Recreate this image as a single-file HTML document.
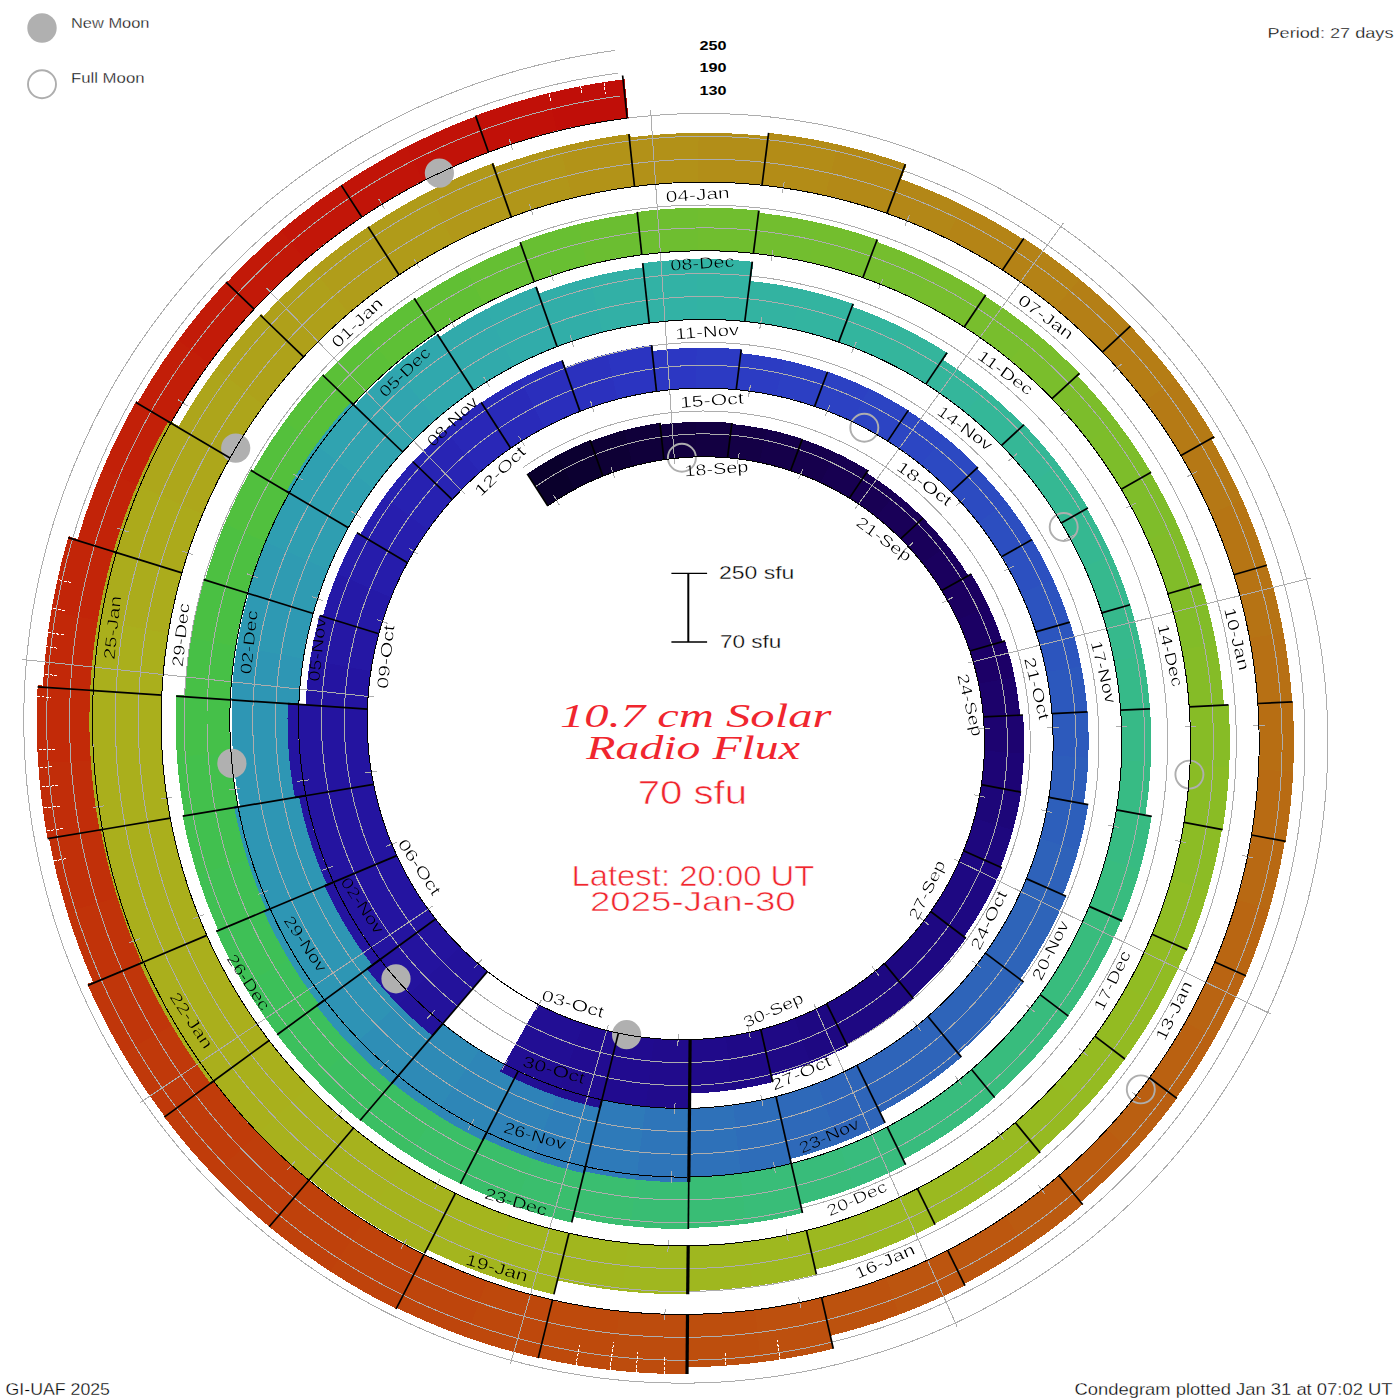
<!DOCTYPE html>
<html><head><meta charset="utf-8"><title>10.7 cm Solar Radio Flux condegram</title>
<style>
html,body{margin:0;padding:0;background:#fff;}
body{width:1400px;height:1400px;overflow:hidden;font-family:"Liberation Sans",sans-serif;}
svg{display:block;position:absolute;left:0;top:0;}
svg text{font-family:"Liberation Sans",sans-serif;}
svg text.ser{font-family:"Liberation Serif",serif;}
</style></head><body>
<svg width="1400" height="1400" viewBox="0 0 1400 1400">
<rect width="1400" height="1400" fill="#fff"/>
<g shape-rendering="crispEdges">
<path d="M488.5 152.3L499.9 148.2L511.4 144.2L523 140.6L534.6 137.1L546.3 133.9L558.1 130.9L549.6 92.9L537.1 96.1L524.6 99.5L512.2 103.1L499.9 107.1L487.6 111.2L475.5 115.6Z" fill="rgb(193,16,8)"/>
<path d="M556.8 131.2L568.6 128.4L580.5 125.9L592.5 123.6L604.5 121.5L616.5 119.6L628.6 118L624.5 79.3L611.7 81L598.9 82.9L586.1 85.1L573.4 87.6L560.7 90.3L548.1 93.3Z" fill="rgb(192,14,8)"/>
<path d="M361.9 217.2L372 210.6L382.2 204.1L392.6 197.9L403.1 191.9L413.7 186.1L424.5 180.4L407.7 146.1L396.3 152.1L385 158.3L373.9 164.7L362.8 171.3L351.9 178.1L341.2 185.1Z" fill="rgb(193,20,8)"/>
<path d="M423.2 181.1L434 175.7L445 170.5L456 165.5L467.2 160.7L478.5 156.1L489.8 151.8L477.2 115.8L465.1 120.4L453.2 125.2L441.3 130.3L429.6 135.6L417.9 141.1L406.4 146.8Z" fill="rgb(193,18,8)"/>
<path d="M254.1 309.2L262.4 300.4L270.8 291.8L279.5 283.4L288.3 275.2L297.2 267.1L306.3 259.2L282.1 229.7L272.4 238.1L262.9 246.6L253.6 255.4L244.4 264.3L235.4 273.4L226.6 282.7Z" fill="rgb(194,25,8)"/>
<path d="M305.3 260.1L314.5 252.4L323.9 244.8L333.5 237.4L343.2 230.2L353.1 223.2L363 216.4L342.4 184.3L331.8 191.5L321.3 198.9L311 206.6L300.8 214.4L290.8 222.4L281 230.6Z" fill="rgb(194,22,8)"/>
<path d="M170.8 423.1L176.8 412.7L183.1 402.4L189.5 392.3L196.1 382.3L202.9 372.4L209.9 362.6L179 339L171.5 349.4L164.2 359.9L157.2 370.5L150.3 381.3L143.7 392.2L137.3 403.3Z" fill="rgb(194,30,8)"/>
<path d="M209.1 363.8L216.3 354.1L223.7 344.6L231.3 335.3L239 326.1L247 317L255.1 308.1L227.1 281.1L218.4 290.6L210 300.2L201.7 309.9L193.6 319.9L185.8 330L178.1 340.2Z" fill="rgb(194,27,8)"/>
<path d="M116.3 552.5L119.7 541.1L123.4 529.7L127.3 518.4L131.4 507.2L135.8 496.1L140.3 485L103 468.4L98.1 480.2L93.5 492.1L89.1 504.1L84.9 516.1L81 528.3L77.3 540.5Z" fill="rgb(194,35,8)"/>
<path d="M139.8 486.3L144.5 475.3L149.5 464.4L154.7 453.6L160.1 442.9L165.7 432.3L171.5 421.8L136.4 401L130.2 412.2L124.2 423.5L118.4 434.9L112.8 446.4L107.5 458L102.4 469.8Z" fill="rgb(194,32,8)"/>
<path d="M93.2 690.5L93.9 678.6L94.9 666.8L96 654.9L97.4 643.1L99.1 631.3L101 619.5L51.4 610.2L49.4 623L47.6 635.8L46.1 648.6L44.8 661.4L43.7 674.3L42.9 687.1Z" fill="rgb(194,40,8)"/>
<path d="M100.7 620.9L102.8 609.2L105.1 597.5L107.7 585.8L110.4 574.2L113.5 562.7L116.7 551.2L68.6 536.2L65.1 548.6L61.8 561.1L58.8 573.7L56 586.3L53.5 599L51.2 611.7Z" fill="rgb(194,37,8)"/>
<path d="M102.5 829.5L100.5 817.9L98.7 806.1L97.1 794.4L95.7 782.6L94.6 770.8L93.7 759L38.1 761.6L39 774.5L40.2 787.4L41.7 800.3L43.4 813.1L45.3 825.9L47.6 838.7Z" fill="rgb(193,45,9)"/>
<path d="M93.8 760.4L93.1 748.5L92.7 736.6L92.5 724.8L92.5 712.9L92.8 701L93.3 689.1L37.7 685.2L37.1 698.2L36.8 711.2L36.8 724.2L37 737.2L37.4 750.1L38.2 763.1Z" fill="rgb(194,42,8)"/>
<path d="M143.5 962.1L138.8 951.2L134.4 940.3L130.1 929.3L126.1 918.2L122.3 907L118.8 895.7L66.7 910.7L70.5 922.9L74.7 935.2L79 947.3L83.6 959.3L88.5 971.2L93.5 983.1Z" fill="rgb(193,51,9)"/>
<path d="M119.2 897L115.8 885.7L112.6 874.3L109.7 862.9L107 851.3L104.5 839.8L102.3 828.1L48.8 836.9L51.2 849.6L53.9 862.2L56.8 874.8L60 887.3L63.4 899.7L67.1 912.1Z" fill="rgb(193,48,9)"/>
<path d="M213.6 1081.1L206.6 1071.6L199.8 1062.1L193.2 1052.4L186.7 1042.5L180.5 1032.6L174.4 1022.5L121.8 1052L128.5 1063.1L135.4 1074.1L142.4 1085L149.7 1095.7L157.2 1106.2L164.9 1116.6Z" fill="rgb(192,57,10)"/>
<path d="M175.1 1023.7L169.2 1013.5L163.6 1003.1L158.1 992.7L152.8 982.2L147.8 971.5L142.9 960.8L87.3 984L92.6 995.9L98.1 1007.6L103.9 1019.2L109.9 1030.7L116.2 1042.1L122.6 1053.3Z" fill="rgb(192,54,10)"/>
<path d="M308.9 1180.2L299.9 1172.7L291.1 1165L282.5 1157.1L274 1149.1L265.6 1140.9L257.5 1132.5L212.6 1173.9L221.6 1183.1L230.8 1192.2L240.1 1201.1L249.6 1209.8L259.3 1218.3L269.2 1226.7Z" fill="rgb(191,62,11)"/>
<path d="M258.4 1133.5L250.4 1124.9L242.5 1116.3L234.8 1107.4L227.3 1098.4L219.9 1089.3L212.8 1080L163.4 1115.8L171.3 1126.1L179.3 1136.2L187.6 1146.2L196.1 1155.9L204.8 1165.5L213.6 1175Z" fill="rgb(192,60,10)"/>
<path d="M424 1254.5L413.6 1249.2L403.3 1243.8L393.1 1238.1L383 1232.3L373 1226.2L363.2 1220L329 1270.6L339.9 1277.5L350.9 1284.2L362 1290.7L373.2 1296.9L384.6 1303L396.1 1308.8Z" fill="rgb(191,67,11)"/>
<path d="M364.3 1220.7L354.6 1214.3L345 1207.7L335.5 1200.9L326.1 1193.9L316.9 1186.7L307.8 1179.4L268 1225.7L278 1233.8L288.2 1241.8L298.5 1249.5L309 1257L319.6 1264.3L330.3 1271.4Z" fill="rgb(191,65,11)"/>
<path d="M552.5 1299.9L541.3 1297.2L530 1294.3L518.9 1291.2L507.8 1287.9L496.7 1284.3L485.7 1280.5L464.6 1336.6L476.7 1340.8L488.8 1344.7L501.1 1348.4L513.4 1351.9L525.8 1355.1L538.2 1358.1Z" fill="rgb(190,72,12)"/>
<path d="M487 1281L476.1 1277L465.3 1272.8L454.5 1268.4L443.8 1263.7L433.2 1258.9L422.8 1253.8L395.2 1307.1L406.8 1312.7L418.4 1318L430.2 1323.1L442 1328L454 1332.7L466 1337.1Z" fill="rgb(190,69,12)"/>
<path d="M687.5 1314.4L676 1314.4L664.4 1314.2L652.9 1313.7L641.4 1313L629.8 1312.1L618.3 1311L610.7 1370L623.4 1371.3L636.1 1372.3L648.8 1373.1L661.5 1373.7L674.3 1373.9L687 1374Z" fill="rgb(189,76,13)"/>
<path d="M619.7 1311.1L608.2 1309.8L596.7 1308.2L585.3 1306.4L573.9 1304.3L562.5 1302.1L551.2 1299.6L536.8 1357.4L549.3 1360.1L561.8 1362.6L574.3 1364.9L586.9 1366.9L599.6 1368.7L612.2 1370.2Z" fill="rgb(190,74,12)"/>
<path d="M821.6 1297.5L810.5 1300.1L799.2 1302.6L787.9 1304.8L776.6 1306.7L765.2 1308.5L753.8 1310L759.3 1362.4L771.8 1360.8L784.2 1358.9L796.5 1356.7L808.8 1354.3L821.1 1351.7L833.3 1348.8Z" fill="rgb(189,80,14)"/>
<path d="M755.2 1309.9L743.7 1311.2L732.2 1312.3L720.8 1313.2L709.2 1313.8L697.7 1314.2L686.2 1314.4L685.6 1367.1L698.1 1366.9L710.7 1366.5L723.3 1365.8L735.8 1364.8L748.3 1363.7L760.8 1362.2Z" fill="rgb(189,78,13)"/>
<path d="M947.7 1250.3L937.4 1255.4L927.1 1260.3L916.7 1265.1L906.2 1269.6L895.5 1273.9L884.8 1278L897.8 1315.1L909.3 1310.7L920.6 1306.1L931.9 1301.3L943 1296.3L954.1 1291L965 1285.6Z" fill="rgb(188,85,15)"/>
<path d="M886.1 1277.5L875.3 1281.4L864.5 1285.1L853.5 1288.6L842.5 1291.9L831.5 1295L820.3 1297.8L828.9 1336.2L840.8 1333.1L852.7 1329.9L864.4 1326.4L876.1 1322.7L887.7 1318.8L899.2 1314.6Z" fill="rgb(188,82,14)"/>
<path d="M1058.9 1175.6L1050.2 1182.9L1041.3 1190L1032.3 1197L1023.1 1203.8L1013.8 1210.4L1004.4 1216.9L1024.6 1248.4L1034.6 1241.5L1044.6 1234.5L1054.3 1227.3L1063.9 1219.8L1073.4 1212.2L1082.7 1204.5Z" fill="rgb(187,90,16)"/>
<path d="M1005.5 1216.1L996 1222.4L986.3 1228.5L976.5 1234.4L966.6 1240.1L956.6 1245.6L946.5 1250.9L962.9 1284.5L973.7 1278.9L984.3 1273L994.9 1267L1005.3 1260.7L1015.6 1254.2L1025.8 1247.6Z" fill="rgb(188,87,15)"/>
<path d="M1149.5 1077.7L1142.8 1086.8L1135.8 1095.7L1128.7 1104.6L1121.4 1113.2L1113.9 1121.8L1106.2 1130.2L1130.9 1154.1L1139 1145.2L1147 1136.1L1154.7 1126.9L1162.3 1117.6L1169.7 1108.1L1176.9 1098.4Z" fill="rgb(186,95,17)"/>
<path d="M1107.1 1129.2L1099.3 1137.5L1091.4 1145.6L1083.2 1153.5L1074.9 1161.3L1066.5 1169L1057.9 1176.4L1079.7 1203L1088.8 1195.1L1097.7 1187L1106.5 1178.8L1115.2 1170.4L1123.6 1161.8L1131.9 1153Z" fill="rgb(187,92,16)"/>
<path d="M1214.8 962L1210.3 972.4L1205.7 982.7L1200.8 992.9L1195.7 1002.9L1190.4 1012.9L1184.9 1022.8L1213.8 1040L1219.6 1029.5L1225.2 1018.9L1230.6 1008.2L1235.8 997.5L1240.8 986.6L1245.5 975.6Z" fill="rgb(185,100,18)"/>
<path d="M1185.6 1021.7L1179.9 1031.5L1174.1 1041.2L1168 1050.7L1161.8 1060.2L1155.4 1069.5L1148.7 1078.7L1175.4 1099.1L1182.5 1089.4L1189.3 1079.5L1195.9 1069.5L1202.3 1059.4L1208.5 1049.1L1214.5 1038.7Z" fill="rgb(186,97,17)"/>
<path d="M1251.5 835L1249.6 846.1L1247.4 857.1L1245 868.1L1242.4 879L1239.6 889.9L1236.5 900.8L1268.9 910.9L1272.2 899.4L1275.2 887.9L1278 876.3L1280.5 864.6L1282.8 852.9L1284.9 841.2Z" fill="rgb(184,105,19)"/>
<path d="M1236.9 899.5L1233.7 910.3L1230.2 921L1226.5 931.7L1222.7 942.3L1218.6 952.8L1214.3 963.2L1245.3 977.1L1249.9 966L1254.2 954.9L1258.3 943.6L1262.2 932.3L1265.9 921L1269.3 909.5Z" fill="rgb(185,102,18)"/>
<path d="M1257.9 703.5L1258.5 714.7L1258.9 725.9L1259.2 737.1L1259.1 748.3L1258.9 759.5L1258.5 770.7L1293.1 773.1L1293.6 761.2L1293.9 749.3L1293.9 737.4L1293.7 725.5L1293.2 713.7L1292.6 701.8Z" fill="rgb(183,110,19)"/>
<path d="M1258.5 769.4L1257.9 780.6L1257 791.7L1255.9 802.9L1254.6 814.1L1253 825.2L1251.3 836.3L1285.4 842.7L1287.3 830.9L1288.9 819.1L1290.4 807.3L1291.5 795.5L1292.5 783.6L1293.2 771.7Z" fill="rgb(184,107,19)"/>
<path d="M1233.8 574.7L1237 585.4L1240 596.1L1242.8 606.9L1245.4 617.8L1247.7 628.7L1249.8 639.6L1283.7 634.1L1281.5 622.4L1279 610.9L1276.3 599.3L1273.4 587.9L1270.2 576.5L1266.8 565.2Z" fill="rgb(182,115,20)"/>
<path d="M1249.6 638.3L1251.5 649.3L1253.3 660.4L1254.8 671.4L1256 682.5L1257.1 693.7L1258 704.8L1292.3 703.2L1291.4 691.4L1290.3 679.6L1288.9 667.8L1287.3 656.1L1285.5 644.3L1283.5 632.7Z" fill="rgb(183,112,20)"/>
<path d="M1181 455.4L1186.5 465L1191.9 474.8L1197 484.6L1202 494.5L1206.8 504.5L1211.4 514.7L1243.1 501.4L1238.2 490.7L1233.2 480L1227.9 469.5L1222.4 459.1L1216.8 448.7L1210.9 438.5Z" fill="rgb(181,120,21)"/>
<path d="M1210.8 513.5L1215.3 523.7L1219.5 534L1223.5 544.3L1227.3 554.8L1230.8 565.3L1234.2 575.9L1267.2 566.5L1263.7 555.2L1259.9 544L1255.9 532.9L1251.6 521.9L1247.2 511L1242.5 500.1Z" fill="rgb(182,117,20)"/>
<path d="M1102.4 352.1L1110 360.1L1117.4 368.3L1124.6 376.6L1131.7 385.1L1138.7 393.7L1145.4 402.4L1176.3 380L1169.1 370.6L1161.7 361.4L1154.1 352.4L1146.4 343.5L1138.5 334.7L1130.4 326.1Z" fill="rgb(181,125,21)"/>
<path d="M1144.6 401.4L1151.3 410.3L1157.7 419.3L1163.9 428.4L1170 437.7L1175.9 447.1L1181.6 456.6L1214.9 437.9L1208.8 427.7L1202.5 417.7L1196.1 407.8L1189.4 398L1182.5 388.4L1175.5 378.9Z" fill="rgb(181,122,21)"/>
<path d="M1002.5 270L1011.7 276L1020.8 282.2L1029.7 288.6L1038.5 295.2L1047.2 302L1055.8 308.9L1080.7 279.9L1071.5 272.5L1062.2 265.3L1052.8 258.3L1043.3 251.4L1033.6 244.8L1023.8 238.3Z" fill="rgb(180,130,22)"/>
<path d="M1054.8 308.1L1063.2 315.1L1071.5 322.4L1079.7 329.8L1087.7 337.4L1095.6 345.1L1103.3 353L1131.3 327.1L1123.1 318.7L1114.7 310.4L1106.2 302.3L1097.5 294.4L1088.6 286.6L1079.6 279.1Z" fill="rgb(180,127,22)"/>
<path d="M886.9 213.4L897.2 217.2L907.4 221.1L917.6 225.2L927.6 229.6L937.6 234.1L947.5 238.9L964.5 206L953.9 200.9L943.3 196L932.6 191.4L921.8 187L910.9 182.7L899.9 178.7Z" fill="rgb(179,135,23)"/>
<path d="M946.3 238.3L956.1 243.2L965.8 248.3L975.4 253.6L984.9 259.1L994.3 264.8L1003.6 270.7L1024.3 240L1014.4 233.7L1004.4 227.6L994.3 221.8L984 216.1L973.7 210.6L963.2 205.4Z" fill="rgb(180,132,22)"/>
<path d="M762 185.2L772.8 186.4L783.6 187.9L794.4 189.6L805.1 191.5L815.8 193.6L826.5 195.9L839.2 144.8L827.5 142.2L815.8 139.9L804.1 137.8L792.3 135.9L780.5 134.3L768.6 132.9Z" fill="rgb(179,140,23)"/>
<path d="M825.2 195.6L835.8 198.1L846.4 200.9L856.9 203.8L867.4 206.9L877.8 210.3L888.1 213.8L906.7 164.6L895.4 160.7L884 157L872.6 153.5L861.1 150.3L849.5 147.3L837.8 144.5Z" fill="rgb(179,137,23)"/>
<path d="M634.5 186.5L645.3 185.2L656.1 184.2L666.9 183.3L677.7 182.7L688.6 182.3L699.4 182.1L700 132.9L688.2 133.1L676.3 133.5L664.5 134.2L652.8 135.1L641 136.2L629.3 137.5Z" fill="rgb(178,145,24)"/>
<path d="M698.1 182.1L709 182.1L719.9 182.3L730.7 182.7L741.6 183.4L752.4 184.2L763.3 185.3L769.6 136.5L757.8 135.3L745.9 134.3L734.1 133.6L722.3 133.1L710.4 132.9L698.6 132.9Z" fill="rgb(178,142,24)"/>
<path d="M511.3 217.1L521.5 213.4L531.7 209.9L542 206.6L552.3 203.5L562.7 200.6L573.2 197.9L561.7 146.5L550.2 149.4L538.8 152.6L527.4 156L516.1 159.6L504.9 163.4L493.8 167.4Z" fill="rgb(177,150,25)"/>
<path d="M572 198.2L582.5 195.7L593.1 193.4L603.7 191.3L614.3 189.5L625 187.8L635.8 186.3L630.3 134L618.5 135.5L606.8 137.3L595.1 139.4L583.4 141.6L571.8 144.1L560.3 146.9Z" fill="rgb(178,147,24)"/>
<path d="M399.1 275L408 269L417.1 263.3L426.3 257.8L435.6 252.4L445.1 247.2L454.6 242.2L429.7 191.1L419.1 196.6L408.7 202.3L398.4 208.2L388.2 214.3L378.2 220.6L368.3 227.2Z" fill="rgb(176,155,25)"/>
<path d="M453.5 242.8L463.1 237.9L472.8 233.3L482.6 228.8L492.5 224.6L502.5 220.5L512.5 216.6L493.7 163L482.6 167.2L471.6 171.7L460.6 176.4L449.8 181.3L439 186.4L428.4 191.7Z" fill="rgb(177,152,25)"/>
<path d="M303.6 356.8L311 349L318.4 341.4L326.1 333.9L333.9 326.5L341.8 319.4L349.9 312.3L313.6 268L304.6 275.8L295.9 283.7L287.2 291.8L278.8 300.1L270.5 308.5L262.4 317.1Z" fill="rgb(175,160,26)"/>
<path d="M348.9 313.1L357.1 306.3L365.5 299.5L373.9 292.9L382.5 286.5L391.3 280.3L400.1 274.3L369.2 226.1L359.4 232.7L349.8 239.6L340.2 246.7L330.8 253.9L321.6 261.3L312.5 268.9Z" fill="rgb(176,157,26)"/>
<path d="M230 458L235.3 448.8L240.8 439.6L246.5 430.6L252.3 421.7L258.4 413L264.6 404.3L216.6 367.7L209.7 377.3L203 387.1L196.4 397L190.1 407L184 417.1L178.1 427.3Z" fill="rgb(173,165,27)"/>
<path d="M263.8 405.3L270.2 396.7L276.7 388.3L283.4 380L290.3 371.8L297.3 363.8L304.5 355.9L261.1 314L253.1 322.8L245.3 331.7L237.6 340.8L230.2 350L222.9 359.3L215.8 368.8Z" fill="rgb(174,162,26)"/>
<path d="M181.9 572.9L185 562.7L188.2 552.6L191.6 542.6L195.2 532.6L199.1 522.8L203.1 512.9L137.5 483.7L132.9 494.9L128.6 506.1L124.4 517.4L120.5 528.7L116.8 540.1L113.4 551.6Z" fill="rgb(172,170,27)"/>
<path d="M202.6 514.1L206.8 504.3L211.2 494.7L215.7 485.1L220.5 475.6L225.5 466.2L230.6 456.9L168.9 420.3L163 430.8L157.4 441.5L152 452.2L146.8 463.1L141.8 474L137 485Z" fill="rgb(173,167,27)"/>
<path d="M161.8 695.2L162.4 684.6L163.2 674.1L164.2 663.6L165.4 653.2L166.8 642.7L168.5 632.3L98 619L96.1 630.8L94.4 642.7L93 654.6L91.8 666.5L90.9 678.4L90.2 690.3Z" fill="rgb(170,175,28)"/>
<path d="M168.3 633.5L170.1 623.1L172.1 612.7L174.3 602.4L176.8 592.1L179.4 581.9L182.3 571.7L113.8 550.3L110.5 561.8L107.5 573.4L104.7 585.1L102.1 596.8L99.8 608.6L97.7 620.4Z" fill="rgb(171,172,28)"/>
<path d="M170.3 818.2L168.5 807.9L166.8 797.5L165.4 787.1L164.2 776.7L163.2 766.3L162.4 755.8L90.7 759.1L91.6 771L92.7 782.9L94 794.7L95.6 806.5L97.5 818.3L99.5 830Z" fill="rgb(170,175,28)"/>
<path d="M162.4 757L161.8 746.5L161.4 736L161.2 725.5L161.2 715L161.4 704.4L161.8 693.9L90.2 688.9L89.7 700.9L89.5 712.8L89.4 724.7L89.6 736.7L90.1 748.6L90.8 760.5Z" fill="rgb(170,175,28)"/>
<path d="M206.8 935.4L202.7 925.9L198.7 916.2L194.9 906.5L191.4 896.6L188 886.7L184.8 876.8L116.9 896.2L120.5 907.5L124.3 918.8L128.3 929.9L132.6 941L137.1 951.9L141.7 962.8Z" fill="rgb(170,175,28)"/>
<path d="M185.2 878L182.1 867.9L179.3 857.9L176.7 847.7L174.3 837.5L172.1 827.3L170.1 817L100.4 828.5L102.6 840.1L105.1 851.7L107.8 863.3L110.8 874.8L113.9 886.2L117.3 897.6Z" fill="rgb(170,175,28)"/>
<path d="M269.1 1040.5L262.9 1032.2L256.8 1023.8L251 1015.2L245.2 1006.5L239.7 997.7L234.3 988.8L171.1 1024.3L177.2 1034.5L183.5 1044.5L189.9 1054.4L196.6 1064.2L203.5 1073.8L210.5 1083.3Z" fill="rgb(170,175,28)"/>
<path d="M234.9 989.9L229.7 980.9L224.7 971.7L219.8 962.5L215.1 953.2L210.6 943.8L206.3 934.3L139.4 962.3L144.3 973.1L149.4 983.8L154.7 994.4L160.2 1004.9L165.9 1015.3L171.8 1025.5Z" fill="rgb(170,175,28)"/>
<path d="M353.5 1128L345.6 1121.4L337.8 1114.6L330.2 1107.7L322.6 1100.6L315.2 1093.3L308 1085.9L257.2 1132.7L265.4 1141.1L273.7 1149.4L282.2 1157.4L290.9 1165.3L299.7 1173L308.6 1180.5Z" fill="rgb(168,177,29)"/>
<path d="M308.8 1086.8L301.7 1079.3L294.7 1071.6L287.9 1063.8L281.2 1055.9L274.7 1047.8L268.4 1039.6L212.5 1080.2L219.6 1089.5L227 1098.6L234.5 1107.6L242.2 1116.5L250.1 1125.2L258.1 1133.7Z" fill="rgb(169,176,28)"/>
<path d="M455.4 1193.4L446.2 1188.8L437.1 1184L428.1 1179L419.1 1173.9L410.3 1168.5L401.6 1163L363.8 1219L373.7 1225.3L383.6 1231.3L393.7 1237.1L403.9 1242.8L414.1 1248.2L424.5 1253.4Z" fill="rgb(165,179,29)"/>
<path d="M402.6 1163.7L394 1158L385.5 1152.2L377.1 1146.2L368.8 1140.1L360.6 1133.7L352.6 1127.3L308.6 1178.5L317.6 1185.8L326.8 1193L336.2 1200L345.7 1206.8L355.3 1213.4L365 1219.8Z" fill="rgb(166,178,29)"/>
<path d="M569 1233.2L559.1 1230.9L549.1 1228.3L539.3 1225.6L529.4 1222.7L519.7 1219.5L510 1216.2L487.7 1275.1L498.6 1278.9L509.6 1282.4L520.6 1285.7L531.6 1288.8L542.7 1291.7L553.9 1294.4Z" fill="rgb(162,182,30)"/>
<path d="M511.1 1216.6L501.5 1213.1L491.9 1209.4L482.4 1205.6L472.9 1201.5L463.6 1197.3L454.3 1192.8L425.4 1248.8L435.8 1253.8L446.3 1258.5L456.8 1263.1L467.5 1267.5L478.2 1271.7L489 1275.6Z" fill="rgb(164,181,30)"/>
<path d="M688.2 1245.7L678 1245.7L667.8 1245.6L657.6 1245.2L647.4 1244.6L637.3 1243.8L627.1 1242.8L620.9 1290.9L632 1292L643.2 1292.9L654.3 1293.5L665.4 1294L676.6 1294.2L687.7 1294.2Z" fill="rgb(160,183,31)"/>
<path d="M628.3 1243L618.2 1241.8L608 1240.4L597.9 1238.9L587.9 1237.1L577.8 1235.1L567.8 1233L556.1 1280L567 1282.4L578 1284.5L589 1286.5L600.1 1288.2L611.1 1289.7L622.2 1291Z" fill="rgb(161,182,30)"/>
<path d="M806.4 1230.5L796.6 1232.8L786.7 1235L776.7 1237L766.7 1238.7L756.7 1240.3L746.6 1241.7L751.3 1286.5L762.3 1285L773.2 1283.3L784.1 1281.4L794.9 1279.3L805.7 1277L816.4 1274.4Z" fill="rgb(158,184,31)"/>
<path d="M747.8 1241.5L737.7 1242.7L727.6 1243.7L717.5 1244.5L707.3 1245.1L697.2 1245.5L687 1245.7L686.5 1290.8L697.5 1290.6L708.6 1290.2L719.6 1289.5L730.6 1288.7L741.7 1287.6L752.6 1286.3Z" fill="rgb(159,183,31)"/>
<path d="M917.4 1188.6L908.4 1193.1L899.3 1197.5L890.1 1201.7L880.9 1205.7L871.5 1209.5L862.1 1213.2L875.4 1251L885.5 1247.1L895.6 1243L905.6 1238.7L915.5 1234.1L925.3 1229.5L935.1 1224.6Z" fill="rgb(155,185,32)"/>
<path d="M863.2 1212.7L853.7 1216.2L844.2 1219.5L834.5 1222.6L824.8 1225.5L815.1 1228.2L805.3 1230.8L814.1 1269.9L824.6 1267.2L835.2 1264.2L845.6 1261.1L856 1257.8L866.3 1254.3L876.6 1250.5Z" fill="rgb(156,184,32)"/>
<path d="M1015.3 1122.5L1007.6 1129L999.8 1135.3L991.9 1141.5L983.8 1147.5L975.6 1153.3L967.3 1159L988.6 1192.1L997.5 1186L1006.3 1179.7L1015 1173.3L1023.5 1166.6L1032 1159.8L1040.2 1152.9Z" fill="rgb(152,186,33)"/>
<path d="M968.3 1158.4L959.9 1163.9L951.4 1169.3L942.8 1174.5L934.1 1179.6L925.3 1184.4L916.4 1189.1L933.6 1224.5L943.2 1219.4L952.7 1214.2L962.1 1208.8L971.4 1203.2L980.6 1197.4L989.6 1191.4Z" fill="rgb(154,185,32)"/>
<path d="M1094.8 1036.1L1088.9 1044.2L1082.8 1052.1L1076.5 1059.8L1070.1 1067.5L1063.5 1075.1L1056.8 1082.5L1084 1108.7L1091.2 1100.8L1098.3 1092.7L1105.2 1084.4L1111.9 1076.1L1118.5 1067.6L1124.9 1059Z" fill="rgb(149,187,34)"/>
<path d="M1057.6 1081.6L1050.7 1088.9L1043.7 1096.1L1036.6 1103.1L1029.3 1110L1021.9 1116.7L1014.4 1123.3L1038.3 1152.5L1046.4 1145.5L1054.4 1138.2L1062.2 1130.8L1069.9 1123.3L1077.5 1115.6L1084.8 1107.8Z" fill="rgb(150,186,33)"/>
<path d="M1152 934.2L1148.1 943.3L1144 952.4L1139.7 961.4L1135.3 970.3L1130.6 979.1L1125.8 987.8L1158.3 1007.1L1163.5 997.7L1168.5 988.2L1173.3 978.7L1177.9 969L1182.3 959.3L1186.5 949.5Z" fill="rgb(145,188,35)"/>
<path d="M1126.4 986.8L1121.5 995.4L1116.3 1004L1111 1012.4L1105.6 1020.7L1099.9 1029L1094.1 1037.1L1124.2 1060L1130.4 1051.3L1136.5 1042.4L1142.4 1033.5L1148.1 1024.4L1153.6 1015.2L1159 1006Z" fill="rgb(147,187,34)"/>
<path d="M1184 822.4L1182.3 832.2L1180.4 841.9L1178.3 851.5L1176 861.2L1173.6 870.8L1170.9 880.3L1207.7 891.8L1210.6 881.5L1213.3 871.2L1215.7 860.8L1218 850.4L1220 840L1221.9 829.5Z" fill="rgb(140,188,37)"/>
<path d="M1171.3 879.2L1168.4 888.7L1165.4 898.1L1162.2 907.5L1158.9 916.8L1155.3 926.1L1151.5 935.3L1186.8 951L1190.8 941.1L1194.7 931.1L1198.3 921.1L1201.8 911L1205 900.8L1208.1 890.6Z" fill="rgb(143,188,36)"/>
<path d="M1189.2 706.9L1189.8 716.7L1190.3 726.5L1190.5 736.3L1190.5 746.2L1190.3 756L1189.9 765.9L1229.1 768.6L1229.6 758L1229.8 747.4L1229.8 736.8L1229.6 726.1L1229.1 715.5L1228.5 704.9Z" fill="rgb(135,188,38)"/>
<path d="M1190 764.7L1189.4 774.6L1188.7 784.4L1187.8 794.2L1186.6 804L1185.3 813.8L1183.8 823.6L1222.4 830.8L1224.1 820.3L1225.5 809.8L1226.7 799.2L1227.8 788.6L1228.6 778L1229.2 767.4Z" fill="rgb(138,188,37)"/>
<path d="M1167.8 593.8L1170.7 603.1L1173.3 612.6L1175.8 622L1178.1 631.6L1180.1 641.1L1182 650.8L1216.3 645.1L1214.3 634.8L1212.1 624.6L1209.7 614.4L1207 604.2L1204.2 594.2L1201.2 584.1Z" fill="rgb(130,188,40)"/>
<path d="M1181.8 649.6L1183.6 659.3L1185.1 669L1186.4 678.7L1187.6 688.4L1188.6 698.2L1189.3 708L1224 706.4L1223.2 695.9L1222.2 685.5L1221 675L1219.6 664.6L1217.9 654.2L1216.1 643.9Z" fill="rgb(133,188,39)"/>
<path d="M1121.2 489.2L1126 497.6L1130.8 506.2L1135.3 514.8L1139.7 523.5L1143.9 532.2L1148 541.1L1179 528.2L1174.7 518.7L1170.2 509.3L1165.5 500L1160.6 490.8L1155.6 481.7L1150.4 472.7Z" fill="rgb(127,189,42)"/>
<path d="M1147.5 540.1L1151.4 549L1155.1 558L1158.7 567.2L1162 576.3L1165.2 585.6L1168.2 594.9L1200.5 585.6L1197.3 575.7L1193.9 565.8L1190.3 556L1186.6 546.3L1182.6 536.6L1178.5 527.1Z" fill="rgb(129,188,41)"/>
<path d="M1052 398.7L1058.6 405.8L1065.2 412.9L1071.5 420.2L1077.8 427.6L1083.9 435.2L1089.8 442.8L1117.6 422.6L1111.3 414.4L1104.8 406.3L1098.1 398.4L1091.3 390.6L1084.3 382.9L1077.2 375.4Z" fill="rgb(124,189,43)"/>
<path d="M1089.2 441.9L1095 449.7L1100.6 457.6L1106.2 465.6L1111.5 473.7L1116.7 481.9L1121.7 490.2L1151.7 473.4L1146.3 464.5L1140.8 455.7L1135 447L1129.2 438.4L1123.1 430L1116.9 421.7Z" fill="rgb(125,189,42)"/>
<path d="M964.2 327L972.3 332.3L980.2 337.7L988.1 343.3L995.9 349L1003.5 354.9L1011 361L1035.4 332.6L1027.3 326.1L1019.1 319.7L1010.8 313.5L1002.3 307.5L993.7 301.7L985.1 296Z" fill="rgb(120,190,45)"/>
<path d="M1010.1 360.3L1017.5 366.5L1024.8 372.8L1032 379.3L1039.1 385.9L1046 392.7L1052.8 399.6L1080.3 374.2L1073 366.8L1065.5 359.5L1058 352.3L1050.3 345.3L1042.4 338.5L1034.4 331.8Z" fill="rgb(122,190,44)"/>
<path d="M862.8 277.7L871.8 281L880.8 284.4L889.7 288L898.5 291.8L907.2 295.8L915.9 299.9L933.6 265.7L924.3 261.2L914.8 256.9L905.3 252.8L895.7 248.9L886.1 245.2L876.4 241.7Z" fill="rgb(117,190,46)"/>
<path d="M914.9 299.4L923.5 303.7L932 308.1L940.4 312.8L948.8 317.6L957 322.5L965.2 327.6L986.7 295.7L978 290.1L969.1 284.8L960.1 279.6L951 274.6L941.8 269.8L932.5 265.1Z" fill="rgb(119,190,45)"/>
<path d="M753.4 253.3L762.9 254.4L772.3 255.7L781.7 257.1L791.1 258.7L800.5 260.6L809.8 262.6L819.7 223L809.6 220.8L799.4 218.8L789.3 217L779 215.4L768.8 214L758.5 212.8Z" fill="rgb(114,190,47)"/>
<path d="M808.8 262.3L818.1 264.5L827.3 266.9L836.5 269.4L845.7 272.1L854.8 275L863.9 278.1L878.3 239.9L868.5 236.5L858.6 233.4L848.7 230.4L838.7 227.6L828.6 225.1L818.5 222.7Z" fill="rgb(115,190,46)"/>
<path d="M641.8 254.8L651.3 253.7L660.7 252.7L670.2 252L679.6 251.4L689.1 251L698.6 250.8L699.1 207.7L688.8 207.9L678.4 208.3L668.1 208.9L657.8 209.7L647.5 210.7L637.2 211.9Z" fill="rgb(110,190,48)"/>
<path d="M697.5 250.8L707 250.8L716.5 250.9L726 251.3L735.5 251.8L745 252.5L754.5 253.4L760 210.7L749.7 209.7L739.3 208.9L729 208.3L718.6 207.9L708.3 207.7L697.9 207.7Z" fill="rgb(112,190,47)"/>
<path d="M534.2 281.8L543.1 278.6L552 275.5L561 272.6L570 269.9L579.1 267.3L588.3 264.9L579.1 224L569.1 226.5L559.2 229.3L549.4 232.2L539.6 235.4L529.9 238.7L520.2 242.3Z" fill="rgb(104,191,50)"/>
<path d="M587.2 265.2L596.4 263L605.6 261L614.9 259.1L624.2 257.4L633.6 256L643 254.7L638.6 212.9L628.4 214.3L618.2 215.9L608 217.7L597.9 219.7L587.9 221.9L577.9 224.3Z" fill="rgb(107,190,49)"/>
<path d="M436.3 332.7L444.1 327.5L452 322.5L460 317.6L468.2 312.9L476.4 308.3L484.7 303.9L467.5 268.6L458.5 273.4L449.6 278.3L440.8 283.4L432.1 288.6L423.5 294.1L415 299.7Z" fill="rgb(97,191,52)"/>
<path d="M483.7 304.5L492.1 300.2L500.6 296.1L509.1 292.2L517.8 288.4L526.5 284.9L535.3 281.4L522.3 244.4L512.7 248L503.3 251.9L493.9 255.9L484.7 260.2L475.5 264.6L466.4 269.2Z" fill="rgb(101,191,51)"/>
<path d="M353.2 404.4L359.5 397.6L366.1 390.9L372.7 384.4L379.5 377.9L386.4 371.6L393.4 365.5L367.5 333.9L359.9 340.6L352.4 347.4L345 354.4L337.8 361.5L330.7 368.7L323.7 376.1Z" fill="rgb(91,192,55)"/>
<path d="M392.6 366.2L399.7 360.1L407 354.2L414.4 348.5L421.9 342.9L429.5 337.4L437.2 332.1L415.2 297.7L406.8 303.5L398.5 309.4L390.3 315.5L382.3 321.7L374.4 328.1L366.6 334.7Z" fill="rgb(94,192,54)"/>
<path d="M289.2 492.9L293.8 484.8L298.6 476.9L303.5 469L308.6 461.2L313.8 453.5L319.2 446L285.5 420.3L279.6 428.5L273.9 436.9L268.3 445.3L262.9 453.9L257.7 462.6L252.7 471.4Z" fill="rgb(84,192,60)"/>
<path d="M318.5 446.8L324.1 439.4L329.8 432L335.6 424.7L341.5 417.6L347.7 410.5L353.9 403.6L323.4 374.2L316.6 381.7L309.9 389.4L303.4 397.1L297 405L290.8 413.1L284.8 421.2Z" fill="rgb(87,192,57)"/>
<path d="M247.6 593.2L250.2 584.3L253 575.5L255.9 566.8L259 558.1L262.4 549.5L265.8 540.9L225 522.7L221.2 532.1L217.6 541.5L214.1 551.1L210.8 560.6L207.8 570.3L204.9 580Z" fill="rgb(77,192,65)"/>
<path d="M265.4 541.9L269 533.4L272.8 524.9L276.8 516.6L280.9 508.3L285.2 500.1L289.7 491.9L251.3 469.1L246.4 478L241.7 487L237.1 496.1L232.8 505.3L228.6 514.5L224.6 523.8Z" fill="rgb(81,192,62)"/>
<path d="M230.3 699.8L230.8 690.6L231.5 681.5L232.3 672.3L233.4 663.2L234.6 654.1L236 645L191 636.5L189.4 646.5L188.1 656.5L186.9 666.5L185.9 676.6L185.2 686.6L184.6 696.7Z" fill="rgb(71,192,70)"/>
<path d="M235.8 646.1L237.4 637L239.1 627.9L241 618.9L243.1 610L245.4 601L247.9 592.1L204.1 578.5L201.4 588.2L198.9 598.1L196.6 607.9L194.4 617.8L192.5 627.7L190.8 637.7Z" fill="rgb(74,192,67)"/>
<path d="M238.1 806.9L236.4 797.9L235 788.9L233.7 779.9L232.6 770.8L231.7 761.7L231 752.6L176.8 755.1L177.6 765.3L178.6 775.5L179.8 785.6L181.2 795.7L182.8 805.8L184.6 815.8Z" fill="rgb(67,192,76)"/>
<path d="M231.1 753.7L230.5 744.5L230.1 735.4L229.9 726.2L229.9 717.1L230 707.9L230.3 698.7L176.3 694.9L175.9 705.2L175.7 715.4L175.7 725.6L175.9 735.9L176.3 746.1L176.9 756.3Z" fill="rgb(69,192,73)"/>
<path d="M270.2 908.8L266.5 900.5L263.1 892.1L259.7 883.6L256.6 875.1L253.6 866.5L250.8 857.9L196.9 873.3L200 883L203.3 892.7L206.8 902.3L210.5 911.8L214.4 921.2L218.4 930.6Z" fill="rgb(64,192,83)"/>
<path d="M251.2 858.9L248.5 850.2L246 841.4L243.7 832.6L241.6 823.7L239.6 814.8L237.9 805.9L182.5 815L184.5 825L186.6 835L189 845L191.6 854.8L194.3 864.7L197.3 874.5Z" fill="rgb(65,192,79)"/>
<path d="M324.6 1000L319.2 992.8L313.9 985.5L308.7 978.1L303.7 970.5L298.9 962.9L294.2 955.2L243.3 983.8L248.6 992.5L254 1001.1L259.6 1009.6L265.4 1018L271.3 1026.3L277.4 1034.5Z" fill="rgb(60,192,89)"/>
<path d="M294.8 956.1L290.2 948.3L285.8 940.3L281.5 932.3L277.4 924.3L273.5 916.1L269.7 907.8L215.8 930.3L220.1 939.7L224.5 948.9L229.1 958L233.8 967L238.8 976L243.9 984.8Z" fill="rgb(62,192,86)"/>
<path d="M398.2 1075.8L391.3 1070.1L384.5 1064.2L377.8 1058.2L371.3 1052.1L364.8 1045.8L358.5 1039.4L315.3 1079.2L322.4 1086.5L329.6 1093.6L337 1100.5L344.6 1107.3L352.2 1114L360 1120.5Z" fill="rgb(59,191,96)"/>
<path d="M359.2 1040.1L353 1033.6L346.9 1027L341 1020.2L335.2 1013.3L329.5 1006.3L323.9 999.2L276.4 1033.7L282.6 1041.8L289 1049.7L295.6 1057.5L302.3 1065.2L309.1 1072.7L316.1 1080.1Z" fill="rgb(60,192,93)"/>
<path d="M486.8 1132.3L478.8 1128.3L470.9 1124.2L463 1119.9L455.3 1115.4L447.6 1110.8L440 1106.1L407.6 1154.2L416.1 1159.6L424.8 1164.8L433.5 1169.8L442.3 1174.7L451.3 1179.3L460.3 1183.8Z" fill="rgb(59,191,103)"/>
<path d="M440.9 1106.7L433.4 1101.8L426 1096.7L418.7 1091.6L411.5 1086.2L404.4 1080.8L397.4 1075.2L359.6 1119.2L367.4 1125.5L375.4 1131.7L383.6 1137.7L391.8 1143.6L400.1 1149.3L408.6 1154.8Z" fill="rgb(59,191,99)"/>
<path d="M585.5 1166.5L576.8 1164.5L568.2 1162.3L559.7 1160L551.1 1157.5L542.7 1154.8L534.2 1151.9L513.9 1205.9L523.4 1209.1L532.9 1212.2L542.5 1215L552.2 1217.7L561.9 1220.2L571.7 1222.5Z" fill="rgb(58,190,109)"/>
<path d="M535.2 1152.3L526.8 1149.3L518.5 1146.1L510.3 1142.8L502.1 1139.3L493.9 1135.6L485.9 1131.8L459.4 1183L468.5 1187.3L477.6 1191.5L486.9 1195.5L496.2 1199.2L505.6 1202.8L515 1206.3Z" fill="rgb(58,190,106)"/>
<path d="M688.8 1177L680 1177.1L671.2 1177L662.3 1176.6L653.5 1176.2L644.7 1175.5L635.9 1174.7L629.3 1226.2L639.1 1227.1L648.9 1227.9L658.8 1228.4L668.6 1228.8L678.5 1229L688.3 1228.9Z" fill="rgb(57,189,115)"/>
<path d="M636.9 1174.8L628.1 1173.8L619.3 1172.7L610.6 1171.3L601.8 1169.8L593.1 1168.1L584.5 1166.3L571.9 1216.7L581.6 1218.7L591.3 1220.6L601 1222.3L610.8 1223.9L620.6 1225.2L630.4 1226.3Z" fill="rgb(58,190,112)"/>
<path d="M791.2 1163.5L782.7 1165.6L774.1 1167.5L765.5 1169.2L756.8 1170.8L748.2 1172.2L739.5 1173.4L744.8 1223.9L754.5 1222.5L764.1 1221L773.8 1219.3L783.4 1217.4L792.9 1215.3L802.5 1213Z" fill="rgb(57,189,120)"/>
<path d="M740.5 1173.2L731.7 1174.3L723 1175.2L714.2 1175.9L705.4 1176.5L696.6 1176.8L687.8 1177L687.2 1227.8L697 1227.6L706.8 1227.2L716.6 1226.6L726.4 1225.8L736.2 1224.9L745.9 1223.7Z" fill="rgb(57,189,117)"/>
<path d="M887.2 1126.9L879.4 1130.9L871.5 1134.7L863.6 1138.3L855.6 1141.8L847.5 1145.2L839.4 1148.3L853.3 1188L862.2 1184.5L871 1180.9L879.8 1177L888.5 1173.1L897.1 1168.9L905.6 1164.6Z" fill="rgb(56,188,125)"/>
<path d="M840.3 1148L832.1 1151L823.8 1153.9L815.5 1156.6L807.1 1159.1L798.7 1161.5L790.2 1163.7L799.4 1204.7L808.7 1202.3L817.9 1199.7L827.1 1196.9L836.3 1194L845.3 1190.9L854.3 1187.6Z" fill="rgb(56,188,122)"/>
<path d="M971.6 1069.5L965 1075.1L958.2 1080.6L951.4 1085.9L944.5 1091.2L937.4 1096.3L930.3 1101.2L949.8 1131.7L957.6 1126.4L965.2 1120.9L972.8 1115.3L980.2 1109.5L987.5 1103.6L994.6 1097.5Z" fill="rgb(56,188,125)"/>
<path d="M931.1 1100.6L923.9 1105.4L916.5 1110.1L909.1 1114.7L901.6 1119L893.9 1123.3L886.2 1127.4L902.1 1160L910.5 1155.6L918.7 1151L926.9 1146.2L934.9 1141.4L942.9 1136.3L950.7 1131.1Z" fill="rgb(56,188,125)"/>
<path d="M1040.1 994.6L1035 1001.5L1029.7 1008.4L1024.3 1015.1L1018.8 1021.8L1013.2 1028.3L1007.4 1034.7L1032.9 1059.4L1039.2 1052.5L1045.3 1045.4L1051.3 1038.2L1057.1 1031L1062.8 1023.6L1068.4 1016.1Z" fill="rgb(56,188,125)"/>
<path d="M1008.1 1034L1002.2 1040.3L996.1 1046.5L990 1052.6L983.7 1058.6L977.3 1064.4L970.8 1070.2L993.3 1097.6L1000.4 1091.4L1007.3 1085.1L1014.1 1078.7L1020.7 1072.1L1027.3 1065.4L1033.7 1058.6Z" fill="rgb(56,188,125)"/>
<path d="M1089.2 906.4L1085.8 914.3L1082.3 922.1L1078.7 929.9L1074.8 937.6L1070.9 945.2L1066.7 952.8L1096.9 970.7L1101.4 962.5L1105.7 954.3L1109.9 946L1113.8 937.6L1117.6 929.1L1121.3 920.6Z" fill="rgb(56,188,125)"/>
<path d="M1067.2 951.9L1063 959.3L1058.6 966.7L1054 974L1049.3 981.3L1044.5 988.4L1039.5 995.4L1067.4 1016.7L1072.8 1009.1L1078.1 1001.4L1083.2 993.6L1088.1 985.8L1092.9 977.8L1097.5 969.7Z" fill="rgb(56,188,125)"/>
<path d="M1116.4 809.9L1115 818.3L1113.4 826.6L1111.6 835L1109.7 843.3L1107.6 851.6L1105.4 859.8L1139.6 870.5L1142.1 861.6L1144.4 852.6L1146.5 843.6L1148.4 834.6L1150.1 825.5L1151.7 816.4Z" fill="rgb(55,187,130)"/>
<path d="M1105.6 858.9L1103.2 867.1L1100.7 875.2L1097.9 883.3L1095 891.4L1092 899.4L1088.8 907.3L1121.6 921.9L1125.1 913.3L1128.4 904.7L1131.5 896L1134.5 887.2L1137.3 878.4L1139.9 869.5Z" fill="rgb(56,188,127)"/>
<path d="M1120.6 710.2L1121.2 718.7L1121.6 727.1L1121.8 735.6L1121.8 744.1L1121.7 752.6L1121.4 761.1L1150.7 763.1L1151 754.1L1151.2 745L1151.2 735.9L1150.9 726.9L1150.6 717.8L1150 708.8Z" fill="rgb(55,186,135)"/>
<path d="M1121.4 760.1L1121 768.6L1120.4 777.1L1119.6 785.5L1118.7 794L1117.5 802.4L1116.3 810.8L1145.1 816.3L1146.5 807.3L1147.7 798.3L1148.8 789.2L1149.6 780.2L1150.3 771.1L1150.8 762.1Z" fill="rgb(55,187,132)"/>
<path d="M1101.8 612.9L1104.3 620.9L1106.6 629L1108.8 637.2L1110.8 645.4L1112.6 653.6L1114.2 661.9L1143.2 657.1L1141.5 648.3L1139.5 639.5L1137.4 630.7L1135.2 622L1132.7 613.3L1130.1 604.7Z" fill="rgb(54,185,140)"/>
<path d="M1114.1 660.9L1115.6 669.2L1116.9 677.6L1118.1 685.9L1119.2 694.3L1120 702.8L1120.7 711.2L1150.1 709.8L1149.3 700.8L1148.4 691.8L1147.4 682.8L1146.1 673.9L1144.7 665L1143 656.1Z" fill="rgb(54,186,137)"/>
<path d="M1061.3 523L1065.6 530.2L1069.7 537.6L1073.6 544.9L1077.4 552.4L1081.1 560L1084.6 567.6L1111.7 556.3L1108 548.1L1104.1 540L1100 532L1095.8 524.1L1091.4 516.3L1086.9 508.6Z" fill="rgb(53,184,145)"/>
<path d="M1084.2 566.7L1087.6 574.4L1090.8 582.1L1093.9 590L1096.8 597.9L1099.5 605.8L1102.1 613.8L1130.4 605.7L1127.6 597.1L1124.7 588.6L1121.6 580.2L1118.3 571.8L1114.9 563.5L1111.3 555.3Z" fill="rgb(54,185,142)"/>
<path d="M1001.6 445.4L1007.3 451.4L1012.9 457.6L1018.5 463.8L1023.9 470.2L1029.1 476.6L1034.3 483.2L1059 465.2L1053.5 458.2L1047.8 451.2L1042.1 444.4L1036.2 437.7L1030.1 431.1L1024 424.7Z" fill="rgb(53,183,150)"/>
<path d="M1033.7 482.4L1038.7 489.1L1043.6 495.8L1048.4 502.7L1053 509.7L1057.5 516.7L1061.8 523.9L1088.5 508.9L1083.8 501.2L1079 493.7L1074 486.2L1068.9 478.8L1063.7 471.6L1058.3 464.4Z" fill="rgb(53,184,147)"/>
<path d="M925.9 384.1L932.9 388.6L939.7 393.2L946.5 398L953.2 402.9L959.8 407.9L966.2 413.1L985.6 390.5L978.7 385L971.7 379.6L964.5 374.3L957.3 369.2L950 364.2L942.5 359.3Z" fill="rgb(52,182,155)"/>
<path d="M965.5 412.5L971.9 417.8L978.2 423.2L984.3 428.7L990.4 434.4L996.4 440.2L1002.2 446.1L1024.1 425.9L1017.9 419.6L1011.5 413.4L1005 407.3L998.4 401.4L991.7 395.5L984.8 389.9Z" fill="rgb(52,183,152)"/>
<path d="M838.7 342.1L846.5 344.8L854.2 347.8L861.8 350.8L869.4 354L876.9 357.4L884.4 360.9L901.7 327.4L893.6 323.5L885.4 319.8L877.1 316.3L868.8 312.9L860.4 309.7L852 306.7Z" fill="rgb(51,181,158)"/>
<path d="M883.5 360.5L890.9 364.2L898.2 367.9L905.5 371.9L912.6 376L919.7 380.2L926.8 384.6L947.9 353.3L940.2 348.5L932.5 343.8L924.7 339.4L916.8 335.1L908.8 330.9L900.8 326.9Z" fill="rgb(52,181,156)"/>
<path d="M744.8 321.5L752.9 322.4L761 323.4L769.1 324.6L777.2 326L785.2 327.5L793.2 329.2L803.1 289.6L794.3 287.7L785.5 286L776.6 284.5L767.7 283.1L758.8 282L749.9 281Z" fill="rgb(51,179,161)"/>
<path d="M792.3 329L800.3 330.9L808.2 332.9L816.1 335L824 337.3L831.9 339.8L839.6 342.4L854.1 304.2L845.5 301.3L836.9 298.6L828.3 296L819.6 293.6L810.8 291.4L802.1 289.4Z" fill="rgb(51,180,160)"/>
<path d="M649.2 323.1L657.2 322.1L665.3 321.3L673.4 320.6L681.5 320.1L689.7 319.7L697.8 319.5L698.5 259.2L689.2 259.4L679.9 259.8L670.6 260.4L661.3 261.1L652 262L642.7 263.2Z" fill="rgb(50,178,165)"/>
<path d="M696.9 319.5L705 319.5L713.2 319.6L721.3 319.8L729.5 320.2L737.6 320.8L745.7 321.6L753.4 261.8L744.1 260.9L734.8 260.2L725.4 259.7L716.1 259.3L706.8 259.2L697.4 259.2Z" fill="rgb(50,179,163)"/>
<path d="M557.1 346.6L564.7 343.8L572.3 341.1L580 338.6L587.7 336.2L595.5 334L603.3 332L591 277.2L582.1 279.5L573.3 282L564.5 284.7L555.7 287.5L547 290.5L538.4 293.7Z" fill="rgb(49,174,168)"/>
<path d="M602.4 332.2L610.3 330.3L618.2 328.5L626.1 326.9L634.1 325.4L642.1 324.1L650.1 323L644.3 267.2L635.1 268.5L626 269.9L617 271.5L607.9 273.3L598.9 275.3L590 277.5Z" fill="rgb(50,176,166)"/>
<path d="M473.5 390.5L480.2 386L486.9 381.7L493.8 377.5L500.7 373.4L507.7 369.5L514.8 365.7L487 308.7L478.8 313.1L470.7 317.6L462.7 322.3L454.7 327.1L446.9 332.1L439.2 337.2Z" fill="rgb(49,170,171)"/>
<path d="M514 366.1L521.1 362.5L528.4 358.9L535.7 355.6L543.1 352.3L550.5 349.2L558 346.3L537 286.5L528.4 289.9L519.7 293.4L511.2 297.1L502.7 301L494.4 305L486.1 309.3Z" fill="rgb(49,172,170)"/>
<path d="M402.7 452L408.1 446.2L413.7 440.4L419.3 434.8L425.1 429.3L431 423.9L437 418.6L394.6 366.9L387.6 373.1L380.7 379.4L374 385.8L367.4 392.3L360.9 398.9L354.5 405.7Z" fill="rgb(48,165,175)"/>
<path d="M436.2 419.2L442.3 414L448.5 409L454.8 404L461.2 399.2L467.7 394.5L474.3 389.9L438.2 333.7L430.5 339L423 344.4L415.5 350L408.1 355.8L400.9 361.6L393.8 367.7Z" fill="rgb(48,168,173)"/>
<path d="M348.3 527.8L352.3 520.9L356.3 514.1L360.5 507.3L364.8 500.7L369.2 494.1L373.8 487.6L316.8 444.1L311.3 451.7L306.1 459.5L300.9 467.3L296 475.2L291.2 483.2L286.5 491.3Z" fill="rgb(47,160,177)"/>
<path d="M373.3 488.4L378 482L382.8 475.6L387.7 469.4L392.8 463.3L398 457.3L403.3 451.3L351.7 401.5L345.4 408.4L339.3 415.5L333.3 422.7L327.4 430L321.7 437.5L316.1 445Z" fill="rgb(48,163,176)"/>
<path d="M313.2 613.5L315.4 605.9L317.7 598.4L320.2 591L322.9 583.5L325.7 576.2L328.6 568.8L265.8 540.9L262.4 549.5L259 558.1L255.9 566.8L253 575.5L250.2 584.3L247.6 593.2Z" fill="rgb(47,155,178)"/>
<path d="M328.2 569.7L331.3 562.4L334.5 555.2L337.9 548L341.4 540.9L345 533.9L348.8 527L289.7 491.9L285.2 500.1L280.9 508.3L276.8 516.6L272.8 524.9L269 533.4L265.4 541.9Z" fill="rgb(47,158,177)"/>
<path d="M298.8 704.4L299.2 696.6L299.8 688.8L300.5 681L301.3 673.2L302.3 665.5L303.5 657.7L237.1 645.2L235.7 654.3L234.5 663.4L233.5 672.5L232.6 681.6L231.9 690.7L231.4 699.9Z" fill="rgb(46,150,180)"/>
<path d="M303.3 658.6L304.6 650.9L306.1 643.2L307.7 635.5L309.5 627.8L311.4 620.2L313.4 612.6L248.9 592.5L246.5 601.3L244.2 610.3L242.1 619.2L240.2 628.2L238.5 637.2L236.9 646.3Z" fill="rgb(46,153,179)"/>
<path d="M305.8 795.6L304.4 788L303.1 780.3L302 772.6L301.1 764.9L300.3 757.2L299.6 749.4L232.9 752.5L233.6 761.6L234.5 770.6L235.6 779.7L236.9 788.7L238.3 797.7L239.9 806.6Z" fill="rgb(46,150,180)"/>
<path d="M299.7 750.3L299.2 742.5L298.8 734.7L298.6 726.9L298.5 719.1L298.6 711.3L298.9 703.5L232.2 698.9L231.9 708L231.8 717.1L231.8 726.2L232 735.4L232.4 744.5L233 753.6Z" fill="rgb(46,150,180)"/>
<path d="M333.5 882.2L330.4 875.1L327.4 868L324.5 860.8L321.8 853.6L319.3 846.3L316.9 838.9L247.2 858.9L250 867.6L253 876.3L256.1 884.9L259.5 893.4L263 901.9L266.6 910.3Z" fill="rgb(46,150,180)"/>
<path d="M317.2 839.8L314.9 832.4L312.7 824.9L310.7 817.5L308.9 809.9L307.2 802.3L305.6 794.7L234.1 806.5L235.9 815.5L237.9 824.5L240 833.4L242.3 842.3L244.8 851.2L247.5 859.9Z" fill="rgb(46,150,180)"/>
<path d="M380.1 959.5L375.4 953.4L370.9 947.2L366.5 940.9L362.3 934.5L358.1 928.1L354.1 921.5L288.2 958.5L293 966.4L297.9 974.1L303 981.8L308.2 989.3L313.5 996.8L319 1004.1Z" fill="rgb(46,150,180)"/>
<path d="M354.6 922.3L350.7 915.7L346.9 909L343.2 902.2L339.7 895.3L336.4 888.4L333.1 881.4L263.4 910.5L267.2 918.9L271.2 927.2L275.4 935.4L279.7 943.5L284.1 951.5L288.8 959.5Z" fill="rgb(46,150,180)"/>
<path d="M442.8 1023.6L437 1018.8L431.2 1013.8L425.5 1008.7L419.9 1003.5L414.4 998.2L409 992.8L351.2 1046.1L357.7 1052.6L364.2 1059.1L370.9 1065.3L377.8 1071.5L384.7 1077.5L391.7 1083.4Z" fill="rgb(46,142,182)"/>
<path d="M409.6 993.5L404.4 987.9L399.2 982.3L394.1 976.6L389.1 970.8L384.3 964.8L379.5 958.8L315.9 1005L321.6 1012.3L327.4 1019.5L333.3 1026.5L339.4 1033.4L345.6 1040.2L352 1046.9Z" fill="rgb(46,147,181)"/>
<path d="M518.2 1071.1L511.4 1067.8L504.7 1064.3L498 1060.7L491.4 1057L484.9 1053.1L478.5 1049.1L434.9 1113.7L442.6 1118.5L450.5 1123.2L458.4 1127.8L466.4 1132.1L474.5 1136.3L482.6 1140.4Z" fill="rgb(46,134,183)"/>
<path d="M479.2 1049.6L472.8 1045.5L466.5 1041.3L460.3 1036.9L454.2 1032.4L448.1 1027.8L442.2 1023L391.4 1082.1L398.5 1087.8L405.8 1093.4L413.1 1098.9L420.6 1104.1L428.2 1109.3L435.8 1114.3Z" fill="rgb(46,138,182)"/>
<path d="M602 1099.8L594.6 1098.2L587.3 1096.3L580.1 1094.4L572.8 1092.3L565.6 1090L558.5 1087.7L531.8 1158.4L540.4 1161.3L549 1164L557.6 1166.6L566.3 1168.9L575.1 1171.2L583.8 1173.2Z" fill="rgb(46,126,185)"/>
<path d="M559.3 1088L552.2 1085.4L545.1 1082.8L538.1 1080L531.2 1077.1L524.3 1074L517.4 1070.8L482.7 1137.9L490.9 1141.8L499.1 1145.5L507.5 1149.1L515.9 1152.4L524.3 1155.7L532.8 1158.7Z" fill="rgb(46,130,184)"/>
<path d="M689.5 1108.3L682 1108.4L674.5 1108.3L667.1 1108.1L659.6 1107.7L652.1 1107.2L644.7 1106.6L635.2 1179.6L644.2 1180.4L653.1 1181.1L662 1181.6L670.9 1181.9L679.8 1182L688.8 1182Z" fill="rgb(46,117,185)"/>
<path d="M645.5 1106.6L638.1 1105.8L630.6 1104.9L623.2 1103.8L615.8 1102.6L608.4 1101.2L601.1 1099.6L583.3 1171.1L592 1173L600.8 1174.7L609.7 1176.2L618.5 1177.6L627.4 1178.7L636.3 1179.7Z" fill="rgb(46,122,185)"/>
<path d="M776 1096.5L768.8 1098.3L761.6 1099.9L754.3 1101.4L747 1102.8L739.6 1104L732.3 1105L739.5 1173.4L748.2 1172.2L756.8 1170.8L765.5 1169.2L774.1 1167.5L782.7 1165.6L791.2 1163.5Z" fill="rgb(46,109,185)"/>
<path d="M733.1 1104.9L725.8 1105.9L718.4 1106.7L710.9 1107.3L703.5 1107.8L696 1108.1L688.6 1108.4L687.8 1177L696.6 1176.8L705.4 1176.5L714.2 1175.9L723 1175.2L731.7 1174.3L740.5 1173.2Z" fill="rgb(46,113,185)"/>
<path d="M856.9 1065.2L850.4 1068.6L843.7 1071.8L837 1075L830.3 1077.9L823.5 1080.8L816.6 1083.5L837.8 1144L845.9 1140.9L853.9 1137.6L861.8 1134.1L869.7 1130.5L877.4 1126.7L885.1 1122.8Z" fill="rgb(46,101,185)"/>
<path d="M817.4 1083.2L810.5 1085.8L803.5 1088.3L796.5 1090.6L789.4 1092.8L782.3 1094.8L775.1 1096.7L789.2 1159.3L797.6 1157.1L806 1154.7L814.2 1152.2L822.5 1149.5L830.7 1146.7L838.8 1143.7Z" fill="rgb(46,105,185)"/>
<path d="M927.9 1016.5L922.4 1021.2L916.7 1025.9L911 1030.4L905.1 1034.8L899.2 1039.2L893.2 1043.4L921.6 1087.7L928.5 1082.9L935.3 1078L942 1073L948.6 1067.8L955 1062.5L961.4 1057.1Z" fill="rgb(46,100,185)"/>
<path d="M893.9 1042.9L887.8 1047L881.6 1050.9L875.4 1054.8L869 1058.5L862.6 1062.1L856.1 1065.6L879.2 1113L886.6 1109L894 1104.9L901.2 1100.7L908.4 1096.3L915.5 1091.8L922.4 1087.1Z" fill="rgb(46,100,185)"/>
<path d="M985.4 953.1L981.1 958.9L976.7 964.7L972.2 970.4L967.6 976L962.8 981.6L958 987L992.6 1020.4L998.1 1014.3L1003.4 1008.1L1008.7 1001.7L1013.8 995.3L1018.8 988.8L1023.7 982.1Z" fill="rgb(46,100,185)"/>
<path d="M958.5 986.4L953.6 991.7L948.5 997L943.4 1002.2L938.1 1007.2L932.7 1012.2L927.3 1017L957.8 1054.2L964 1048.8L970 1043.2L976 1037.5L981.9 1031.7L987.6 1025.7L993.2 1019.7Z" fill="rgb(46,100,185)"/>
<path d="M1026.3 878.6L1023.6 885.3L1020.6 891.9L1017.6 898.4L1014.4 904.9L1011.1 911.3L1007.7 917.7L1045.1 939.9L1049 932.8L1052.7 925.6L1056.3 918.4L1059.7 911L1063 903.7L1066.1 896.2Z" fill="rgb(46,100,185)"/>
<path d="M1008.1 917L1004.5 923.3L1000.8 929.5L997 935.7L993.1 941.8L989 947.8L984.9 953.7L1019.5 980.1L1024.2 973.5L1028.7 966.8L1033.1 960L1037.4 953.1L1041.5 946.1L1045.5 939.1Z" fill="rgb(46,100,185)"/>
<path d="M1048.9 797.3L1047.7 804.4L1046.4 811.4L1045 818.4L1043.4 825.4L1041.6 832.4L1039.8 839.4L1078 851.3L1080.1 843.6L1082.1 835.9L1083.9 828.1L1085.5 820.3L1087 812.5L1088.3 804.6Z" fill="rgb(45,95,187)"/>
<path d="M1040 838.5L1038 845.5L1035.9 852.3L1033.6 859.2L1031.2 866L1028.7 872.7L1026 879.4L1062.6 895.7L1065.6 888.3L1068.5 880.8L1071.1 873.3L1073.7 865.7L1076.1 858.1L1078.3 850.4Z" fill="rgb(46,98,186)"/>
<path d="M1052 713.6L1052.5 720.7L1052.9 727.8L1053.1 734.9L1053.1 742L1053.1 749.2L1052.9 756.3L1088.3 758.8L1088.5 750.9L1088.6 743.1L1088.6 735.3L1088.4 727.4L1088 719.6L1087.5 711.8Z" fill="rgb(45,90,188)"/>
<path d="M1052.9 755.4L1052.6 762.6L1052.1 769.7L1051.5 776.8L1050.7 783.9L1049.8 791L1048.8 798.1L1083.6 804.7L1084.8 796.9L1085.8 789.1L1086.7 781.3L1087.4 773.5L1087.9 765.7L1088.3 757.8Z" fill="rgb(45,93,187)"/>
<path d="M1035.8 631.9L1038 638.7L1039.9 645.5L1041.8 652.3L1043.5 659.2L1045 666.1L1046.5 673L1081.5 667.3L1079.9 659.6L1078.2 652L1076.4 644.5L1074.4 637L1072.2 629.5L1069.9 622.1Z" fill="rgb(44,85,190)"/>
<path d="M1046.3 672.2L1047.6 679.2L1048.8 686.2L1049.8 693.2L1050.7 700.2L1051.5 707.3L1052.1 714.4L1087.5 712.7L1086.9 705L1086.1 697.2L1085.1 689.5L1084 681.7L1082.7 674L1081.3 666.4Z" fill="rgb(44,88,189)"/>
<path d="M1001.5 556.8L1005.1 562.8L1008.6 568.9L1011.9 575.1L1015.1 581.4L1018.2 587.7L1021.2 594.1L1053.6 580.5L1050.3 573.5L1047 566.6L1043.4 559.7L1039.8 552.9L1036 546.2L1032.1 539.5Z" fill="rgb(44,80,192)"/>
<path d="M1020.8 593.3L1023.7 599.7L1026.4 606.2L1029.1 612.8L1031.5 619.4L1033.9 626L1036.1 632.7L1069.9 623.1L1067.4 615.7L1064.9 608.4L1062.2 601.1L1059.3 593.9L1056.3 586.8L1053.2 579.7Z" fill="rgb(44,83,191)"/>
<path d="M951.1 492.1L956 497.1L960.7 502.2L965.4 507.4L969.9 512.7L974.3 518.1L978.7 523.6L1007.1 502.9L1002.3 496.9L997.5 491L992.5 485.1L987.4 479.4L982.2 473.8L976.9 468.2Z" fill="rgb(44,75,193)"/>
<path d="M978.2 522.9L982.4 528.5L986.5 534.1L990.6 539.8L994.5 545.7L998.3 551.5L1002 557.5L1032.6 540.3L1028.5 533.7L1024.4 527.3L1020.1 520.9L1015.7 514.6L1011.2 508.3L1006.5 502.2Z" fill="rgb(44,78,192)"/>
<path d="M887.7 441.1L893.5 444.8L899.2 448.7L904.9 452.6L910.5 456.7L916 460.9L921.5 465.2L945.3 437.4L939.3 432.7L933.3 428L927.1 423.5L920.8 419.1L914.5 414.8L908.1 410.7Z" fill="rgb(44,70,195)"/>
<path d="M920.8 464.7L926.2 469.1L931.5 473.6L936.7 478.2L941.8 482.9L946.8 487.7L951.7 492.7L978.7 467.8L973.2 462.4L967.7 457.1L962.1 451.8L956.4 446.7L950.6 441.7L944.6 436.9Z" fill="rgb(44,73,194)"/>
<path d="M814.6 406.4L821.1 408.7L827.5 411.1L833.9 413.6L840.3 416.3L846.6 419L852.8 421.9L869.8 389.1L862.9 385.8L856 382.7L849 379.8L841.9 377L834.8 374.3L827.6 371.7Z" fill="rgb(44,65,195)"/>
<path d="M852.1 421.6L858.3 424.6L864.4 427.8L870.5 431L876.5 434.4L882.5 437.9L888.3 441.5L909 410.8L902.5 406.8L896 402.9L889.3 399.2L882.6 395.5L875.9 392L869 388.7Z" fill="rgb(44,68,195)"/>
<path d="M736.2 389.6L742.9 390.3L749.7 391.2L756.5 392.2L763.2 393.3L769.9 394.5L776.6 395.9L785.5 360.3L778.1 358.8L770.6 357.4L763.2 356.2L755.7 355L748.2 354.1L740.8 353.3Z" fill="rgb(44,60,195)"/>
<path d="M775.8 395.7L782.5 397.2L789.1 398.8L795.7 400.6L802.3 402.5L808.9 404.5L815.4 406.7L828.3 372.4L821.1 370L813.9 367.7L806.6 365.6L799.3 363.7L792 361.8L784.6 360.2Z" fill="rgb(44,63,195)"/>
<path d="M656.5 391.4L663.2 390.6L670 389.8L676.7 389.2L683.5 388.7L690.2 388.4L697 388.2L697.5 347.7L689.9 347.9L682.3 348.3L674.8 348.8L667.2 349.4L659.7 350.2L652.2 351.2Z" fill="rgb(44,55,195)"/>
<path d="M696.2 388.2L703 388.1L709.8 388.2L716.6 388.4L723.4 388.7L730.2 389.1L737 389.7L742.1 349.6L734.5 348.9L727 348.4L719.4 348L711.8 347.8L704.2 347.7L696.6 347.8Z" fill="rgb(44,58,195)"/>
<path d="M580 411.4L586.3 409L592.6 406.8L599 404.6L605.4 402.6L611.9 400.7L618.4 399L608.2 353.6L600.8 355.5L593.4 357.6L586.1 359.9L578.9 362.3L571.7 364.8L564.5 367.5Z" fill="rgb(43,49,190)"/>
<path d="M617.6 399.2L624.2 397.6L630.7 396L637.3 394.7L644 393.4L650.6 392.3L657.3 391.3L652.4 345L644.8 346.1L637.3 347.3L629.7 348.7L622.2 350.3L614.7 352L607.3 353.8Z" fill="rgb(43,52,193)"/>
<path d="M510.7 448.2L516.2 444.5L521.8 440.8L527.5 437.3L533.2 433.9L539 430.6L544.9 427.4L521.2 378.7L514.3 382.4L507.6 386.2L500.9 390.1L494.3 394.2L487.8 398.3L481.4 402.6Z" fill="rgb(41,42,185)"/>
<path d="M544.2 427.8L550.2 424.7L556.2 421.8L562.2 418.9L568.3 416.2L574.5 413.6L580.8 411.1L562.8 360L555.6 362.8L548.4 365.8L541.3 368.9L534.2 372.2L527.3 375.6L520.4 379.2Z" fill="rgb(42,46,188)"/>
<path d="M452.2 499.6L456.7 494.8L461.3 490L465.9 485.3L470.7 480.7L475.5 476.2L480.5 471.7L445.9 429.5L440.1 434.6L434.5 439.9L428.9 445.2L423.4 450.6L418.1 456.2L412.9 461.8Z" fill="rgb(40,36,180)"/>
<path d="M479.9 472.3L484.9 467.9L490.1 463.7L495.3 459.6L500.5 455.5L505.9 451.6L511.4 447.8L481.9 401.8L475.5 406.2L469.3 410.8L463.1 415.4L457.1 420.2L451.1 425.1L445.2 430.1Z" fill="rgb(41,39,183)"/>
<path d="M407.5 562.7L410.7 557L414 551.3L417.5 545.7L421 540.2L424.7 534.7L428.4 529.3L384.7 496L380.3 502.2L376 508.6L371.9 515L367.8 521.5L363.9 528.1L360.2 534.8Z" fill="rgb(39,30,174)"/>
<path d="M428 529.9L431.8 524.6L435.8 519.3L439.9 514.1L444.1 509L448.4 504L452.7 499.1L413.2 460.9L408.1 466.6L403.1 472.4L398.2 478.4L393.4 484.4L388.7 490.5L384.2 496.7Z" fill="rgb(39,33,177)"/>
<path d="M378.8 633.8L380.6 627.6L382.5 621.3L384.5 615.1L386.7 609L389 602.9L391.4 596.8L337.7 572.9L334.8 580L332.1 587.2L329.5 594.4L327.1 601.7L324.8 609.1L322.7 616.4Z" fill="rgb(37,25,167)"/>
<path d="M391.1 597.5L393.6 591.4L396.2 585.5L398.9 579.5L401.8 573.6L404.8 567.8L407.9 562L357.3 532L353.7 538.8L350.1 545.7L346.7 552.6L343.4 559.6L340.3 566.6L337.3 573.7Z" fill="rgb(38,28,171)"/>
<path d="M367.4 709.1L367.7 702.6L368.1 696.2L368.6 689.7L369.3 683.3L370.1 676.8L371 670.4L310.2 659L309.1 666.6L308.1 674.2L307.3 681.9L306.6 689.6L306.1 697.2L305.7 704.9Z" fill="rgb(36,20,161)"/>
<path d="M370.9 671.2L371.9 664.8L373.1 658.4L374.4 652L375.8 645.7L377.3 639.4L379 633.1L320 614.7L318 622.1L316.1 629.6L314.4 637.1L312.8 644.7L311.4 652.3L310.1 659.9Z" fill="rgb(37,23,164)"/>
<path d="M373.6 784.3L372.4 778L371.3 771.7L370.3 765.4L369.5 759L368.8 752.6L368.2 746.2L288.6 749.9L289.2 757.9L290 765.9L291 773.8L292.2 781.7L293.5 789.6L294.9 797.5Z" fill="rgb(36,20,160)"/>
<path d="M368.3 747L367.8 740.5L367.5 734.1L367.3 727.7L367.2 721.2L367.2 714.8L367.4 708.3L287.8 702.7L287.6 710.8L287.5 718.8L287.5 726.8L287.7 734.8L288.1 742.9L288.6 750.9Z" fill="rgb(36,20,160)"/>
<path d="M396.8 855.6L394.2 849.8L391.7 843.9L389.3 838L387.1 832.1L384.9 826L382.9 820L310.3 840.8L312.7 848.3L315.3 855.7L318.1 863.1L321 870.4L324 877.7L327.2 884.9Z" fill="rgb(36,20,160)"/>
<path d="M383.1 820.7L381.2 814.6L379.4 808.5L377.7 802.3L376.2 796.1L374.8 789.9L373.4 783.6L298.9 795.9L300.4 803.6L302.2 811.3L304 819L306.1 826.6L308.2 834.2L310.6 841.7Z" fill="rgb(36,20,160)"/>
<path d="M435.6 919L431.7 914L428 908.9L424.3 903.8L420.8 898.5L417.3 893.2L414 887.9L345.8 926.2L349.9 932.9L354.1 939.5L358.5 946.1L363 952.5L367.6 958.9L372.4 965.2Z" fill="rgb(36,20,160)"/>
<path d="M414.4 888.5L411.1 883.1L408 877.6L405 872L402 866.3L399.2 860.7L396.5 854.9L324.3 885L327.6 892.2L331.1 899.3L334.7 906.4L338.4 913.3L342.3 920.2L346.3 927Z" fill="rgb(36,20,160)"/>
<path d="M487.5 971.4L482.6 967.4L477.9 963.4L473.2 959.3L468.5 955L464 950.7L459.5 946.3L397.2 1003.7L402.8 1009.3L408.5 1014.9L414.4 1020.3L420.3 1025.6L426.3 1030.7L432.4 1035.8Z" fill="rgb(35,18,155)"/>
<path d="M460.1 946.8L455.7 942.3L451.4 937.7L447.2 933L443.1 928.2L439 923.4L435.1 918.4L366.6 968.2L371.5 974.5L376.5 980.7L381.7 986.8L387 992.7L392.4 998.6L397.9 1004.3Z" fill="rgb(36,19,158)"/>
<path d="M618.4 1033.1L612.4 1031.8L606.4 1030.4L600.4 1028.8L594.5 1027.1L588.6 1025.3L582.7 1023.4L555.5 1095.5L562.8 1098L570.2 1100.3L577.6 1102.4L585 1104.4L592.4 1106.3L599.9 1108Z" fill="rgb(34,12,145)"/>
<path d="M583.4 1023.6L576.8 1021.3L570.2 1018.8L563.6 1016.2L557.1 1013.5L550.7 1010.6L544.4 1007.5L538.1 1004.3L500 1071.4L507.8 1075.4L515.7 1079.3L523.7 1082.9L531.8 1086.4L539.9 1089.8L548.1 1092.9L556.4 1095.8Z" fill="rgb(34,14,148)"/>
<path d="M690.1 1039.6L684 1039.7L677.9 1039.7L671.8 1039.6L665.7 1039.3L659.5 1038.9L653.4 1038.4L644.7 1106.6L652.1 1107.2L659.6 1107.7L667.1 1108.1L674.5 1108.3L682 1108.4L689.5 1108.3Z" fill="rgb(33,11,140)"/>
<path d="M654.1 1038.5L648 1037.9L642 1037.1L635.9 1036.3L629.8 1035.3L623.7 1034.2L617.7 1033L601.1 1099.6L608.4 1101.2L615.8 1102.6L623.2 1103.8L630.6 1104.9L638.1 1105.8L645.5 1106.6Z" fill="rgb(33,11,143)"/>
<path d="M760.8 1029.5L754.9 1031L749 1032.4L743.1 1033.6L737.1 1034.8L731.1 1035.8L725.1 1036.7L730.7 1090.2L737.8 1089.2L744.8 1088L751.9 1086.7L758.8 1085.3L765.8 1083.7L772.7 1082Z" fill="rgb(31,9,135)"/>
<path d="M725.8 1036.6L719.8 1037.4L713.7 1038.1L707.7 1038.7L701.6 1039.1L695.5 1039.5L689.4 1039.7L688.8 1093.5L695.9 1093.3L703.1 1092.9L710.2 1092.4L717.4 1091.8L724.5 1091L731.6 1090.1Z" fill="rgb(32,10,138)"/>
<path d="M826.6 1003.5L821.3 1006.3L815.9 1009L810.5 1011.6L805 1014.1L799.5 1016.4L793.9 1018.7L809.7 1063.7L816.1 1061.1L822.6 1058.4L828.9 1055.6L835.2 1052.6L841.5 1049.6L847.7 1046.4Z" fill="rgb(30,8,130)"/>
<path d="M794.5 1018.4L788.9 1020.6L783.2 1022.6L777.5 1024.6L771.7 1026.4L765.9 1028.1L760.1 1029.7L770.5 1076.2L777.3 1074.4L784 1072.5L790.7 1070.4L797.3 1068.2L803.9 1065.9L810.4 1063.4Z" fill="rgb(31,9,133)"/>
<path d="M884.3 963.4L879.8 967.3L875.2 971.1L870.5 974.9L865.8 978.5L861 982.1L856.1 985.5L880.8 1024.1L886.5 1020.1L892 1016.1L897.5 1011.9L902.9 1007.6L908.2 1003.3L913.4 998.8Z" fill="rgb(30,8,130)"/>
<path d="M856.7 985.1L851.7 988.5L846.7 991.8L841.6 994.9L836.5 998L831.3 1001L826 1003.9L846.1 1045L852.2 1041.8L858.2 1038.4L864.1 1034.9L870 1031.2L875.8 1027.5L881.5 1023.6Z" fill="rgb(30,8,130)"/>
<path d="M930.7 911.5L927.2 916.3L923.7 921L920 925.7L916.3 930.3L912.5 934.8L908.6 939.3L940.4 970L944.9 965L949.3 959.8L953.6 954.5L957.8 949.2L961.9 943.8L965.9 938.3Z" fill="rgb(30,8,130)"/>
<path d="M909 938.8L905 943.1L900.9 947.5L896.8 951.7L892.5 955.8L888.2 959.9L883.7 963.9L911.8 998.1L916.9 993.6L921.9 988.9L926.8 984.2L931.6 979.4L936.3 974.5L940.9 969.4Z" fill="rgb(30,8,130)"/>
<path d="M963.5 850.8L961.3 856.2L959 861.6L956.5 866.9L954 872.2L951.3 877.5L948.6 882.7L984.7 904.1L987.9 898.2L990.9 892.2L993.8 886.2L996.7 880.1L999.3 874L1001.9 867.8Z" fill="rgb(30,8,130)"/>
<path d="M948.9 882.1L946 887.2L943.1 892.3L940 897.3L936.9 902.3L933.6 907.2L930.3 912.1L963.6 937.5L967.5 932L971.2 926.4L974.9 920.8L978.4 915L981.8 909.2L985.1 903.4Z" fill="rgb(30,8,130)"/>
<path d="M981.3 784.7L980.4 790.5L979.4 796.2L978.3 801.9L977 807.6L975.7 813.2L974.2 818.9L1012.8 830.9L1014.5 824.5L1016.1 818.1L1017.5 811.6L1018.9 805.2L1020.1 798.7L1021.1 792.1Z" fill="rgb(29,6,121)"/>
<path d="M974.4 818.2L972.8 823.8L971.1 829.4L969.3 835L967.4 840.5L965.4 846L963.3 851.5L1000.2 867.9L1002.7 861.7L1005 855.5L1007.2 849.2L1009.3 842.9L1011.2 836.6L1013 830.2Z" fill="rgb(30,7,126)"/>
<path d="M983.4 716.9L983.8 722.7L984.2 728.4L984.4 734.2L984.5 739.9L984.5 745.7L984.3 751.5L1023.9 754.3L1024.1 747.7L1024.1 741.1L1024.1 734.6L1023.9 728L1023.5 721.5L1023 715Z" fill="rgb(29,3,112)"/>
<path d="M984.3 750.8L984.1 756.6L983.8 762.4L983.3 768.1L982.7 773.9L982 779.7L981.2 785.4L1020.2 792.8L1021.2 786.2L1022 779.7L1022.7 773.2L1023.2 766.6L1023.7 760.1L1024 753.5Z" fill="rgb(29,4,117)"/>
<path d="M969.9 651L971.6 656.5L973.2 661.9L974.7 667.5L976.2 673L977.5 678.6L978.7 684.2L1014.8 678.2L1013.5 671.9L1012.1 665.6L1010.5 659.4L1008.8 653.2L1007 647L1005 640.9Z" fill="rgb(28,0,103)"/>
<path d="M978.5 683.5L979.6 689.1L980.6 694.8L981.5 700.5L982.3 706.2L982.9 711.9L983.5 717.6L1020.1 715.9L1019.5 709.4L1018.8 703L1017.9 696.6L1017 690.2L1015.9 683.8L1014.7 677.5Z" fill="rgb(28,2,107)"/>
<path d="M941.7 590.6L944.6 595.4L947.5 600.3L950.2 605.3L952.8 610.3L955.4 615.4L957.8 620.5L989.1 607.4L986.4 601.7L983.6 596L980.7 590.4L977.7 584.8L974.5 579.3L971.3 573.9Z" fill="rgb(27,0,96)"/>
<path d="M957.5 619.9L959.9 625.1L962.1 630.3L964.3 635.6L966.3 640.9L968.2 646.3L970.1 651.7L1002.7 642.3L1000.7 636.3L998.6 630.3L996.3 624.3L993.9 618.4L991.4 612.6L988.8 606.8Z" fill="rgb(27,0,100)"/>
<path d="M900.7 538.8L904.7 542.8L908.5 546.8L912.3 551L916 555.2L919.6 559.6L923.1 563.9L947.8 546L943.9 541.1L939.9 536.3L935.9 531.6L931.7 527L927.5 522.5L923.1 518Z" fill="rgb(25,0,90)"/>
<path d="M922.7 563.4L926.1 567.9L929.5 572.4L932.8 577L936 581.7L939.1 586.4L942.1 591.2L968.7 576.2L965.4 570.9L962 565.7L958.5 560.5L954.9 555.4L951.2 550.4L947.4 545.4Z" fill="rgb(26,0,94)"/>
<path d="M849.4 498.1L854.1 501.1L858.7 504.2L863.3 507.3L867.8 510.6L872.3 513.9L876.7 517.3L896.6 494.2L891.7 490.3L886.8 486.6L881.8 483L876.7 479.5L871.6 476.1L866.4 472.8Z" fill="rgb(24,0,84)"/>
<path d="M876.2 516.9L880.5 520.4L884.8 524L889 527.7L893.1 531.4L897.2 535.3L901.2 539.2L923.7 518.5L919.3 514.2L914.8 509.9L910.2 505.7L905.5 501.6L900.8 497.6L896 493.7Z" fill="rgb(25,0,88)"/>
<path d="M790.5 470.8L795.7 472.5L800.9 474.4L806.1 476.4L811.2 478.5L816.2 480.7L821.3 483L836.7 453.1L831.1 450.5L825.4 448.1L819.7 445.7L813.9 443.5L808.1 441.3L802.3 439.3Z" fill="rgb(22,0,77)"/>
<path d="M820.7 482.7L825.7 485.1L830.6 487.6L835.5 490.2L840.4 492.8L845.2 495.6L849.9 498.5L868.7 470.6L863.4 467.4L858 464.3L852.6 461.2L847.1 458.3L841.6 455.5L836 452.8Z" fill="rgb(23,0,81)"/>
<path d="M727.5 457.8L733 458.3L738.4 459L743.8 459.7L749.2 460.5L754.6 461.5L760 462.6L768.2 429.6L762.2 428.4L756.1 427.3L750.1 426.3L744 425.4L737.9 424.7L731.8 424.1Z" fill="rgb(20,0,70)"/>
<path d="M759.3 462.4L764.7 463.6L770 464.8L775.4 466.2L780.6 467.7L785.9 469.3L791.1 471L803.1 439.2L797.3 437.3L791.4 435.5L785.4 433.8L779.5 432.2L773.5 430.8L767.5 429.4Z" fill="rgb(21,0,74)"/>
<path d="M663.9 459.7L669.2 459L674.6 458.4L680 457.8L685.4 457.4L690.8 457.1L696.2 456.9L696.6 421.8L690.5 422L684.4 422.3L678.3 422.8L672.2 423.3L666.2 424L660.1 424.8Z" fill="rgb(18,0,63)"/>
<path d="M695.6 456.9L701 456.8L706.4 456.8L711.9 456.9L717.3 457.1L722.7 457.4L728.2 457.9L732.7 423L726.5 422.5L720.4 422.1L714.3 421.9L708.2 421.7L702 421.7L695.9 421.8Z" fill="rgb(19,0,66)"/>
<path d="M602.9 476.2L607.9 474.2L612.9 472.4L618 470.6L623.1 469L628.3 467.5L633.4 466L625.3 429.9L619.4 431.5L613.6 433.2L607.8 435.1L602 437L596.3 439.1L590.6 441.3Z" fill="rgb(14,0,53)"/>
<path d="M632.8 466.2L638 464.8L643.3 463.6L648.5 462.4L653.8 461.4L659.1 460.5L664.5 459.6L660.6 422.8L654.6 423.7L648.5 424.8L642.5 425.9L636.5 427.2L630.6 428.6L624.6 430.1Z" fill="rgb(16,0,58)"/>
<path d="M547.9 506L552.3 502.9L556.7 500L561.2 497.2L565.8 494.4L570.4 491.8L575 489.2L558.3 454.9L553 457.8L547.7 460.8L542.5 463.9L537.3 467.1L532.3 470.5L527.2 473.9Z" fill="rgb(10,0,44)"/>
<path d="M574.5 489.5L579.2 487L584 484.6L588.8 482.3L593.6 480.1L598.5 478L603.5 475.9L590.9 439.9L585.2 442.2L579.6 444.6L574 447.1L568.5 449.7L563.1 452.4L557.7 455.2Z" fill="rgb(12,0,49)"/>
</g>
<g fill="none" stroke="#adadad" stroke-width="1" shape-rendering="crispEdges">
<path d="M535.5 486.7L541.1 482.9L546.8 479.2L552.6 475.6L558.4 472.2L564.4 468.9L570.4 465.8L576.5 462.8L582.7 459.9L588.9 457.2L595.3 454.6L601.6 452.1L608.1 449.8L614.6 447.7L621.1 445.7L627.7 443.9L634.4 442.2L641.1 440.6L647.8 439.3L654.6 438L661.4 437L668.2 436.1L675.1 435.3L681.9 434.7L688.8 434.3L695.7 434L702.7 433.9L709.6 434L716.5 434.2L723.4 434.5L730.4 435.1L737.3 435.8L744.2 436.6L751.1 437.7L757.9 438.8L764.8 440.2L771.6 441.7L778.4 443.3L785.1 445.2L791.8 447.1L798.5 449.3L805.1 451.6L811.7 454L818.2 456.6L824.7 459.4L831.1 462.3L837.4 465.4L843.7 468.6L849.9 471.9L856 475.4L862.1 479.1L868 482.9L873.9 486.8L879.7 490.9L885.4 495.1L891 499.5L896.5 503.9L901.9 508.5L907.2 513.3L912.4 518.1L917.5 523.1L922.4 528.2L927.3 533.5L932 538.8L936.6 544.3L941.1 549.8L945.5 555.5L949.7 561.3L953.8 567.2L957.8 573.2L961.6 579.2L965.3 585.4L968.8 591.7L972.2 598L975.5 604.4L978.6 610.9L981.5 617.5L984.3 624.2L987 630.9L989.5 637.7L991.8 644.6L994 651.5L996 658.4L997.9 665.4L999.6 672.5L1001.1 679.6L1002.5 686.8L1003.7 693.9L1004.7 701.1L1005.6 708.4L1006.3 715.7L1006.8 722.9L1007.1 730.2L1007.3 737.6L1007.4 744.9L1007.2 752.2L1006.9 759.5L1006.4 766.9L1005.7 774.2L1004.9 781.5L1003.9 788.8L1002.7 796L1001.4 803.3L999.8 810.5L998.2 817.7L996.3 824.8L994.3 831.9L992.1 839L989.7 846L987.2 853L984.5 859.9L981.7 866.8L978.7 873.6L975.5 880.3L972.2 886.9L968.7 893.5L965.1 900L961.3 906.5L957.3 912.8L953.2 919L949 925.2L944.6 931.3L940.1 937.2L935.4 943.1L930.6 948.8L925.7 954.5L920.6 960L915.4 965.4L910 970.7L904.6 975.9L899 981L893.3 985.9L887.4 990.7L881.5 995.3L875.4 999.9L869.3 1004.2L863 1008.5L856.6 1012.6L850.2 1016.5L843.6 1020.3L836.9 1024L830.2 1027.5L823.4 1030.8L816.4 1034L809.5 1037.1L802.4 1039.9L795.3 1042.6L788.1 1045.2L780.8 1047.5L773.5 1049.7L766.1 1051.8L758.7 1053.6L751.2 1055.3L743.7 1056.8L736.1 1058.2L728.5 1059.4L720.9 1060.3L713.2 1061.2L705.6 1061.8L697.9 1062.3L690.2 1062.5L682.4 1062.6L674.7 1062.5L667 1062.3L659.3 1061.8L651.6 1061.2L643.8 1060.4L636.2 1059.4L628.5 1058.3L620.8 1056.9L613.2 1055.4L605.6 1053.7L598.1 1051.8L590.6 1049.8L583.1 1047.6L575.7 1045.2L568.3 1042.6L561 1039.8L553.7 1036.9L546.5 1033.8L539.4 1030.5L532.4 1027.1L525.4 1023.5L518.5 1019.8L511.7 1015.8L505 1011.8L498.4 1007.5L491.8 1003.1L485.4 998.6L479.1 993.9L472.9 989L466.8 984L460.8 978.9L454.9 973.6L449.1 968.1L443.5 962.6L438 956.9L432.6 951L427.4 945.1L422.3 939L417.3 932.8L412.5 926.5L407.8 920L403.2 913.5L398.9 906.8L394.6 900.1L390.6 893.2L386.6 886.2L382.9 879.2L379.3 872L375.9 864.8L372.6 857.5L369.5 850.1L366.6 842.6L363.8 835L361.3 827.4L358.9 819.8L356.7 812L354.6 804.2L352.8 796.4L351.1 788.5L349.6 780.6L348.3 772.6L347.1 764.6L346.2 756.5L345.5 748.5L344.9 740.4L344.5 732.3L344.3 724.2L344.3 716.1L344.5 707.9L344.9 699.8L345.5 691.7L346.2 683.6L347.2 675.5L348.3 667.4L349.6 659.4L351.2 651.3L352.9 643.3L354.7 635.4L356.8 627.5L359.1 619.6L361.5 611.8L364.2 604L367 596.3L370 588.6L373.1 581L376.5 573.5L380 566.1L383.7 558.7L387.6 551.5L391.6 544.3L395.8 537.2L400.2 530.2L404.8 523.3L409.5 516.4L414.4 509.8L419.4 503.2L424.6 496.7L429.9 490.3L435.4 484.1L441 478L446.8 472L452.7 466.2L458.8 460.5L465 454.9L471.3 449.5L477.8 444.2L484.4 439L491.1 434.1L497.9 429.2L504.8 424.6L511.9 420L519.1 415.7L526.3 411.5L533.7 407.5L541.2 403.6L548.7 400L556.4 396.5L564.1 393.1L571.9 390L579.8 387L587.8 384.2L595.8 381.6L603.9 379.2L612 377L620.2 375L628.5 373.1L636.8 371.5L645.2 370L653.5 368.7L662 367.7L670.4 366.8L678.9 366.1L687.4 365.6L695.9 365.3L704.4 365.2L712.9 365.3L721.4 365.7L730 366.2L738.5 366.9L747 367.8L755.5 368.9L763.9 370.2L772.3 371.7L780.7 373.4L789.1 375.3L797.4 377.4L805.7 379.6L813.9 382.1L822.1 384.8L830.2 387.6L838.3 390.7L846.3 393.9L854.2 397.4L862 401L869.8 404.8L877.4 408.8L885 412.9L892.5 417.3L899.9 421.8L907.2 426.5L914.4 431.3L921.4 436.3L928.4 441.5L935.2 446.9L941.9 452.4L948.5 458.1L955 463.9L961.3 469.9L967.5 476.1L973.6 482.4L979.5 488.8L985.2 495.4L990.8 502.1L996.3 508.9L1001.6 515.9L1006.7 523L1011.7 530.2L1016.5 537.5L1021.1 545L1025.6 552.5L1029.9 560.2L1034 568L1037.9 575.9L1041.7 583.8L1045.2 591.9L1048.6 600L1051.8 608.3L1054.8 616.6L1057.6 624.9L1060.3 633.4L1062.7 641.9L1064.9 650.5L1066.9 659.1L1068.8 667.8L1070.4 676.5L1071.8 685.3L1073 694.1L1074 702.9L1074.8 711.7L1075.4 720.6L1075.8 729.5L1076 738.4L1076 747.4L1075.8 756.3L1075.3 765.2L1074.7 774.1L1073.8 783L1072.8 791.9L1071.5 800.8L1070 809.6L1068.4 818.4L1066.5 827.2L1064.4 835.9L1062.1 844.6L1059.6 853.2L1056.9 861.8L1054 870.3L1050.9 878.8L1047.6 887.2L1044.1 895.5L1040.4 903.7L1036.5 911.9L1032.4 920L1028.2 927.9L1023.7 935.8L1019.1 943.6L1014.2 951.3L1009.2 958.8L1004.1 966.3L998.7 973.6L993.2 980.8L987.5 987.9L981.6 994.8L975.6 1001.7L969.4 1008.3L963 1014.9L956.5 1021.3L949.9 1027.5L943.1 1033.6L936.1 1039.5L929 1045.3L921.8 1050.9L914.5 1056.4L907 1061.7L899.4 1066.8L891.6 1071.7L883.8 1076.4L875.8 1081L867.7 1085.4L859.5 1089.6L851.3 1093.6L842.9 1097.4L834.4 1101.1L825.8 1104.5L817.2 1107.7L808.5 1110.7L799.7 1113.6L790.8 1116.2L781.9 1118.6L772.9 1120.8L763.9 1122.8L754.8 1124.6L745.6 1126.2L736.4 1127.6L727.2 1128.7L718 1129.7L708.7 1130.4L699.4 1130.9L690.1 1131.2L680.8 1131.3L671.5 1131.2L662.2 1130.8L652.9 1130.2L643.5 1129.4L634.3 1128.4L625 1127.2L615.7 1125.8L606.5 1124.1L597.3 1122.2L588.2 1120.2L579.1 1117.9L570.1 1115.3L561.1 1112.6L552.1 1109.7L543.3 1106.5L534.5 1103.2L525.8 1099.6L517.1 1095.9L508.6 1091.9L500.1 1087.8L491.7 1083.4L483.5 1078.8L475.3 1074.1L467.2 1069.1L459.3 1064L451.5 1058.7L443.7 1053.2L436.2 1047.5L428.7 1041.6L421.4 1035.6L414.2 1029.4L407.2 1023L400.3 1016.4L393.5 1009.7L386.9 1002.8L380.5 995.8L374.2 988.6L368.1 981.3L362.2 973.8L356.4 966.2L350.8 958.4L345.4 950.6L340.2 942.5L335.1 934.4L330.3 926.1L325.6 917.8L321.1 909.3L316.9 900.7L312.8 892L308.9 883.2L305.2 874.3L301.8 865.3L298.5 856.3L295.5 847.1L292.6 837.9L290 828.6L287.6 819.3L285.4 809.9L283.4 800.4L281.7 790.9L280.1 781.4L278.8 771.8L277.7 762.1L276.9 752.5L276.2 742.8L275.8 733.1L275.6 723.4L275.7 713.7L275.9 704L276.4 694.2L277.2 684.5L278.1 674.8L279.3 665.2L280.7 655.5L282.3 645.9L284.1 636.3L286.2 626.7L288.5 617.2L291 607.8L293.7 598.4L296.7 589L299.9 579.8L303.3 570.6L306.9 561.4L310.7 552.4L314.7 543.4L319 534.6L323.4 525.8L328.1 517.1L332.9 508.6L338 500.1L343.3 491.8L348.7 483.6L354.4 475.5L360.2 467.5L366.2 459.7L372.4 452L378.8 444.4L385.4 437L392.2 429.7L399.1 422.6L406.2 415.7L413.4 408.9L420.8 402.3L428.4 395.9L436.1 389.6L444 383.5L452 377.6L460.1 371.9L468.4 366.3L476.8 361L485.4 355.8L494 350.9L502.8 346.1L511.7 341.6L520.7 337.2L529.9 333.1L539.1 329.2L548.4 325.5L557.8 322L567.2 318.7L576.8 315.6L586.4 312.8L596.1 310.2L605.9 307.8L615.7 305.6L625.6 303.7L635.5 302L645.5 300.5L655.5 299.3L665.6 298.3L675.6 297.5L685.7 296.9L695.8 296.6L705.9 296.6L716.1 296.7L726.2 297.1L736.3 297.8L746.4 298.6L756.5 299.7L766.5 301.1L776.6 302.7L786.6 304.5L796.5 306.5L806.4 308.8L816.3 311.3L826.1 314L835.9 317L845.5 320.2L855.2 323.6L864.7 327.3L874.1 331.2L883.5 335.3L892.8 339.6L902 344.1L911 348.8L920 353.8L928.8 359L937.6 364.3L946.2 369.9L954.7 375.7L963 381.7L971.2 387.9L979.3 394.2L987.2 400.8L995 407.5L1002.6 414.5L1010.1 421.6L1017.4 428.9L1024.5 436.3L1031.5 444L1038.3 451.8L1044.9 459.7L1051.3 467.8L1057.6 476.1L1063.6 484.5L1069.5 493L1075.1 501.7L1080.6 510.6L1085.8 519.5L1090.9 528.6L1095.7 537.8L1100.3 547.1L1104.7 556.5L1108.9 566.1L1112.9 575.7L1116.6 585.4L1120.1 595.2L1123.4 605.2L1126.5 615.1L1129.3 625.2L1131.9 635.3L1134.3 645.5L1136.4 655.7L1138.3 666L1139.9 676.4L1141.3 686.8L1142.5 697.2L1143.4 707.7L1144.1 718.1L1144.5 728.6L1144.7 739.1L1144.6 749.6L1144.3 760.2L1143.8 770.7L1143 781.2L1142 791.7L1140.7 802.1L1139.2 812.6L1137.4 823L1135.4 833.4L1133.1 843.7L1130.6 854L1127.9 864.2L1124.9 874.4L1121.7 884.5L1118.3 894.5L1114.6 904.4L1110.7 914.3L1106.5 924.1L1102.2 933.7L1097.6 943.3L1092.7 952.8L1087.7 962.2L1082.4 971.4L1077 980.6L1071.3 989.6L1065.3 998.4L1059.2 1007.2L1052.9 1015.8L1046.4 1024.2L1039.7 1032.6L1032.7 1040.7L1025.6 1048.7L1018.3 1056.5L1010.8 1064.2L1003.2 1071.7L995.3 1079L987.3 1086.1L979.1 1093.1L970.8 1099.9L962.3 1106.4L953.6 1112.8L944.8 1119L935.9 1124.9L926.8 1130.7L917.5 1136.3L908.2 1141.6L898.7 1146.7L889.1 1151.6L879.3 1156.3L869.5 1160.8L859.5 1165L849.5 1169L839.3 1172.7L829.1 1176.3L818.8 1179.6L808.3 1182.6L797.9 1185.4L787.3 1188L776.7 1190.3L766 1192.4L755.3 1194.2L744.6 1195.8L733.8 1197.1L722.9 1198.2L712.1 1199L701.2 1199.6L690.3 1199.9L679.4 1200L668.4 1199.8L657.5 1199.3L646.6 1198.6L635.7 1197.7L624.9 1196.5L614 1195L603.2 1193.3L592.4 1191.3L581.7 1189.1L571 1186.7L560.3 1183.9L549.8 1181L539.2 1177.8L528.8 1174.3L518.4 1170.6L508.2 1166.6L498 1162.5L487.9 1158L477.9 1153.4L468 1148.5L458.2 1143.4L448.6 1138L439 1132.4L429.6 1126.6L420.4 1120.6L411.2 1114.3L402.2 1107.9L393.4 1101.2L384.7 1094.3L376.2 1087.3L367.8 1080L359.6 1072.5L351.5 1064.8L343.7 1057L336 1048.9L328.5 1040.7L321.2 1032.3L314.1 1023.7L307.2 1015L300.5 1006.1L294 997L287.7 987.8L281.6 978.4L275.7 968.9L270.1 959.3L264.7 949.5L259.5 939.6L254.5 929.5L249.8 919.4L245.3 909.1L241 898.7L237 888.2L233.2 877.7L229.7 867L226.4 856.3L223.4 845.4L220.6 834.5L218.1 823.6L215.8 812.5L213.8 801.4L212 790.3L210.5 779.1L209.3 767.9L208.3 756.7L207.6 745.4L207.2 734.1L207 722.8L207 711.5L207.4 700.2L208 688.8L208.8 677.5L209.9 666.3L211.3 655L213 643.8L214.9 632.6L217.1 621.4L219.5 610.3L222.2 599.3L225.1 588.3L228.4 577.4L231.8 566.5L235.5 555.7L239.5 545L243.7 534.4L248.2 523.9L252.9 513.5L257.9 503.2L263.1 493L268.5 483L274.2 473L280.1 463.2L286.2 453.5L292.6 444L299.1 434.6L305.9 425.4L313 416.3L320.2 407.4L327.6 398.6L335.3 390L343.1 381.6L351.2 373.4L359.4 365.3L367.9 357.5L376.5 349.8L385.3 342.4L394.3 335.1L403.4 328.1L412.7 321.2L422.2 314.6L431.8 308.2L441.6 302L451.5 296.1L461.6 290.3L471.8 284.8L482.1 279.6L492.6 274.6L503.2 269.8L513.9 265.3L524.7 261L535.6 257L546.6 253.2L557.6 249.7L568.8 246.4L580.1 243.4L591.4 240.6L602.8 238.2L614.2 235.9L625.7 234L637.3 232.3L648.9 230.9L660.5 229.8L672.2 228.9L683.9 228.3L695.6 228L707.3 227.9L719 228.1L730.7 228.6L742.4 229.4L754.1 230.4L765.8 231.7L777.4 233.3L789 235.1L800.6 237.2L812.1 239.6L823.6 242.3L835 245.2L846.3 248.4L857.6 251.9L868.8 255.6L879.9 259.6L890.9 263.8L901.8 268.3L912.7 273.1L923.4 278.1L934 283.3L944.4 288.8L954.8 294.6L965 300.6L975.1 306.8L985 313.3L994.8 320L1004.5 326.9L1014 334.1L1023.3 341.4L1032.4 349L1041.4 356.9L1050.2 364.9L1058.8 373.1L1067.2 381.5L1075.4 390.2L1083.4 399L1091.2 408L1098.9 417.2L1106.3 426.6L1113.4 436.1L1120.4 445.9L1127.1 455.7L1133.6 465.8L1139.9 476L1146 486.3L1151.7 496.8L1157.3 507.4L1162.6 518.2L1167.7 529.1L1172.5 540.1L1177 551.2L1181.3 562.4L1185.4 573.8L1189.1 585.2L1192.6 596.7L1195.9 608.3L1198.8 620L1201.5 631.7L1204 643.5L1206.1 655.4L1208 667.3L1209.6 679.3L1210.9 691.3L1212 703.4L1212.7 715.4L1213.2 727.5L1213.4 739.6L1213.3 751.8L1212.9 763.9L1212.3 776L1211.4 788.1L1210.1 800.1L1208.6 812.2L1206.9 824.2L1204.8 836.2L1202.5 848.1L1199.9 860L1197 871.8L1193.8 883.6L1190.4 895.3L1186.6 906.9L1182.7 918.4L1178.4 929.9L1173.9 941.2L1169.1 952.4L1164 963.6L1158.7 974.6L1153.2 985.5L1147.3 996.2L1141.3 1006.9L1134.9 1017.4L1128.4 1027.7L1121.6 1037.9L1114.5 1048L1107.2 1057.8L1099.7 1067.5L1092 1077.1L1084 1086.4L1075.8 1095.6L1067.4 1104.6L1058.8 1113.4L1050 1122L1040.9 1130.4L1031.7 1138.6L1022.3 1146.5L1012.7 1154.3L1002.9 1161.8L993 1169.1L982.8 1176.2L972.5 1183L962.1 1189.6L951.5 1196L940.7 1202.1L929.8 1208L918.7 1213.6L907.6 1218.9L896.2 1224L884.8 1228.8L873.3 1233.4L861.6 1237.7L849.9 1241.7L838 1245.5L826.1 1249L814 1252.2L801.9 1255.1L789.8 1257.7L777.5 1260.1L765.2 1262.2L752.9 1264L740.5 1265.5L728.1 1266.7L715.6 1267.6L703.1 1268.2L690.6 1268.6L678.1 1268.6L665.6 1268.4L653.1 1267.9L640.6 1267.1L628.1 1265.9L615.6 1264.5L603.2 1262.9L590.8 1260.9L578.5 1258.6L566.2 1256L553.9 1253.2L541.7 1250.1L529.6 1246.6L517.6 1242.9L505.6 1239L493.8 1234.7L482 1230.2L470.4 1225.4L458.8 1220.3L447.4 1214.9L436.1 1209.3L424.9 1203.4L413.9 1197.3L403 1190.9L392.2 1184.2L381.6 1177.3L371.1 1170.1L360.9 1162.7L350.7 1155.1L340.8 1147.2L331.1 1139.1L321.5 1130.7L312.1 1122.2L302.9 1113.4L294 1104.4L285.2 1095.2L276.7 1085.7L268.3 1076.1L260.2 1066.3L252.3 1056.3L244.7 1046.1L237.2 1035.7L230.1 1025.2L223.1 1014.5L216.5 1003.6L210 992.5L203.8 981.3L197.9 970L192.3 958.5L186.9 946.9L181.8 935.2L176.9 923.3L172.3 911.3L168 899.3L164 887.1L160.3 874.8L156.8 862.4L153.7 850L150.8 837.4L148.2 824.8L146 812.2L144 799.5L142.3 786.7L140.9 773.9L139.8 761L139 748.2L138.5 735.3L138.3 722.4L138.4 709.5L138.8 696.6L139.5 683.6L140.5 670.8L141.8 657.9L143.4 645L145.3 632.2L147.5 619.5L150 606.7L152.8 594.1L155.9 581.5L159.2 569L162.9 556.5L166.9 544.1L171.1 531.9L175.7 519.7L180.5 507.6L185.6 495.6L191 483.8L196.7 472L202.6 460.4L208.8 449L215.3 437.7L222 426.5L229 415.5L236.3 404.6L243.8 393.9L251.6 383.4L259.6 373.1L267.8 362.9L276.3 353L285.1 343.2L294 333.6L303.2 324.3L312.6 315.1L322.2 306.2L332 297.5L342 289L352.3 280.8L362.7 272.7L373.3 265L384.1 257.4L395.1 250.2L406.2 243.2L417.5 236.4L429 229.9L440.6 223.7L452.4 217.7L464.3 212L476.3 206.6L488.5 201.4L500.8 196.6L513.2 192L525.7 187.7L538.3 183.8L551 180.1L563.8 176.7L576.7 173.6L589.7 170.7L602.7 168.2L615.8 166L628.9 164.1L642.1 162.6L655.3 161.3L668.6 160.3L681.8 159.6L695.1 159.3L708.4 159.2L721.8 159.5L735.1 160L748.4 160.9L761.6 162.1L774.9 163.6L788.1 165.4L801.3 167.5L814.4 170L827.5 172.7L840.5 175.7L853.5 179.1L866.4 182.7L879.2 186.6L891.9 190.9L904.5 195.4L917 200.3L929.4 205.4L941.6 210.8L953.8 216.5L965.8 222.5L977.7 228.7L989.4 235.3L1001 242.1L1012.5 249.2L1023.7 256.5L1034.8 264.1L1045.8 272L1056.5 280.2L1067.1 288.5L1077.4 297.2L1087.6 306L1097.6 315.2L1107.3 324.5L1116.8 334.1L1126.1 343.9L1135.2 353.9L1144.1 364.1L1152.7 374.6L1161.1 385.2L1169.2 396L1177.1 407.1L1184.7 418.3L1192.1 429.7L1199.2 441.2L1206 453L1212.6 464.9L1218.8 476.9L1224.8 489.1L1230.6 501.4L1236 513.9L1241.1 526.5L1246 539.2L1250.5 552.1L1254.8 565L1258.8 578.1L1262.4 591.2L1265.8 604.4L1268.8 617.8L1271.5 631.1L1274 644.6L1276.1 658.1L1277.9 671.7L1279.3 685.3L1280.5 698.9L1281.3 712.6L1281.9 726.3L1282.1 740L1282 753.7L1281.5 767.4L1280.8 781.1L1279.7 794.8L1278.3 808.4L1276.6 822.1L1274.6 835.7L1272.3 849.2L1269.6 862.7L1266.6 876.2L1263.3 889.5L1259.7 902.8L1255.8 916.1L1251.6 929.2L1247.1 942.2L1242.3 955.1L1237.1 968L1231.7 980.7L1226 993.2L1220 1005.7L1213.7 1018L1207.1 1030.2L1200.2 1042.2L1193 1054L1185.6 1065.7L1177.9 1077.2L1169.9 1088.6L1161.7 1099.7L1153.2 1110.7L1144.4 1121.5L1135.4 1132L1126.1 1142.4L1116.6 1152.5L1106.9 1162.4L1096.9 1172.1L1086.7 1181.6L1076.3 1190.8L1065.6 1199.8L1054.8 1208.6L1043.7 1217.1L1032.5 1225.3L1021 1233.3L1009.4 1241L997.6 1248.4L985.6 1255.6L973.4 1262.5L961.1 1269.1L948.6 1275.4L936 1281.5L923.2 1287.2L910.3 1292.6L897.2 1297.8L884.1 1302.6L870.8 1307.2L857.4 1311.4L844 1315.3L830.4 1318.9L816.7 1322.2L803 1325.2L789.2 1327.8L775.3 1330.1L761.4 1332.1L747.4 1333.8L733.4 1335.2L719.3 1336.2L705.2 1336.9L691.1 1337.3L677 1337.3L662.9 1337L648.8 1336.4L634.7 1335.5L620.7 1334.2L606.6 1332.6L592.6 1330.7L578.6 1328.5L564.7 1325.9L550.8 1323L537 1319.8L523.3 1316.2L509.7 1312.4L496.1 1308.2L482.7 1303.7L469.3 1298.9L456.1 1293.8L442.9 1288.3L429.9 1282.6L417.1 1276.5L404.3 1270.2L391.7 1263.6L379.3 1256.6L367 1249.4L354.9 1241.9L343 1234.1L331.2 1226L319.6 1217.7L308.3 1209L297.1 1200.2L286.1 1191L275.3 1181.6L264.8 1172L254.5 1162.1L244.4 1151.9L234.5 1141.5L224.9 1130.9L215.5 1120.1L206.4 1109L197.6 1097.8L189 1086.3L180.6 1074.6L172.5 1062.7L164.8 1050.7L157.2 1038.4L150 1026L143.1 1013.4L136.4 1000.6L130.1 987.7L124 974.6L118.3 961.4L112.8 948.1L107.7 934.6L102.9 921L98.4 907.3L94.2 893.5L90.3 879.6L86.8 865.6L83.6 851.5L80.7 837.3L78.1 823.1L75.9 808.8L74 794.4L72.5 780.1L71.2 765.6L70.3 751.1L69.8 736.7L69.6 722.2L69.7 707.6L70.2 693.1L71 678.6L72.1 664.2L73.6 649.7L75.4 635.3L77.5 620.9L80 606.5L82.8 592.3L86 578L89.5 563.9L93.3 549.8L97.4 535.8L101.9 521.9L106.7 508.2L111.8 494.5L117.2 480.9L122.9 467.5L129 454.2L135.4 441L142 428L149 415.1L156.3 402.4L163.9 389.9L171.7 377.6L179.9 365.4L188.4 353.4L197.1 341.6L206.1 330L215.3 318.6L224.9 307.4L234.7 296.5L244.7 285.8L255 275.3L265.6 265L276.4 255L287.4 245.3L298.7 235.7L310.1 226.5L321.8 217.5L333.7 208.8L345.8 200.4L358.1 192.2L370.6 184.4L383.3 176.8L396.2 169.5L409.2 162.5L422.4 155.9L435.8 149.5L449.3 143.4L462.9 137.7L476.7 132.3L490.6 127.1L504.6 122.4L518.8 117.9L533 113.8L547.4 110L561.8 106.5L576.3 103.4L590.9 100.6L605.6 98.1L620.3 96"/>
<path d="M523.1 467.5L529.2 463.4L535.3 459.4L541.5 455.6L547.9 451.9L554.3 448.4L560.8 445L567.4 441.8L574.1 438.7L580.8 435.8L587.6 433L594.5 430.4L601.5 427.9L608.5 425.6L615.5 423.5L622.7 421.5L629.8 419.7L637.1 418.1L644.3 416.6L651.6 415.3L658.9 414.2L666.3 413.2L673.7 412.4L681.1 411.8L688.5 411.4L696 411.1L703.4 411L710.9 411.1L718.3 411.3L725.8 411.8L733.2 412.4L740.7 413.1L748.1 414.1L755.5 415.2L762.9 416.5L770.3 417.9L777.6 419.6L784.9 421.4L792.2 423.4L799.4 425.5L806.5 427.8L813.7 430.3L820.7 433L827.7 435.8L834.7 438.8L841.5 441.9L848.4 445.2L855.1 448.7L861.7 452.3L868.3 456.1L874.8 460.1L881.2 464.2L887.5 468.4L893.7 472.8L899.9 477.4L905.9 482L911.8 486.9L917.6 491.8L923.3 497L928.8 502.2L934.3 507.6L939.6 513.1L944.8 518.7L949.9 524.5L954.8 530.3L959.6 536.3L964.3 542.4L968.8 548.7L973.2 555L977.4 561.4L981.5 568L985.5 574.6L989.3 581.3L992.9 588.2L996.4 595.1L999.7 602.1L1002.8 609.1L1005.8 616.3L1008.7 623.5L1011.3 630.8L1013.8 638.2L1016.1 645.6L1018.3 653.1L1020.3 660.6L1022.1 668.2L1023.7 675.8L1025.1 683.5L1026.4 691.2L1027.5 699L1028.4 706.7L1029.1 714.5L1029.7 722.3L1030 730.2L1030.2 738L1030.2 745.9L1030 753.7L1029.7 761.6L1029.1 769.4L1028.4 777.3L1027.5 785.1L1026.4 792.9L1025.1 800.7L1023.7 808.5L1022 816.2L1020.2 823.9L1018.2 831.6L1016 839.2L1013.6 846.8L1011.1 854.3L1008.4 861.8L1005.5 869.2L1002.4 876.5L999.2 883.8L995.8 891L992.2 898.1L988.4 905.2L984.5 912.1L980.4 919L976.2 925.8L971.8 932.4L967.3 939L962.5 945.5L957.7 951.9L952.7 958.2L947.5 964.3L942.2 970.3L936.7 976.3L931.1 982L925.4 987.7L919.5 993.2L913.5 998.6L907.4 1003.9L901.2 1009L894.8 1014L888.3 1018.8L881.7 1023.5L875 1028L868.1 1032.4L861.2 1036.6L854.2 1040.7L847 1044.6L839.8 1048.3L832.5 1051.8L825.1 1055.2L817.6 1058.5L810 1061.5L802.4 1064.4L794.7 1067.1L786.9 1069.6L779.1 1071.9L771.2 1074.1L763.2 1076.1L755.2 1077.9L747.2 1079.5L739.1 1080.9L731 1082.1L722.8 1083.2L714.6 1084L706.4 1084.7L698.2 1085.2L690 1085.4L681.7 1085.5L673.5 1085.4L665.2 1085.1L656.9 1084.6L648.7 1083.9L640.5 1083.1L632.3 1082L624.1 1080.7L615.9 1079.3L607.7 1077.7L599.6 1075.8L591.6 1073.8L583.5 1071.6L575.6 1069.2L567.7 1066.6L559.8 1063.8L552 1060.9L544.2 1057.7L536.6 1054.4L529 1050.9L521.5 1047.2L514 1043.4L506.7 1039.4L499.4 1035.2L492.3 1030.8L485.2 1026.2L478.2 1021.5L471.4 1016.7L464.6 1011.6L458 1006.4L451.5 1001.1L445.1 995.6L438.8 989.9L432.7 984.1L426.7 978.2L420.8 972.1L415.1 965.8L409.5 959.5L404.1 953L398.8 946.3L393.7 939.6L388.7 932.7L383.9 925.7L379.2 918.6L374.7 911.4L370.4 904L366.2 896.6L362.2 889L358.4 881.4L354.8 873.7L351.3 865.9L348 858L344.9 850L342 841.9L339.3 833.8L336.7 825.6L334.4 817.4L332.2 809.1L330.3 800.7L328.5 792.3L326.9 783.8L325.5 775.3L324.4 766.8L323.4 758.2L322.6 749.6L322 741L321.6 732.4L321.4 723.7L321.4 715.1L321.7 706.4L322.1 697.8L322.7 689.1L323.5 680.5L324.6 671.9L325.8 663.3L327.2 654.7L328.9 646.1L330.7 637.6L332.7 629.1L334.9 620.7L337.4 612.3L340 604L342.8 595.7L345.8 587.5L349 579.4L352.4 571.3L356 563.3L359.7 555.4L363.7 547.6L367.8 539.8L372.2 532.2L376.7 524.6L381.3 517.2L386.2 509.9L391.2 502.6L396.4 495.5L401.8 488.5L407.3 481.6L413 474.9L418.9 468.3L424.9 461.8L431 455.4L437.3 449.2L443.8 443.2L450.4 437.2L457.2 431.5L464 425.9L471.1 420.4L478.2 415.1L485.5 410L492.9 405L500.4 400.3L508 395.6L515.7 391.2L523.6 386.9L531.5 382.9L539.6 379L547.7 375.3L555.9 371.7L564.2 368.4L572.6 365.3L581.1 362.3L589.6 359.6L598.3 357L606.9 354.7L615.7 352.5L624.4 350.6L633.3 348.8L642.1 347.3L651.1 346L660 344.8L669 343.9L678 343.2L687 342.7L696.1 342.4L705.1 342.3L714.2 342.5L723.2 342.8L732.3 343.4L741.3 344.1L750.3 345.1L759.3 346.3L768.3 347.7L777.3 349.3L786.2 351.1L795.1 353.2L803.9 355.4L812.7 357.8L821.4 360.5L830.1 363.3L838.7 366.4L847.3 369.6L855.7 373.1L864.1 376.7L872.5 380.6L880.7 384.6L888.8 388.9L896.9 393.3L904.8 397.9L912.6 402.7L920.4 407.7L928 412.9L935.5 418.2L942.8 423.8L950.1 429.5L957.2 435.4L964.2 441.4L971 447.6L977.7 454L984.3 460.5L990.7 467.2L996.9 474L1003 481L1009 488.1L1014.8 495.4L1020.4 502.8L1025.8 510.3L1031.1 518L1036.1 525.8L1041 533.7L1045.8 541.7L1050.3 549.9L1054.7 558.1L1058.8 566.5L1062.8 574.9L1066.5 583.5L1070.1 592.1L1073.5 600.8L1076.7 609.7L1079.6 618.5L1082.4 627.5L1084.9 636.5L1087.3 645.6L1089.4 654.8L1091.3 664L1093 673.2L1094.5 682.5L1095.8 691.8L1096.9 701.2L1097.7 710.6L1098.3 720L1098.7 729.4L1098.9 738.9L1098.9 748.3L1098.6 757.8L1098.1 767.2L1097.4 776.7L1096.5 786.1L1095.4 795.5L1094 804.9L1092.5 814.3L1090.7 823.6L1088.6 832.9L1086.4 842.1L1084 851.3L1081.3 860.5L1078.4 869.6L1075.3 878.6L1072 887.5L1068.5 896.4L1064.8 905.2L1060.9 913.9L1056.8 922.6L1052.4 931.1L1047.9 939.5L1043.2 947.9L1038.3 956.1L1033.1 964.2L1027.8 972.2L1022.3 980.1L1016.6 987.8L1010.8 995.5L1004.7 1002.9L998.5 1010.3L992.1 1017.5L985.6 1024.6L978.8 1031.5L971.9 1038.2L964.9 1044.8L957.7 1051.3L950.3 1057.5L942.8 1063.6L935.1 1069.6L927.3 1075.3L919.4 1080.9L911.3 1086.3L903.2 1091.5L894.8 1096.5L886.4 1101.3L877.8 1105.9L869.2 1110.4L860.4 1114.6L851.5 1118.6L842.6 1122.4L833.5 1126.1L824.4 1129.5L815.1 1132.7L805.8 1135.6L796.5 1138.4L787 1140.9L777.5 1143.3L767.9 1145.4L758.3 1147.3L748.6 1148.9L738.9 1150.3L729.2 1151.6L719.4 1152.5L709.6 1153.3L699.8 1153.8L690 1154.1L680.1 1154.2L670.3 1154L660.4 1153.6L650.6 1153L640.7 1152.2L630.9 1151.1L621.1 1149.8L611.3 1148.2L601.6 1146.5L591.9 1144.5L582.2 1142.3L572.6 1139.8L563.1 1137.2L553.6 1134.3L544.2 1131.2L534.8 1127.8L525.5 1124.3L516.3 1120.5L507.2 1116.5L498.2 1112.3L489.2 1107.9L480.4 1103.3L471.7 1098.4L463 1093.4L454.5 1088.2L446.1 1082.7L437.9 1077.1L429.7 1071.3L421.7 1065.3L413.9 1059.1L406.1 1052.7L398.6 1046.1L391.1 1039.3L383.9 1032.4L376.8 1025.3L369.8 1018L363 1010.6L356.4 1003L350 995.3L343.7 987.4L337.6 979.3L331.8 971.1L326.1 962.8L320.5 954.3L315.2 945.7L310.1 937L305.2 928.1L300.5 919.2L296 910.1L291.7 900.9L287.6 891.6L283.8 882.2L280.1 872.8L276.7 863.2L273.5 853.5L270.5 843.8L267.7 834L265.2 824.2L262.9 814.2L260.9 804.2L259 794.2L257.4 784.1L256 774L254.9 763.8L254 753.7L253.4 743.4L252.9 733.2L252.7 723L252.8 712.7L253.1 702.5L253.6 692.2L254.4 682L255.4 671.8L256.7 661.5L258.1 651.4L259.9 641.2L261.8 631.1L264 621L266.5 611L269.1 601.1L272 591.2L275.1 581.3L278.5 571.5L282.1 561.8L285.9 552.2L290 542.7L294.2 533.3L298.7 523.9L303.4 514.7L308.3 505.5L313.5 496.5L318.8 487.6L324.4 478.8L330.1 470.2L336.1 461.7L342.3 453.3L348.6 445L355.2 436.9L361.9 429L368.9 421.2L376 413.5L383.3 406.1L390.7 398.8L398.4 391.6L406.2 384.7L414.2 377.9L422.3 371.3L430.6 364.9L439.1 358.7L447.7 352.7L456.4 346.8L465.3 341.2L474.3 335.8L483.4 330.6L492.7 325.6L502.1 320.8L511.6 316.3L521.2 311.9L530.9 307.8L540.7 303.9L550.6 300.2L560.6 296.8L570.6 293.6L580.8 290.6L591 287.9L601.3 285.4L611.6 283.1L622.1 281.1L632.5 279.3L643 277.7L653.5 276.5L664.1 275.4L674.7 274.6L685.3 274L696 273.7L706.6 273.7L717.3 273.9L727.9 274.3L738.6 275L749.2 275.9L759.8 277.1L770.4 278.5L780.9 280.2L791.5 282.1L801.9 284.3L812.4 286.7L822.8 289.3L833.1 292.2L843.3 295.4L853.5 298.7L863.6 302.4L873.6 306.2L883.6 310.3L893.4 314.6L903.2 319.2L912.8 323.9L922.4 328.9L931.8 334.2L941.1 339.6L950.3 345.3L959.3 351.2L968.3 357.3L977 363.6L985.7 370.1L994.2 376.8L1002.5 383.7L1010.7 390.8L1018.7 398.1L1026.5 405.6L1034.2 413.3L1041.7 421.1L1049 429.2L1056.1 437.4L1063 445.7L1069.8 454.3L1076.3 463L1082.7 471.8L1088.8 480.8L1094.7 490L1100.5 499.2L1106 508.7L1111.3 518.2L1116.3 527.9L1121.2 537.7L1125.8 547.6L1130.2 557.6L1134.3 567.8L1138.3 578L1141.9 588.3L1145.4 598.7L1148.6 609.2L1151.6 619.8L1154.3 630.4L1156.7 641.1L1159 651.9L1160.9 662.7L1162.6 673.6L1164.1 684.5L1165.3 695.5L1166.3 706.5L1167 717.5L1167.4 728.5L1167.6 739.5L1167.5 750.6L1167.2 761.6L1166.6 772.7L1165.8 783.7L1164.7 794.7L1163.3 805.7L1161.7 816.7L1159.8 827.6L1157.7 838.5L1155.3 849.4L1152.7 860.2L1149.8 870.9L1146.7 881.6L1143.3 892.2L1139.7 902.7L1135.8 913.1L1131.7 923.5L1127.3 933.7L1122.7 943.9L1117.9 954L1112.8 963.9L1107.5 973.7L1101.9 983.4L1096.2 993L1090.2 1002.5L1084 1011.8L1077.5 1021L1070.9 1030L1064 1038.9L1056.9 1047.6L1049.7 1056.1L1042.2 1064.5L1034.5 1072.7L1026.7 1080.8L1018.6 1088.6L1010.4 1096.3L1001.9 1103.8L993.4 1111.1L984.6 1118.1L975.6 1125L966.6 1131.7L957.3 1138.2L947.9 1144.4L938.3 1150.5L928.6 1156.3L918.8 1161.9L908.8 1167.2L898.7 1172.4L888.5 1177.3L878.2 1181.9L867.7 1186.4L857.2 1190.5L846.5 1194.5L835.8 1198.2L824.9 1201.6L814 1204.8L803 1207.7L792 1210.4L780.8 1212.8L769.6 1215L758.4 1216.9L747.1 1218.5L735.8 1219.9L724.4 1221L713 1221.9L701.6 1222.5L690.1 1222.8L678.7 1222.9L667.2 1222.6L655.8 1222.2L644.4 1221.4L632.9 1220.4L621.5 1219.1L610.2 1217.6L598.8 1215.8L587.5 1213.7L576.3 1211.4L565 1208.8L553.9 1205.9L542.8 1202.8L531.8 1199.4L520.9 1195.8L510 1191.9L499.2 1187.7L488.6 1183.3L478 1178.7L467.5 1173.8L457.1 1168.6L446.9 1163.3L436.8 1157.6L426.8 1151.8L416.9 1145.7L407.2 1139.3L397.7 1132.8L388.2 1126L379 1119L369.9 1111.8L360.9 1104.4L352.2 1096.7L343.6 1088.9L335.2 1080.8L326.9 1072.6L318.9 1064.2L311.1 1055.5L303.4 1046.7L296 1037.7L288.8 1028.5L281.7 1019.2L274.9 1009.7L268.3 1000L262 990.2L255.9 980.2L250 970.1L244.3 959.9L238.9 949.5L233.7 939L228.7 928.3L224 917.6L219.6 906.7L215.4 895.7L211.4 884.6L207.7 873.5L204.3 862.2L201.2 850.9L198.3 839.4L195.6 827.9L193.2 816.4L191.1 804.8L189.3 793.1L187.8 781.4L186.5 769.7L185.5 757.9L184.7 746.1L184.3 734.2L184.1 722.4L184.1 710.6L184.5 698.7L185.1 686.9L186.1 675L187.3 663.2L188.7 651.4L190.5 639.7L192.5 628L194.8 616.3L197.3 604.7L200.1 593.1L203.2 581.6L206.6 570.2L210.3 558.8L214.2 547.5L218.3 536.3L222.7 525.2L227.4 514.3L232.4 503.4L237.6 492.6L243 481.9L248.7 471.4L254.7 461L260.9 450.8L267.3 440.6L273.9 430.7L280.8 420.8L288 411.2L295.3 401.7L302.9 392.4L310.7 383.2L318.7 374.2L326.9 365.4L335.4 356.8L344 348.4L352.8 340.2L361.9 332.2L371.1 324.4L380.5 316.8L390 309.5L399.8 302.3L409.7 295.4L419.8 288.7L430 282.3L440.4 276L450.9 270.1L461.6 264.3L472.4 258.8L483.4 253.6L494.4 248.6L505.6 243.9L516.9 239.4L528.3 235.2L539.8 231.3L551.4 227.6L563.1 224.2L574.9 221.1L586.7 218.2L598.7 215.6L610.6 213.3L622.7 211.3L634.8 209.6L646.9 208.1L659 206.9L671.2 206L683.5 205.4L695.7 205.1L707.9 205L720.2 205.2L732.4 205.8L744.7 206.6L756.9 207.7L769.1 209L781.2 210.7L793.4 212.6L805.5 214.9L817.5 217.4L829.5 220.2L841.4 223.2L853.3 226.6L865 230.2L876.7 234.1L888.3 238.3L899.9 242.7L911.3 247.4L922.6 252.4L933.8 257.7L944.8 263.2L955.8 268.9L966.6 274.9L977.3 281.2L987.8 287.7L998.2 294.5L1008.4 301.5L1018.5 308.8L1028.3 316.3L1038.1 324L1047.6 331.9L1057 340.1L1066.2 348.5L1075.1 357.1L1083.9 365.9L1092.5 374.9L1100.9 384.2L1109 393.6L1117 403.2L1124.7 413L1132.2 423L1139.4 433.1L1146.5 443.5L1153.3 454L1159.8 464.6L1166.1 475.4L1172.1 486.4L1177.9 497.5L1183.5 508.7L1188.7 520.1L1193.8 531.6L1198.5 543.2L1203 554.9L1207.2 566.8L1211.1 578.7L1214.8 590.7L1218.1 602.9L1221.2 615.1L1224 627.3L1226.5 639.7L1228.8 652.1L1230.7 664.5L1232.4 677L1233.7 689.6L1234.8 702.1L1235.6 714.7L1236.1 727.4L1236.3 740L1236.2 752.7L1235.8 765.3L1235.1 777.9L1234.1 790.6L1232.8 803.2L1231.3 815.8L1229.4 828.3L1227.2 840.8L1224.8 853.3L1222.1 865.7L1219 878L1215.7 890.3L1212.1 902.5L1208.2 914.6L1204 926.6L1199.6 938.5L1194.9 950.4L1189.9 962.1L1184.6 973.7L1179 985.2L1173.2 996.6L1167.1 1007.8L1160.8 1018.9L1154.2 1029.8L1147.3 1040.6L1140.2 1051.2L1132.8 1061.7L1125.2 1072L1117.4 1082.1L1109.3 1092.1L1100.9 1101.8L1092.4 1111.4L1083.6 1120.8L1074.6 1129.9L1065.4 1138.9L1056 1147.6L1046.4 1156.2L1036.5 1164.5L1026.5 1172.6L1016.3 1180.4L1005.9 1188L995.3 1195.4L984.6 1202.5L973.7 1209.4L962.6 1216L951.4 1222.4L940 1228.5L928.4 1234.3L916.8 1239.9L905 1245.2L893 1250.2L881 1255L868.8 1259.4L856.6 1263.6L844.2 1267.5L831.8 1271.2L819.2 1274.5L806.6 1277.5L793.9 1280.3L781.1 1282.7L768.3 1284.9L755.4 1286.7L742.5 1288.3L729.6 1289.5L716.6 1290.5L703.6 1291.1L690.5 1291.5L677.5 1291.5L664.4 1291.3L651.4 1290.7L638.4 1289.8L625.3 1288.7L612.3 1287.2L599.4 1285.4L586.5 1283.4L573.6 1281L560.8 1278.3L548 1275.3L535.3 1272L522.7 1268.5L510.2 1264.6L497.7 1260.4L485.4 1256L473.1 1251.3L461 1246.2L448.9 1240.9L437 1235.3L425.2 1229.5L413.6 1223.3L402.1 1216.9L390.7 1210.2L379.5 1203.3L368.5 1196.1L357.6 1188.6L346.9 1180.9L336.4 1172.9L326 1164.7L315.9 1156.2L305.9 1147.5L296.1 1138.6L286.6 1129.4L277.2 1120L268.1 1110.4L259.2 1100.6L250.5 1090.6L242.1 1080.3L233.9 1069.9L225.9 1059.3L218.2 1048.4L210.7 1037.5L203.5 1026.3L196.6 1014.9L189.9 1003.4L183.5 991.8L177.3 980L171.4 968L165.8 955.9L160.5 943.7L155.4 931.3L150.7 918.8L146.2 906.2L142.1 893.6L138.2 880.8L134.6 867.9L131.3 854.9L128.4 841.8L125.7 828.7L123.3 815.5L121.2 802.3L119.5 789L118 775.7L116.9 762.3L116.1 748.9L115.6 735.5L115.4 722L115.5 708.6L115.9 695.1L116.7 681.7L117.7 668.3L119.1 654.9L120.7 641.5L122.7 628.2L125 614.9L127.6 601.6L130.6 588.5L133.8 575.3L137.3 562.3L141.2 549.3L145.3 536.5L149.7 523.7L154.5 511L159.5 498.4L164.8 486L170.4 473.7L176.4 461.4L182.5 449.4L189 437.4L195.8 425.7L202.8 414L210.1 402.6L217.7 391.3L225.5 380.2L233.6 369.2L241.9 358.5L250.5 347.9L259.4 337.6L268.5 327.4L277.8 317.5L287.3 307.7L297.1 298.2L307.1 288.9L317.4 279.9L327.8 271.1L338.5 262.5L349.3 254.2L360.3 246.1L371.6 238.3L383 230.7L394.6 223.4L406.4 216.4L418.3 209.6L430.4 203.2L442.6 197L455 191L467.6 185.4L480.2 180.1L493 175L505.9 170.3L518.9 165.9L532.1 161.7L545.3 157.9L558.6 154.4L572 151.1L585.5 148.2L599 145.6L612.7 143.4L626.3 141.4L640 139.7L653.8 138.4L667.6 137.4L681.4 136.7L695.2 136.4L709.1 136.3L722.9 136.6L736.8 137.2L750.6 138.1L764.4 139.4L778.2 140.9L791.9 142.8L805.6 145L819.3 147.6L832.9 150.4L846.4 153.6L859.9 157.1L873.3 160.9L886.6 165L899.8 169.4L912.9 174.1L925.9 179.2L938.8 184.5L951.5 190.1L964.2 196.1L976.6 202.3L989 208.8L1001.2 215.6L1013.2 222.7L1025.1 230.1L1036.8 237.7L1048.4 245.7L1059.7 253.9L1070.9 262.3L1081.9 271L1092.6 280L1103.2 289.3L1113.5 298.7L1123.6 308.5L1133.5 318.4L1143.2 328.6L1152.7 339L1161.8 349.7L1170.8 360.5L1179.5 371.6L1187.9 382.9L1196.1 394.3L1204 406L1211.7 417.8L1219 429.9L1226.1 442L1232.9 454.4L1239.5 466.9L1245.7 479.6L1251.6 492.4L1257.3 505.4L1262.6 518.5L1267.6 531.7L1272.3 545.1L1276.8 558.5L1280.9 572.1L1284.6 585.8L1288.1 599.5L1291.3 613.3L1294.1 627.2L1296.6 641.2L1298.8 655.2L1300.6 669.3L1302.2 683.5L1303.4 697.6L1304.2 711.8L1304.8 726.1L1305 740.3L1304.8 754.5L1304.4 768.8L1303.6 783L1302.5 797.2L1301 811.4L1299.2 825.6L1297.1 839.7L1294.7 853.8L1291.9 867.8L1288.8 881.8L1285.4 895.7L1281.7 909.5L1277.6 923.2L1273.2 936.8L1268.5 950.4L1263.5 963.8L1258.1 977.1L1252.5 990.3L1246.5 1003.3L1240.3 1016.3L1233.7 1029L1226.9 1041.7L1219.7 1054.1L1212.3 1066.4L1204.5 1078.6L1196.5 1090.5L1188.2 1102.3L1179.7 1113.9L1170.8 1125.3L1161.7 1136.4L1152.3 1147.4L1142.7 1158.1L1132.8 1168.7L1122.7 1179L1112.4 1189L1101.8 1198.9L1090.9 1208.4L1079.9 1217.8L1068.6 1226.8L1057.1 1235.6L1045.4 1244.2L1033.5 1252.5L1021.4 1260.5L1009.2 1268.2L996.7 1275.6L984.1 1282.8L971.3 1289.6L958.3 1296.2L945.2 1302.4L932 1308.4L918.5 1314L905 1319.3L891.4 1324.3L877.6 1329L863.7 1333.4L849.7 1337.5L835.6 1341.2L821.4 1344.6L807.2 1347.7L792.8 1350.4L778.4 1352.8L764 1354.9L749.5 1356.6L734.9 1358L720.3 1359.1L705.7 1359.8L691.1 1360.2L676.4 1360.2L661.8 1359.9L647.2 1359.3L632.5 1358.3L617.9 1357L603.3 1355.3L588.8 1353.3L574.3 1351L559.9 1348.3L545.5 1345.3L531.2 1341.9L516.9 1338.2L502.8 1334.2L488.7 1329.9L474.8 1325.2L460.9 1320.2L447.2 1314.9L433.6 1309.2L420.1 1303.3L406.7 1297L393.5 1290.4L380.5 1283.5L367.6 1276.3L354.8 1268.8L342.3 1261L329.9 1252.9L317.7 1244.5L305.7 1235.8L293.9 1226.9L282.3 1217.7L270.9 1208.2L259.8 1198.4L248.8 1188.4L238.1 1178.1L227.7 1167.6L217.5 1156.8L207.5 1145.8L197.8 1134.5L188.3 1123.1L179.1 1111.4L170.2 1099.5L161.6 1087.3L153.2 1075L145.2 1062.5L137.4 1049.8L129.9 1036.9L122.7 1023.8L115.8 1010.6L109.2 997.2L103 983.7L97 970L91.4 956.1L86.1 942.1L81.1 928L76.4 913.8L72.1 899.5L68.1 885.1L64.4 870.5L61.1 855.9L58.1 841.2L55.5 826.5L53.2 811.7L51.2 796.8L49.6 781.9L48.4 766.9L47.5 751.9L46.9 736.9L46.7 721.8L46.8 706.8L47.3 691.7L48.1 676.7L49.3 661.7L50.9 646.7L52.8 631.8L55 616.8L57.6 602L60.5 587.2L63.8 572.4L67.4 557.8L71.3 543.2L75.6 528.7L80.3 514.3L85.2 500L90.6 485.9L96.2 471.8L102.2 457.9L108.4 444.1L115 430.5L122 417L129.2 403.6L136.8 390.5L144.6 377.5L152.8 364.7L161.3 352.1L170 339.7L179.1 327.4L188.4 315.4L198 303.6L207.9 292.1L218.1 280.7L228.5 269.6L239.2 258.8L250.1 248.1L261.3 237.8L272.7 227.7L284.4 217.8L296.3 208.3L308.4 199L320.8 190L333.3 181.2L346.1 172.8L359 164.7L372.2 156.8L385.5 149.3L399 142.1L412.7 135.1L426.5 128.6L440.5 122.3L454.6 116.3L468.9 110.7L483.3 105.4L497.9 100.5L512.5 95.9L527.3 91.6L542.1 87.7L557.1 84.1L572.1 80.8L587.3 78L602.5 75.4L617.7 73.2"/>
<path d="M510.7 448.2L517.2 443.8L523.8 439.6L530.5 435.5L537.3 431.6L544.2 427.8L551.2 424.2L558.3 420.8L565.4 417.5L572.7 414.3L580 411.4L587.4 408.6L594.8 406L602.4 403.6L610 401.3L617.6 399.2L625.3 397.3L633 395.6L640.8 394L648.6 392.6L656.5 391.4L664.4 390.4L672.3 389.6L680.2 388.9L688.2 388.5L696.2 388.2L704.2 388.1L712.1 388.2L720.1 388.5L728.1 389L736.1 389.6L744.1 390.5L752 391.5L760 392.7L767.9 394.1L775.8 395.7L783.6 397.5L791.4 399.4L799.2 401.6L806.9 403.9L814.6 406.4L822.2 409.1L829.7 411.9L837.2 415L844.7 418.2L852 421.6L859.3 425.1L866.5 428.9L873.6 432.8L880.6 436.8L887.6 441.1L894.4 445.5L901.2 450L907.8 454.7L914.3 459.6L920.8 464.6L927.1 469.8L933.2 475.1L939.3 480.6L945.3 486.2L951.1 492L956.8 497.9L962.3 503.9L967.7 510.1L973 516.4L978.1 522.8L983.1 529.4L987.9 536L992.6 542.8L997.1 549.7L1001.5 556.7L1005.7 563.8L1009.7 571L1013.6 578.3L1017.3 585.7L1020.8 593.2L1024.1 600.8L1027.3 608.4L1030.3 616.1L1033.2 623.9L1035.8 631.8L1038.3 639.7L1040.5 647.7L1042.6 655.8L1044.5 663.9L1046.3 672.1L1047.8 680.3L1049.1 688.5L1050.3 696.8L1051.2 705.1L1052 713.4L1052.6 721.8L1052.9 730.1L1053.1 738.5L1053.1 746.9L1052.9 755.3L1052.5 763.7L1051.9 772L1051.1 780.4L1050.1 788.8L1048.9 797.1L1047.5 805.4L1045.9 813.7L1044.2 822L1042.2 830.2L1040.1 838.4L1037.7 846.5L1035.2 854.6L1032.4 862.6L1029.5 870.5L1026.4 878.4L1023.1 886.2L1019.7 894L1016 901.7L1012.2 909.3L1008.2 916.8L1004 924.2L999.6 931.5L995.1 938.7L990.4 945.9L985.5 952.9L980.5 959.8L975.3 966.6L969.9 973.2L964.4 979.8L958.7 986.2L952.9 992.5L946.9 998.7L940.8 1004.7L934.5 1010.6L928.1 1016.3L921.6 1021.9L914.9 1027.3L908.1 1032.6L901.2 1037.8L894.1 1042.7L886.9 1047.5L879.6 1052.2L872.3 1056.7L864.7 1061L857.1 1065.1L849.4 1069.1L841.6 1072.8L833.7 1076.4L825.7 1079.9L817.7 1083.1L809.5 1086.1L801.3 1089L793 1091.7L784.7 1094.1L776.3 1096.4L767.8 1098.5L759.3 1100.4L750.7 1102.1L742.1 1103.6L733.4 1104.9L724.8 1106L716 1106.9L707.3 1107.6L698.5 1108L689.8 1108.3L681 1108.4L672.2 1108.3L663.4 1107.9L654.6 1107.4L645.9 1106.7L637.1 1105.7L628.3 1104.6L619.6 1103.2L610.9 1101.7L602.3 1099.9L593.7 1097.9L585.1 1095.8L576.5 1093.4L568.1 1090.8L559.6 1088.1L551.3 1085.1L543 1081.9L534.8 1078.6L526.6 1075L518.5 1071.3L510.5 1067.4L502.6 1063.3L494.8 1059L487.1 1054.5L479.5 1049.8L472 1045L464.6 1039.9L457.3 1034.7L450.2 1029.4L443.1 1023.8L436.2 1018.1L429.4 1012.3L422.8 1006.2L416.3 1000.1L409.9 993.7L403.7 987.2L397.6 980.6L391.7 973.8L385.9 966.9L380.3 959.8L374.9 952.7L369.6 945.3L364.5 937.9L359.5 930.3L354.8 922.6L350.2 914.8L345.8 906.9L341.6 898.9L337.5 890.8L333.7 882.6L330 874.3L326.5 865.9L323.2 857.4L320.2 848.8L317.3 840.2L314.6 831.5L312.1 822.7L309.8 813.9L307.8 805L305.9 796.1L304.2 787.1L302.8 778.1L301.6 769L300.5 759.9L299.7 750.8L299.1 741.6L298.7 732.4L298.5 723.3L298.6 714.1L298.8 704.9L299.3 695.7L300 686.5L300.9 677.4L302 668.2L303.3 659.1L304.8 650L306.5 640.9L308.5 631.9L310.7 622.9L313.1 614L315.6 605.1L318.4 596.2L321.4 587.5L324.6 578.8L328 570.1L331.7 561.6L335.5 553.1L339.5 544.7L343.7 536.4L348.1 528.2L352.7 520.1L357.5 512.1L362.5 504.2L367.6 496.5L373 488.8L378.5 481.3L384.2 473.9L390.1 466.6L396.1 459.4L402.3 452.4L408.7 445.5L415.3 438.8L422 432.3L428.8 425.8L435.8 419.6L443 413.5L450.3 407.5L457.7 401.8L465.3 396.2L473 390.8L480.9 385.5L488.9 380.5L496.9 375.6L505.1 370.9L513.5 366.4L521.9 362.1L530.4 358L539 354.1L547.8 350.3L556.6 346.8L565.5 343.5L574.5 340.4L583.5 337.5L592.6 334.8L601.8 332.3L611.1 330.1L620.4 328L629.7 326.2L639.1 324.6L648.6 323.2L658.1 322L667.6 321.1L677.1 320.3L686.7 319.8L696.2 319.5L705.8 319.5L715.4 319.6L725 320L734.6 320.6L744.1 321.4L753.7 322.5L763.2 323.7L772.7 325.2L782.2 327L791.7 328.9L801 331.1L810.4 333.4L819.7 336L828.9 338.8L838.1 341.9L847.2 345.1L856.3 348.6L865.2 352.2L874.1 356.1L882.9 360.2L891.6 364.5L900.2 369L908.7 373.7L917.1 378.6L925.4 383.7L933.5 389L941.6 394.5L949.5 400.1L957.3 406L964.9 412L972.5 418.3L979.8 424.7L987.1 431.2L994.1 438L1001.1 444.9L1007.8 452L1014.4 459.2L1020.9 466.6L1027.1 474.1L1033.2 481.8L1039.1 489.7L1044.9 497.7L1050.4 505.8L1055.8 514L1061 522.4L1065.9 530.9L1070.7 539.5L1075.3 548.2L1079.7 557.1L1083.9 566L1087.8 575.1L1091.6 584.2L1095.2 593.4L1098.5 602.7L1101.6 612.1L1104.5 621.6L1107.2 631.2L1109.7 640.8L1111.9 650.4L1113.9 660.2L1115.7 669.9L1117.3 679.8L1118.6 689.6L1119.7 699.5L1120.6 709.4L1121.2 719.4L1121.6 729.3L1121.8 739.3L1121.8 749.3L1121.5 759.3L1120.9 769.3L1120.2 779.2L1119.2 789.2L1118 799.1L1116.6 809.1L1114.9 818.9L1113 828.8L1110.8 838.6L1108.5 848.4L1105.9 858.1L1103 867.7L1100 877.3L1096.7 886.8L1093.2 896.3L1089.5 905.6L1085.6 914.9L1081.4 924.1L1077 933.2L1072.4 942.2L1067.7 951.1L1062.6 959.9L1057.4 968.6L1052 977.1L1046.4 985.6L1040.6 993.9L1034.6 1002.1L1028.4 1010.1L1022 1018L1015.4 1025.7L1008.7 1033.3L1001.7 1040.8L994.6 1048.1L987.3 1055.2L979.9 1062.1L972.3 1068.9L964.5 1075.5L956.6 1081.9L948.5 1088.2L940.2 1094.2L931.9 1100.1L923.3 1105.8L914.7 1111.3L905.9 1116.5L897 1121.6L888 1126.5L878.8 1131.1L869.6 1135.6L860.2 1139.8L850.8 1143.8L841.2 1147.6L831.5 1151.2L821.8 1154.6L812 1157.7L802.1 1160.6L792.1 1163.3L782.1 1165.7L772 1167.9L761.9 1169.9L751.7 1171.6L741.4 1173.1L731.2 1174.4L720.9 1175.4L710.5 1176.2L700.2 1176.7L689.8 1177L679.4 1177.1L669 1176.9L658.6 1176.5L648.3 1175.8L637.9 1174.9L627.6 1173.7L617.2 1172.4L606.9 1170.7L596.7 1168.8L586.5 1166.7L576.3 1164.4L566.2 1161.8L556.1 1159L546.1 1155.9L536.2 1152.6L526.3 1149.1L516.5 1145.3L506.8 1141.3L497.2 1137.1L487.7 1132.7L478.3 1128L469 1123.2L459.8 1118.1L450.8 1112.7L441.8 1107.2L433 1101.5L424.3 1095.5L415.7 1089.4L407.3 1083L399 1076.5L390.9 1069.7L382.9 1062.8L375.1 1055.7L367.5 1048.4L360 1040.9L352.7 1033.2L345.6 1025.4L338.6 1017.4L331.8 1009.2L325.3 1000.9L318.9 992.4L312.7 983.8L306.7 975L300.9 966.1L295.3 957L289.9 947.8L284.8 938.5L279.8 929.1L275.1 919.5L270.6 909.8L266.3 900.1L262.3 890.2L258.5 880.2L254.9 870.1L251.5 860L248.4 849.7L245.5 839.4L242.8 829L240.4 818.6L238.3 808.1L236.4 797.5L234.7 786.9L233.3 776.2L232.1 765.5L231.1 754.8L230.5 744.1L230 733.3L229.9 722.5L229.9 711.8L230.2 701L230.8 690.2L231.6 679.4L232.7 668.7L234 657.9L235.6 647.2L237.4 636.6L239.5 625.9L241.8 615.4L244.4 604.8L247.2 594.3L250.3 583.9L253.6 573.6L257.1 563.3L260.9 553.1L264.9 543L269.2 533L273.7 523.1L278.4 513.3L283.4 503.6L288.6 494L294 484.5L299.6 475.1L305.5 465.9L311.5 456.8L317.8 447.9L324.3 439L331 430.4L337.9 421.9L345 413.5L352.3 405.3L359.8 397.3L367.5 389.5L375.3 381.8L383.4 374.3L391.6 367L400 359.9L408.6 353L417.3 346.3L426.2 339.8L435.2 333.4L444.4 327.3L453.7 321.4L463.2 315.8L472.8 310.3L482.5 305.1L492.4 300.1L502.4 295.3L512.5 290.7L522.7 286.4L533 282.3L543.4 278.5L553.9 274.9L564.5 271.5L575.1 268.4L585.9 265.5L596.7 262.9L607.6 260.6L618.5 258.4L629.5 256.6L640.5 255L651.6 253.6L662.7 252.6L673.8 251.7L684.9 251.2L696.1 250.8L707.3 250.8L718.5 251L729.7 251.5L740.8 252.2L752 253.2L763.1 254.4L774.2 255.9L785.3 257.7L796.4 259.7L807.4 262L818.3 264.6L829.2 267.4L840 270.4L850.8 273.7L861.5 277.3L872.1 281.1L882.6 285.1L893 289.4L903.4 294L913.6 298.8L923.7 303.8L933.7 309.1L943.6 314.6L953.4 320.3L963 326.2L972.5 332.4L981.8 338.8L991 345.4L1000.1 352.3L1009 359.3L1017.7 366.6L1026.3 374.1L1034.7 381.7L1042.9 389.6L1050.9 397.7L1058.8 405.9L1066.4 414.3L1073.9 423L1081.2 431.7L1088.2 440.7L1095.1 449.8L1101.7 459.1L1108.2 468.6L1114.4 478.2L1120.4 487.9L1126.1 497.8L1131.7 507.8L1137 518L1142 528.3L1146.9 538.7L1151.5 549.2L1155.8 559.8L1159.9 570.5L1163.8 581.4L1167.4 592.3L1170.7 603.3L1173.8 614.4L1176.6 625.5L1179.2 636.8L1181.5 648.1L1183.6 659.4L1185.4 670.8L1186.9 682.3L1188.1 693.8L1189.1 705.3L1189.9 716.8L1190.3 728.4L1190.5 739.9L1190.4 751.5L1190 763.1L1189.4 774.7L1188.5 786.3L1187.4 797.8L1185.9 809.3L1184.2 820.8L1182.3 832.3L1180 843.7L1177.5 855L1174.7 866.4L1171.7 877.6L1168.4 888.8L1164.9 899.9L1161 910.9L1157 921.8L1152.6 932.7L1148.1 943.4L1143.2 954.1L1138.1 964.6L1132.8 975L1127.2 985.3L1121.4 995.5L1115.4 1005.5L1109.1 1015.4L1102.6 1025.2L1095.8 1034.8L1088.8 1044.2L1081.6 1053.5L1074.2 1062.6L1066.6 1071.6L1058.8 1080.3L1050.7 1088.9L1042.5 1097.3L1034 1105.6L1025.4 1113.6L1016.6 1121.4L1007.6 1129L998.4 1136.4L989 1143.6L979.5 1150.6L969.8 1157.4L959.9 1163.9L949.9 1170.2L939.7 1176.3L929.4 1182.2L919 1187.8L908.4 1193.1L897.7 1198.3L886.9 1203.1L875.9 1207.7L864.9 1212.1L853.7 1216.2L842.5 1220.1L831.1 1223.7L819.7 1227L808.2 1230L796.6 1232.8L784.9 1235.4L773.2 1237.6L761.4 1239.6L749.6 1241.3L737.8 1242.7L725.9 1243.9L713.9 1244.8L702 1245.4L690 1245.7L678 1245.8L666.1 1245.5L654.1 1245L642.1 1244.2L630.1 1243.1L618.2 1241.8L606.3 1240.2L594.4 1238.3L582.6 1236.1L570.8 1233.6L559.1 1230.9L547.5 1227.9L535.9 1224.6L524.3 1221.1L512.9 1217.2L501.5 1213.2L490.3 1208.8L479.1 1204.2L468.1 1199.3L457.1 1194.2L446.3 1188.8L435.6 1183.2L425 1177.3L414.6 1171.1L404.3 1164.7L394.1 1158.1L384.1 1151.2L374.2 1144.1L364.6 1136.8L355.1 1129.3L345.7 1121.5L336.5 1113.5L327.6 1105.3L318.8 1096.8L310.2 1088.2L301.8 1079.4L293.6 1070.3L285.6 1061.1L277.9 1051.7L270.3 1042.1L263 1032.3L255.9 1022.4L249 1012.3L242.4 1002L236 991.6L229.8 981L223.9 970.3L218.2 959.4L212.8 948.4L207.6 937.3L202.7 926L198.1 914.7L193.7 903.2L189.6 891.6L185.8 879.9L182.2 868.1L178.9 856.3L175.9 844.3L173.1 832.3L170.7 820.2L168.5 808.1L166.6 795.9L165 783.7L163.6 771.4L162.6 759.1L161.8 746.7L161.4 734.4L161.2 722L161.3 709.6L161.7 697.2L162.3 684.9L163.3 672.5L164.6 660.2L166.1 647.9L167.9 635.6L170 623.3L172.4 611.1L175.1 599L178.1 586.9L181.3 574.9L184.9 563L188.7 551.1L192.8 539.3L197.1 527.6L201.8 516.1L206.7 504.6L211.8 493.2L217.3 482L223 470.9L228.9 459.9L235.2 449L241.6 438.3L248.4 427.7L255.3 417.3L262.6 407.1L270 397L277.7 387.1L285.6 377.3L293.8 367.8L302.1 358.4L310.7 349.2L319.6 340.3L328.6 331.5L337.8 322.9L347.2 314.6L356.9 306.5L366.7 298.6L376.7 290.9L386.9 283.4L397.2 276.2L407.7 269.2L418.4 262.5L429.3 256L440.3 249.8L451.5 243.8L462.7 238.1L474.2 232.6L485.7 227.4L497.4 222.5L509.2 217.9L521.1 213.5L533.1 209.4L545.2 205.6L557.5 202L569.7 198.8L582.1 195.8L594.5 193.1L607 190.7L619.6 188.6L632.2 186.8L644.9 185.3L657.6 184.1L670.3 183.1L683 182.5L695.8 182.2L708.6 182.1L721.4 182.4L734.1 182.9L746.9 183.8L759.7 184.9L772.4 186.4L785.1 188.1L797.7 190.2L810.3 192.5L822.9 195.1L835.4 198L847.8 201.3L860.2 204.8L872.5 208.5L884.7 212.6L896.8 217L908.8 221.6L920.7 226.6L932.5 231.8L944.1 237.2L955.7 243L967.1 249L978.4 255.3L989.5 261.9L1000.5 268.7L1011.3 275.7L1021.9 283.1L1032.4 290.6L1042.7 298.5L1052.9 306.5L1062.8 314.8L1072.6 323.3L1082.1 332.1L1091.5 341.1L1100.7 350.3L1109.6 359.7L1118.3 369.3L1126.8 379.2L1135.1 389.2L1143.1 399.4L1150.9 409.8L1158.5 420.4L1165.8 431.2L1172.9 442.2L1179.7 453.3L1186.2 464.6L1192.5 476L1198.6 487.6L1204.3 499.3L1209.8 511.1L1215 523.1L1220 535.2L1224.6 547.5L1229 559.8L1233.1 572.3L1236.9 584.8L1240.4 597.4L1243.6 610.1L1246.5 622.9L1249.1 635.8L1251.4 648.7L1253.4 661.7L1255.2 674.7L1256.6 687.8L1257.7 700.9L1258.5 714.1L1259 727.2L1259.2 740.4L1259.1 753.6L1258.6 766.7L1257.9 779.9L1256.9 793.1L1255.5 806.2L1253.9 819.3L1251.9 832.4L1249.7 845.4L1247.1 858.4L1244.2 871.3L1241.1 884.2L1237.6 896.9L1233.9 909.7L1229.8 922.3L1225.4 934.8L1220.8 947.2L1215.9 959.5L1210.6 971.8L1205.1 983.8L1199.3 995.8L1193.2 1007.6L1186.9 1019.3L1180.3 1030.9L1173.4 1042.3L1166.2 1053.5L1158.8 1064.6L1151.1 1075.5L1143.2 1086.2L1135 1096.7L1126.6 1107.1L1117.9 1117.2L1109 1127.2L1099.8 1136.9L1090.5 1146.5L1080.9 1155.8L1071 1164.9L1061 1173.8L1050.8 1182.4L1040.3 1190.8L1029.7 1199L1018.9 1206.9L1007.8 1214.6L996.6 1222L985.3 1229.1L973.7 1236L962 1242.6L950.2 1249L938.1 1255.1L926 1260.8L913.7 1266.4L901.3 1271.6L888.7 1276.5L876.1 1281.2L863.3 1285.5L850.4 1289.6L837.5 1293.3L824.4 1296.8L811.3 1299.9L798 1302.8L784.7 1305.3L771.4 1307.6L758 1309.5L744.5 1311.1L731.1 1312.4L717.5 1313.4L704 1314L690.4 1314.4L676.8 1314.4L663.3 1314.1L649.7 1313.6L636.1 1312.6L622.6 1311.4L609.1 1309.9L595.6 1308L582.1 1305.8L568.7 1303.4L555.4 1300.6L542.1 1297.4L528.9 1294L515.8 1290.3L502.7 1286.3L489.8 1281.9L476.9 1277.3L464.2 1272.3L451.6 1267.1L439 1261.6L426.7 1255.8L414.4 1249.6L402.3 1243.2L390.3 1236.6L378.5 1229.6L366.9 1222.4L355.4 1214.8L344.1 1207.1L332.9 1199L322 1190.7L311.2 1182.1L300.7 1173.3L290.3 1164.3L280.2 1155L270.2 1145.4L260.5 1135.7L251 1125.7L241.8 1115.4L232.8 1105L224 1094.3L215.5 1083.5L207.2 1072.4L199.2 1061.2L191.4 1049.7L183.9 1038.1L176.7 1026.3L169.7 1014.3L163.1 1002.2L156.7 989.9L150.6 977.5L144.7 964.9L139.2 952.2L134 939.3L129.1 926.3L124.4 913.2L120.1 900L116.1 886.7L112.4 873.3L109 859.8L105.9 846.3L103.1 832.6L100.7 818.9L98.5 805.1L96.7 791.3L95.2 777.4L94 763.5L93.2 749.6L92.7 735.6L92.5 721.7L92.6 707.7L93.1 693.7L93.8 679.7L94.9 665.8L96.4 651.9L98.1 638L100.2 624.1L102.6 610.3L105.3 596.5L108.4 582.8L111.7 569.2L115.4 555.6L119.4 542.2L123.7 528.8L128.3 515.5L133.3 502.3L138.5 489.3L144.1 476.3L149.9 463.5L156.1 450.8L162.5 438.3L169.2 425.9L176.3 413.7L183.6 401.6L191.2 389.7L199 378L207.2 366.4L215.6 355.1L224.3 343.9L233.2 332.9L242.4 322.2L251.9 311.6L261.6 301.3L271.5 291.2L281.7 281.3L292.1 271.7L302.7 262.3L313.6 253.1L324.6 244.2L335.9 235.6L347.4 227.2L359.1 219.1L370.9 211.2L383 203.7L395.2 196.4L407.6 189.4L420.2 182.6L432.9 176.2L445.8 170.1L458.8 164.3L472 158.7L485.3 153.5L498.7 148.6L512.2 144L525.8 139.7L539.6 135.7L553.4 132L567.3 128.7L581.3 125.7L595.4 123L609.6 120.7L623.8 118.6L638 116.9L652.3 115.6L666.6 114.5L680.9 113.8L695.3 113.5L709.7 113.4L724.1 113.7L738.4 114.4L752.8 115.3L767.1 116.6L781.4 118.3L795.7 120.3L810 122.6L824.1 125.2L838.3 128.2L852.3 131.5L866.3 135.1L880.2 139L894 143.3L907.7 147.9L921.3 152.8L934.8 158.1L948.2 163.6L961.4 169.5L974.5 175.6L987.5 182.1L1000.3 188.9L1012.9 196L1025.4 203.3L1037.8 211L1049.9 219L1061.9 227.2L1073.7 235.7L1085.3 244.5L1096.6 253.6L1107.8 262.9L1118.8 272.5L1129.5 282.3L1140 292.4L1150.3 302.8L1160.3 313.3L1170.1 324.2L1179.6 335.2L1188.9 346.5L1197.9 358L1206.7 369.7L1215.1 381.6L1223.3 393.7L1231.3 406L1238.9 418.5L1246.3 431.1L1253.3 444L1260.1 457L1266.5 470.1L1272.7 483.4L1278.5 496.9L1284 510.5L1289.3 524.2L1294.1 538.1L1298.7 552L1303 566.1L1306.9 580.3L1310.5 594.6L1313.7 608.9L1316.7 623.3L1319.3 637.8L1321.5 652.4L1323.4 667L1325 681.7L1326.2 696.4L1327.1 711.1L1327.7 725.9L1327.9 740.6L1327.7 755.4L1327.2 770.2L1326.4 785L1325.2 799.7L1323.7 814.4L1321.9 829.1L1319.7 843.8L1317.1 858.4L1314.2 872.9L1311 887.4L1307.5 901.8L1303.6 916.1L1299.3 930.3L1294.8 944.5L1289.9 958.5L1284.7 972.4L1279.1 986.2L1273.3 999.9L1267.1 1013.5L1260.6 1026.9L1253.8 1040.1L1246.7 1053.2L1239.2 1066.1L1231.5 1078.9L1223.5 1091.4L1215.2 1103.8L1206.6 1116L1197.7 1128L1188.5 1139.8L1179 1151.4L1169.3 1162.8L1159.3 1173.9L1149.1 1184.8L1138.6 1195.5L1127.8 1205.9L1116.8 1216.1L1105.6 1226L1094.1 1235.7L1082.4 1245.1L1070.5 1254.2L1058.4 1263.1L1046.1 1271.6L1033.5 1279.9L1020.8 1287.9L1007.9 1295.6L994.8 1303L981.5 1310.1L968.1 1316.9L954.5 1323.4L940.7 1329.5L926.8 1335.4L912.8 1340.9L898.6 1346.1L884.3 1350.9L869.9 1355.4L855.4 1359.6L840.8 1363.5L826.1 1367L811.3 1370.2L796.5 1373L781.5 1375.5L766.6 1377.6L751.5 1379.4L736.4 1380.9L721.3 1382L706.2 1382.7L691 1383.1L675.8 1383.1L660.7 1382.8L645.5 1382.1L630.3 1381.1L615.2 1379.7L600.1 1378L585 1375.9L570 1373.4L555 1370.7L540.1 1367.5L525.3 1364L510.6 1360.2L495.9 1356L481.3 1351.5L466.9 1346.7L452.5 1341.5L438.3 1336L424.2 1330.1L410.2 1323.9L396.4 1317.4L382.7 1310.6L369.2 1303.4L355.8 1295.9L342.6 1288.2L329.6 1280.1L316.8 1271.7L304.2 1263L291.8 1254L279.5 1244.7L267.5 1235.2L255.8 1225.3L244.2 1215.2L232.9 1204.8L221.8 1194.2L211 1183.2L200.4 1172.1L190.1 1160.7L180 1149L170.3 1137.1L160.7 1125L151.5 1112.7L142.6 1100.1L133.9 1087.3L125.6 1074.4L117.5 1061.2L109.8 1047.8L102.3 1034.3L95.2 1020.6L88.4 1006.7L81.9 992.7L75.8 978.5L69.9 964.1L64.4 949.7L59.3 935.1L54.5 920.3L50 905.5L45.9 890.5L42.1 875.5L38.7 860.4L35.6 845.2L32.8 829.9L30.5 814.5L28.5 799.1L26.8 783.7L25.5 768.2L24.6 752.6L24 737.1L23.8 721.5L23.9 705.9L24.5 690.4L25.3 674.8L26.6 659.2L28.2 643.7L30.1 628.2L32.4 612.8L35.1 597.4L38.2 582.1L41.6 566.8L45.3 551.7L49.4 536.6L53.9 521.6L58.7 506.7L63.8 491.9L69.3 477.2L75.2 462.7L81.4 448.3L87.9 434L94.7 419.9L101.9 405.9L109.4 392.1L117.2 378.5L125.4 365.1L133.8 351.8L142.6 338.8L151.7 325.9L161.1 313.3L170.7 300.9L180.7 288.7L190.9 276.7L201.4 265L212.2 253.5L223.3 242.2L234.6 231.3L246.2 220.5L258.1 210.1L270.1 199.9L282.5 190L295 180.4L307.8 171.1L320.8 162.1L334 153.3L347.4 144.9L361 136.8L374.8 129L388.8 121.6L402.9 114.4L417.2 107.6L431.7 101.1L446.4 95L461.1 89.2L476.1 83.7L491.1 78.6L506.3 73.8L521.5 69.4L536.9 65.4L552.4 61.7L568 58.3L583.6 55.4L599.3 52.7L615.1 50.5"/>
<path d="M559.3 504.9L553.5 495"/>
<path d="M614.4 477.7L611 466.7"/>
<path d="M674.7 463.9L669.4 385.9"/>
<path d="M737.3 464.4L739.2 453"/>
<path d="M798.6 479.4L803 468.8"/>
<path d="M855.3 508.5L901.4 445.3"/>
<path d="M904.2 550.3L912.9 542.8"/>
<path d="M942.5 602.7L952.7 597.4"/>
<path d="M967.8 663.1L1043.7 644.3"/>
<path d="M978.7 728.2L990.2 728.1"/>
<path d="M974.1 794.8L985.3 797.3"/>
<path d="M954.1 859L1024.4 893.4"/>
<path d="M919.6 917.4L928.4 924.7"/>
<path d="M872 966.6L879 975.8"/>
<path d="M813.9 1003.9L845.6 1075.4"/>
<path d="M748.2 1026.9L750.3 1038.2"/>
<path d="M678.4 1034.2L677.8 1045.7"/>
<path d="M608.2 1025.1L586.5 1100.3"/>
<path d="M541.4 999.9L535.8 1009.9"/>
<path d="M481.8 959.5L474 968"/>
<path d="M432.7 906.1L367.8 949.7"/>
<path d="M397 842.2L386.2 846.3"/>
<path d="M376.8 771.3L365.4 772.7"/>
<path d="M373.5 697L295.8 688.7"/>
<path d="M387.6 623.4L376.8 619.6"/>
<path d="M418.5 554.5L408.9 548.3"/>
<path d="M464.9 494.1L410.7 437.8"/>
<path d="M524.4 445.7L518.5 435.8"/>
<path d="M594 412.1L590.6 401.1"/>
<path d="M670.1 395.3L664.7 317.3"/>
<path d="M748.5 396.6L750.4 385.2"/>
<path d="M825.2 416.1L829.6 405.5"/>
<path d="M895.8 453L941.8 389.8"/>
<path d="M956.4 505.6L965.1 498.1"/>
<path d="M1003.5 571.2L1013.8 566"/>
<path d="M1034.5 646.5L1110.4 627.7"/>
<path d="M1047.3 727.5L1058.8 727.4"/>
<path d="M1041.1 809.9L1052.3 812.5"/>
<path d="M1015.8 889.2L1086.1 923.6"/>
<path d="M972.6 961L981.5 968.3"/>
<path d="M913.6 1021.3L920.6 1030.5"/>
<path d="M841.8 1066.7L873.5 1138.2"/>
<path d="M760.8 1094.5L762.9 1105.8"/>
<path d="M675.1 1102.8L674.5 1114.3"/>
<path d="M589.1 1091.1L567.5 1166.3"/>
<path d="M507.7 1059.7L502 1069.7"/>
<path d="M435.1 1010L427.3 1018.4"/>
<path d="M375.7 944.4L310.8 988"/>
<path d="M332.7 866.4L321.9 870.4"/>
<path d="M308.6 779.9L297.2 781.4"/>
<path d="M305.2 689.7L227.5 681.4"/>
<path d="M322.8 600.5L312 596.7"/>
<path d="M360.8 517.3L351.1 511.1"/>
<path d="M417.3 444.6L363 388.3"/>
<path d="M489.5 386.6L483.6 376.7"/>
<path d="M573.6 346.5L570.2 335.5"/>
<path d="M665.4 326.8L660.1 248.8"/>
<path d="M759.8 328.8L761.7 317.5"/>
<path d="M851.7 352.7L856.2 342.1"/>
<path d="M936.2 397.5L982.3 334.3"/>
<path d="M1008.5 460.9L1017.3 453.4"/>
<path d="M1064.6 539.8L1074.8 534.5"/>
<path d="M1101.2 630L1177.1 611.2"/>
<path d="M1116 726.9L1127.5 726.7"/>
<path d="M1108.1 825.1L1119.3 827.6"/>
<path d="M1077.5 919.4L1147.7 953.8"/>
<path d="M1025.7 1004.6L1034.6 1011.9"/>
<path d="M955.2 1076L962.1 1085.2"/>
<path d="M869.6 1129.5L901.3 1201"/>
<path d="M773.4 1162L775.5 1173.3"/>
<path d="M671.8 1171.5L671.2 1183"/>
<path d="M570.1 1157.1L548.4 1232.3"/>
<path d="M473.9 1119.5L468.2 1129.5"/>
<path d="M388.5 1060.4L380.7 1068.8"/>
<path d="M318.7 982.7L253.8 1026.3"/>
<path d="M268.3 890.5L257.6 894.5"/>
<path d="M240.5 788.6L229.1 790"/>
<path d="M236.9 682.4L159.1 674.1"/>
<path d="M258 577.7L247.2 573.9"/>
<path d="M303 480.1L293.3 473.9"/>
<path d="M369.6 395.1L315.4 338.8"/>
<path d="M454.5 327.4L448.7 317.5"/>
<path d="M553.3 280.9L549.9 269.9"/>
<path d="M660.7 258.2L655.4 180.2"/>
<path d="M771 261L772.9 249.7"/>
<path d="M878.3 289.4L882.8 278.8"/>
<path d="M976.7 341.9L1022.8 278.8"/>
<path d="M1060.7 416.2L1069.5 408.7"/>
<path d="M1125.7 508.3L1135.9 503.1"/>
<path d="M1167.9 613.5L1243.8 594.7"/>
<path d="M1184.7 726.2L1196.2 726.1"/>
<path d="M1175.1 840.3L1186.3 842.8"/>
<path d="M1139.2 949.6L1209.4 984"/>
<path d="M1078.8 1048.3L1087.6 1055.6"/>
<path d="M996.8 1130.7L1003.7 1139.9"/>
<path d="M897.4 1192.3L929.1 1263.8"/>
<path d="M786 1229.5L788.2 1240.8"/>
<path d="M668.5 1240.1L667.9 1251.6"/>
<path d="M551 1223.2L529.4 1298.3"/>
<path d="M440.1 1179.4L434.5 1189.4"/>
<path d="M341.9 1110.8L334 1119.3"/>
<path d="M261.6 1021L196.7 1064.7"/>
<path d="M204 914.6L193.2 918.7"/>
<path d="M172.3 797.3L160.9 798.7"/>
<path d="M168.6 675.1L90.8 666.8"/>
<path d="M193.2 554.9L182.4 551"/>
<path d="M245.2 443L235.5 436.7"/>
<path d="M322 345.6L267.7 289.3"/>
<path d="M419.6 268.3L413.7 258.4"/>
<path d="M532.9 215.3L529.5 204.3"/>
<path d="M656 189.7L650.7 111.7"/>
<path d="M782.3 193.3L784.2 181.9"/>
<path d="M904.9 226L909.3 215.4"/>
<path d="M1017.2 286.4L1063.2 223.2"/>
<path d="M1112.9 371.5L1121.6 364"/>
<path d="M1186.8 476.9L1197 471.6"/>
<path d="M1234.6 597L1310.5 578.2"/>
<path d="M1253.4 725.5L1264.9 725.4"/>
<path d="M1242.1 855.4L1253.3 858"/>
<path d="M1200.9 979.8L1271.1 1014.2"/>
<path d="M1131.8 1091.9L1140.7 1099.2"/>
<path d="M1038.3 1185.4L1045.3 1194.5"/>
<path d="M925.3 1255.1L957 1326.6"/>
<path d="M798.7 1297.1L800.8 1308.4"/>
<path d="M665.2 1308.7L664.6 1320.2"/>
<path d="M532 1289.2L510.3 1364.3"/>
<path d="M406.4 1239.2L400.7 1249.2"/>
<path d="M295.2 1161.3L287.4 1169.7"/>
<path d="M204.6 1059.4L139.7 1103"/>
<path d="M139.7 938.8L128.9 942.8"/>
<path d="M104.2 805.9L92.8 807.4"/>
<path d="M100.3 667.8L22.5 659.5"/>
<path d="M128.4 532L117.6 528.2"/>
<path d="M187.4 405.8L177.8 399.6"/>
<path d="M274.3 296.1L266.3 287.9"/>
<path d="M384.6 209.1L378.8 199.2"/>
<path d="M512.6 149.6L509.1 138.7"/>
<path d="M651.3 121.2L650.6 109.7"/>
</g>
<circle cx="626.6" cy="1034.7" r="14.6" fill="#b0b0b0"/>
<circle cx="396" cy="978.8" r="14.6" fill="#b0b0b0"/>
<circle cx="231.9" cy="763.4" r="14.6" fill="#b0b0b0"/>
<circle cx="235.7" cy="448.1" r="14.6" fill="#b0b0b0"/>
<circle cx="439.4" cy="173.1" r="14.6" fill="#b0b0b0"/>
<circle cx="681.9" cy="457.7" r="14" fill="none" stroke="#aeaeae" stroke-width="1.9"/>
<circle cx="864.3" cy="427.7" r="14" fill="none" stroke="#aeaeae" stroke-width="1.9"/>
<circle cx="1063.7" cy="527" r="14" fill="none" stroke="#aeaeae" stroke-width="1.9"/>
<circle cx="1189.4" cy="774.6" r="14" fill="none" stroke="#aeaeae" stroke-width="1.9"/>
<circle cx="1140.8" cy="1089.4" r="14" fill="none" stroke="#aeaeae" stroke-width="1.9"/>
<g fill="none" stroke="#000" stroke-width="1" shape-rendering="crispEdges">
<path d="M547.9 506L553.1 502.4L558.3 499L563.6 495.7L569 492.5L574.5 489.5L580 486.6L585.6 483.8L591.3 481.1L597.1 478.6L602.9 476.2L608.8 473.9L614.7 471.8L620.7 469.8L626.7 467.9L632.8 466.2L639 464.6L645.1 463.2L651.3 461.9L657.6 460.7L663.9 459.7L670.2 458.9L676.5 458.2L682.8 457.6L689.2 457.2L695.6 456.9L702 456.8L708.4 456.8L714.8 457L721.1 457.3L727.5 457.8L733.9 458.4L740.3 459.2L746.7 460.1L753 461.2L759.3 462.4L765.6 463.8L771.9 465.3L778.2 467L784.4 468.8L790.5 470.8L796.7 472.9L802.7 475.1L808.8 477.5L814.8 480L820.7 482.7L826.5 485.5L832.4 488.5L838.1 491.6L843.8 494.8L849.4 498.1L854.9 501.6L860.3 505.3L865.7 509L871 512.9L876.2 516.9L881.3 521L886.3 525.3L891.2 529.7L896 534.2L900.7 538.8L905.3 543.5L909.9 548.3L914.2 553.2L918.5 558.3L922.7 563.4L926.7 568.7L930.7 574L934.5 579.5L938.2 585L941.7 590.6L945.1 596.3L948.4 602.1L951.6 608L954.6 613.9L957.5 619.9L960.3 626L962.9 632.2L965.3 638.4L967.7 644.7L969.9 651L971.9 657.4L973.8 663.9L975.5 670.4L977.1 676.9L978.5 683.5L979.8 690.1L980.9 696.8L981.9 703.5L982.7 710.2L983.4 716.9L983.9 723.7L984.2 730.4L984.4 737.2L984.5 744L984.3 750.8L984.1 757.6L983.6 764.4L983 771.2L982.3 778L981.3 784.7L980.3 791.5L979 798.2L977.6 804.9L976.1 811.6L974.4 818.2L972.5 824.8L970.5 831.4L968.3 837.9L966 844.4L963.5 850.8L960.9 857.2L958.1 863.5L955.2 869.7L952.1 875.9L948.9 882.1L945.5 888.1L942 894.1L938.4 900L934.6 905.8L930.7 911.5L926.6 917.2L922.4 922.7L918.1 928.2L913.6 933.5L909 938.8L904.3 943.9L899.5 949L894.5 953.9L889.4 958.7L884.3 963.4L879 968L873.5 972.5L868 976.8L862.4 981L856.7 985.1L850.9 989.1L844.9 992.9L838.9 996.6L832.8 1000.1L826.6 1003.5L820.4 1006.8L814 1009.9L807.6 1012.9L801.1 1015.7L794.5 1018.4L787.9 1020.9L781.2 1023.3L774.5 1025.5L767.6 1027.6L760.8 1029.5L753.9 1031.3L746.9 1032.8L739.9 1034.3L732.9 1035.5L725.8 1036.6L718.7 1037.6L711.6 1038.3L704.4 1038.9L697.3 1039.4L690.1 1039.6L682.9 1039.7L675.7 1039.7L668.5 1039.4L661.3 1039L654.1 1038.5L647 1037.7L639.8 1036.8L632.7 1035.8L625.5 1034.5L618.4 1033.1L611.3 1031.6L604.3 1029.8L597.3 1027.9L590.3 1025.8L583.4 1023.6L576.5 1021.2L569.7 1018.7L563 1016L556.3 1013.1L549.6 1010L543 1006.9L536.5 1003.5L530.1 1000L523.8 996.4L517.5 992.6L511.3 988.6L505.2 984.5L499.2 980.3L493.3 975.9L487.5 971.4L481.8 966.7L476.2 961.9L470.7 957L465.3 952L460.1 946.8L454.9 941.5L449.9 936L445 930.5L440.2 924.8L435.6 919L431.1 913.1L426.7 907.1L422.4 901L418.3 894.8L414.4 888.5L410.6 882.1L406.9 875.6L403.4 869L400 862.3L396.8 855.6L393.8 848.7L390.9 841.8L388.1 834.9L385.6 827.8L383.1 820.7L380.9 813.5L378.8 806.3L376.9 799L375.2 791.7L373.6 784.3L372.2 776.9L371 769.5L369.9 762L369 754.5L368.3 747L367.8 739.4L367.4 731.8L367.2 724.3L367.2 716.7L367.4 709.1L367.7 701.5L368.3 693.9L369 686.3L369.8 678.7L370.9 671.2L372.1 663.7L373.5 656.1L375.1 648.7L376.9 641.2L378.8 633.8L380.9 626.5L383.2 619.1L385.6 611.9L388.3 604.6L391.1 597.5L394 590.4L397.2 583.4L400.4 576.4L403.9 569.5L407.5 562.7L411.3 556L415.2 549.3L419.3 542.8L423.6 536.3L428 529.9L432.5 523.6L437.2 517.5L442.1 511.4L447.1 505.5L452.2 499.6L457.5 493.9L462.9 488.3L468.4 482.8L474.1 477.5L479.9 472.3L485.8 467.2L491.9 462.2L498 457.4L504.3 452.7L510.7 448.2L517.2 443.8L523.8 439.6L530.5 435.5L537.3 431.6L544.2 427.8L551.2 424.2L558.3 420.8L565.5 417.5L572.7 414.3L580 411.4L587.4 408.6L594.9 406L602.4 403.6L610 401.3L617.6 399.2L625.3 397.3L633 395.5L640.8 394L648.7 392.6L656.5 391.4L664.4 390.4L672.3 389.6L680.3 388.9L688.2 388.5L696.2 388.2L704.2 388.1L712.2 388.2L720.2 388.5L728.2 389L736.2 389.6L744.1 390.5L752.1 391.5L760 392.7L767.9 394.1L775.8 395.7L783.7 397.5L791.5 399.5L799.2 401.6L807 403.9L814.6 406.4L822.3 409.1L829.8 412L837.3 415L844.7 418.2L852.1 421.6L859.4 425.2L866.6 428.9L873.7 432.8L880.7 436.9L887.7 441.1L894.5 445.5L901.2 450.1L907.9 454.8L914.4 459.7L920.8 464.7L927.1 469.9L933.3 475.2L939.4 480.7L945.3 486.3L951.1 492.1L956.8 498L962.4 504L967.8 510.2L973.1 516.5L978.2 522.9L983.2 529.5L988 536.1L992.7 542.9L997.2 549.8L1001.5 556.8L1005.7 563.9L1009.8 571.1L1013.6 578.4L1017.3 585.8L1020.8 593.3L1024.2 600.9L1027.4 608.5L1030.4 616.3L1033.2 624.1L1035.8 631.9L1038.3 639.9L1040.6 647.9L1042.7 655.9L1044.6 664.1L1046.3 672.2L1047.8 680.4L1049.2 688.7L1050.3 696.9L1051.3 705.2L1052 713.6L1052.6 721.9L1052.9 730.3L1053.1 738.7L1053.1 747.1L1052.9 755.4L1052.5 763.8L1051.9 772.2L1051.1 780.6L1050.1 789L1048.9 797.3L1047.5 805.6L1045.9 813.9L1044.1 822.2L1042.2 830.4L1040 838.5L1037.7 846.7L1035.1 854.7L1032.4 862.8L1029.5 870.7L1026.3 878.6L1023.1 886.4L1019.6 894.2L1015.9 901.9L1012.1 909.5L1008.1 917L1003.9 924.4L999.5 931.7L995 938.9L990.3 946L985.4 953.1L980.3 960L975.1 966.7L969.8 973.4L964.2 980L958.5 986.4L952.7 992.7L946.7 998.8L940.6 1004.8L934.3 1010.7L927.9 1016.5L921.4 1022L914.7 1027.5L907.9 1032.8L901 1037.9L893.9 1042.9L886.7 1047.7L879.4 1052.3L872 1056.8L864.5 1061.1L856.9 1065.2L849.2 1069.2L841.4 1073L833.5 1076.6L825.5 1080L817.4 1083.2L809.3 1086.2L801.1 1089.1L792.8 1091.8L784.4 1094.2L776 1096.5L767.5 1098.6L759 1100.5L750.4 1102.2L741.8 1103.6L733.1 1104.9L724.5 1106L715.7 1106.9L707 1107.6L698.2 1108.1L689.5 1108.3L680.7 1108.4L671.9 1108.3L663.1 1107.9L654.3 1107.4L645.5 1106.6L636.8 1105.7L628 1104.5L619.3 1103.2L610.6 1101.6L602 1099.8L593.3 1097.8L584.8 1095.7L576.2 1093.3L567.7 1090.7L559.3 1088L551 1085L542.7 1081.8L534.4 1078.5L526.3 1074.9L518.2 1071.1L510.2 1067.2L502.3 1063.1L494.5 1058.8L486.8 1054.3L479.2 1049.6L471.7 1044.8L464.3 1039.7L457 1034.5L449.9 1029.2L442.8 1023.6L435.9 1017.9L429.2 1012L422.5 1006L416 999.8L409.6 993.5L403.4 987L397.4 980.3L391.4 973.5L385.7 966.6L380.1 959.5L374.6 952.3L369.4 945L364.3 937.6L359.3 930L354.6 922.3L350 914.5L345.6 906.6L341.4 898.5L337.3 890.4L333.5 882.2L329.8 873.9L326.4 865.5L323.1 857L320 848.4L317.2 839.8L314.5 831.1L312 822.3L309.7 813.5L307.7 804.6L305.8 795.6L304.2 786.6L302.7 777.6L301.5 768.5L300.5 759.4L299.7 750.3L299.1 741.2L298.7 732L298.5 722.8L298.6 713.6L298.8 704.4L299.3 695.2L300 686.1L300.9 676.9L302 667.7L303.3 658.6L304.9 649.5L306.6 640.5L308.6 631.4L310.8 622.4L313.2 613.5L315.8 604.6L318.6 595.8L321.6 587L324.8 578.3L328.2 569.7L331.9 561.1L335.7 552.7L339.7 544.3L343.9 536L348.3 527.8L353 519.7L357.8 511.7L362.7 503.8L367.9 496L373.3 488.4L378.8 480.8L384.5 473.4L390.4 466.2L396.5 459L402.7 452L409.1 445.2L415.6 438.4L422.4 431.9L429.2 425.5L436.2 419.2L443.4 413.1L450.7 407.2L458.2 401.4L465.8 395.9L473.5 390.5L481.4 385.2L489.3 380.2L497.4 375.3L505.6 370.6L514 366.1L522.4 361.8L530.9 357.7L539.6 353.8L548.3 350.1L557.1 346.6L566 343.3L575 340.2L584.1 337.3L593.2 334.7L602.4 332.2L611.7 330L621 327.9L630.3 326.1L639.7 324.5L649.2 323.1L658.7 322L668.2 321L677.7 320.3L687.3 319.8L696.9 319.5L706.4 319.5L716 319.6L725.6 320L735.2 320.6L744.8 321.5L754.3 322.5L763.9 323.8L773.4 325.3L782.8 327.1L792.3 329L801.7 331.2L811 333.6L820.3 336.2L829.6 339L838.7 342.1L847.8 345.3L856.9 348.8L865.8 352.5L874.7 356.4L883.5 360.5L892.2 364.8L900.8 369.3L909.3 374L917.7 379L925.9 384.1L934.1 389.4L942.1 394.9L950 400.6L957.8 406.4L965.5 412.5L973 418.7L980.4 425.1L987.6 431.7L994.6 438.5L1001.6 445.4L1008.3 452.5L1014.9 459.7L1021.3 467.2L1027.6 474.7L1033.7 482.4L1039.6 490.3L1045.3 498.3L1050.8 506.4L1056.2 514.6L1061.3 523L1066.3 531.5L1071.1 540.2L1075.6 548.9L1080 557.7L1084.2 566.7L1088.1 575.7L1091.9 584.9L1095.4 594.1L1098.7 603.5L1101.8 612.9L1104.7 622.3L1107.4 631.9L1109.8 641.5L1112.1 651.2L1114.1 660.9L1115.8 670.7L1117.4 680.5L1118.7 690.4L1119.8 700.3L1120.6 710.2L1121.3 720.2L1121.6 730.1L1121.8 740.1L1121.7 750.1L1121.4 760.1L1120.9 770.1L1120.1 780L1119.1 790L1117.9 799.9L1116.4 809.9L1114.7 819.7L1112.8 829.6L1110.6 839.4L1108.2 849.2L1105.6 858.9L1102.8 868.5L1099.7 878.1L1096.4 887.6L1092.9 897.1L1089.2 906.4L1085.2 915.7L1081 924.9L1076.7 934L1072.1 943L1067.2 951.9L1062.2 960.7L1057 969.3L1051.6 977.9L1045.9 986.3L1040.1 994.6L1034.1 1002.8L1027.8 1010.8L1021.4 1018.7L1014.8 1026.4L1008.1 1034L1001.1 1041.4L994 1048.7L986.7 1055.8L979.2 1062.7L971.6 1069.5L963.8 1076.1L955.8 1082.5L947.7 1088.7L939.5 1094.8L931.1 1100.6L922.6 1106.3L913.9 1111.7L905.1 1117L896.2 1122.1L887.2 1126.9L878 1131.5L868.7 1136L859.4 1140.2L849.9 1144.2L840.3 1148L830.7 1151.5L820.9 1154.9L811.1 1158L801.2 1160.8L791.2 1163.5L781.2 1165.9L771.1 1168.1L760.9 1170L750.7 1171.8L740.5 1173.2L730.2 1174.5L719.9 1175.5L709.6 1176.2L699.2 1176.8L688.8 1177L678.4 1177.1L668 1176.9L657.7 1176.4L647.3 1175.7L636.9 1174.8L626.6 1173.6L616.2 1172.2L606 1170.6L595.7 1168.7L585.5 1166.5L575.3 1164.1L565.2 1161.5L555.1 1158.7L545.1 1155.6L535.2 1152.3L525.4 1148.7L515.6 1145L505.9 1140.9L496.3 1136.7L486.8 1132.3L477.4 1127.6L468.1 1122.7L458.9 1117.5L449.9 1112.2L440.9 1106.7L432.1 1100.9L423.4 1094.9L414.9 1088.8L406.5 1082.4L398.2 1075.8L390.1 1069.1L382.1 1062.1L374.3 1055L366.7 1047.6L359.2 1040.1L351.9 1032.4L344.8 1024.6L337.9 1016.6L331.2 1008.4L324.6 1000L318.2 991.5L312.1 982.9L306.1 974.1L300.3 965.2L294.8 956.1L289.4 946.9L284.3 937.5L279.3 928.1L274.6 918.5L270.2 908.8L265.9 899L261.9 889.1L258.1 879.1L254.5 869L251.2 858.9L248.1 848.6L245.2 838.3L242.6 827.9L240.2 817.4L238.1 806.9L236.2 796.4L234.5 785.7L233.1 775.1L232 764.4L231.1 753.7L230.4 742.9L230 732.1L229.8 721.4L229.9 710.6L230.3 699.8L230.9 689L231.7 678.2L232.8 667.5L234.2 656.8L235.8 646.1L237.7 635.4L239.8 624.8L242.1 614.2L244.7 603.7L247.6 593.2L250.6 582.8L254 572.4L257.5 562.2L261.4 552L265.4 541.9L269.7 531.9L274.2 522L279 512.2L284 502.5L289.2 492.9L294.6 483.4L300.3 474.1L306.1 464.9L312.2 455.8L318.5 446.8L325.1 438L331.8 429.4L338.7 420.9L345.8 412.6L353.2 404.4L360.7 396.4L368.4 388.6L376.3 380.9L384.3 373.5L392.6 366.2L401 359.1L409.6 352.2L418.3 345.5L427.2 339L436.3 332.7L445.5 326.6L454.8 320.8L464.3 315.1L474 309.7L483.7 304.5L493.6 299.5L503.6 294.7L513.7 290.2L523.9 285.9L534.2 281.8L544.7 278L555.2 274.5L565.8 271.1L576.4 268L587.2 265.2L598 262.6L608.9 260.3L619.8 258.2L630.8 256.4L641.8 254.8L652.9 253.5L664 252.4L675.2 251.6L686.3 251.1L697.5 250.8L708.7 250.8L719.9 251L731.1 251.5L742.2 252.3L753.4 253.3L764.5 254.6L775.6 256.2L786.7 258L797.8 260L808.8 262.3L819.7 264.9L830.6 267.7L841.4 270.8L852.2 274.2L862.8 277.7L873.4 281.6L883.9 285.7L894.4 290L904.7 294.6L914.9 299.4L925 304.5L935 309.7L944.9 315.3L954.6 321L964.2 327L973.7 333.2L983 339.7L992.2 346.3L1001.3 353.2L1010.1 360.3L1018.8 367.6L1027.4 375.1L1035.8 382.8L1044 390.6L1052 398.7L1059.8 407L1067.4 415.5L1074.9 424.1L1082.1 432.9L1089.2 441.9L1096 451.1L1102.6 460.4L1109 469.8L1115.2 479.5L1121.2 489.2L1126.9 499.1L1132.4 509.2L1137.7 519.4L1142.7 529.7L1147.5 540.1L1152.1 550.6L1156.4 561.3L1160.5 572L1164.3 582.8L1167.8 593.8L1171.2 604.8L1174.2 615.9L1177 627.1L1179.5 638.3L1181.8 649.6L1183.8 661L1185.6 672.4L1187.1 683.8L1188.3 695.3L1189.2 706.9L1189.9 718.4L1190.3 730L1190.5 741.6L1190.4 753.1L1190 764.7L1189.3 776.3L1188.4 787.9L1187.2 799.4L1185.7 810.9L1184 822.4L1182 833.9L1179.7 845.3L1177.1 856.6L1174.3 867.9L1171.3 879.2L1167.9 890.3L1164.3 901.4L1160.5 912.5L1156.4 923.4L1152 934.2L1147.4 944.9L1142.5 955.6L1137.4 966.1L1132 976.5L1126.4 986.8L1120.6 996.9L1114.5 1006.9L1108.1 1016.8L1101.6 1026.5L1094.8 1036.1L1087.8 1045.6L1080.6 1054.8L1073.1 1063.9L1065.5 1072.8L1057.6 1081.6L1049.5 1090.2L1041.2 1098.6L1032.8 1106.7L1024.1 1114.7L1015.3 1122.5L1006.2 1130.1L997 1137.5L987.6 1144.7L978 1151.6L968.3 1158.4L958.4 1164.9L948.4 1171.2L938.2 1177.2L927.9 1183L917.4 1188.6L906.8 1193.9L896.1 1199L885.2 1203.8L874.3 1208.4L863.2 1212.7L852 1216.8L840.8 1220.6L829.4 1224.2L818 1227.5L806.4 1230.5L794.8 1233.2L783.2 1235.7L771.4 1237.9L759.6 1239.9L747.8 1241.5L735.9 1242.9L724 1244.1L712.1 1244.9L700.1 1245.4L688.2 1245.7L676.2 1245.7L664.2 1245.5L652.2 1244.9L640.3 1244.1L628.3 1243L616.4 1241.6L604.5 1239.9L592.6 1237.9L580.8 1235.7L569 1233.2L557.3 1230.4L545.6 1227.4L534.1 1224.1L522.5 1220.5L511.1 1216.6L499.8 1212.5L488.5 1208.1L477.4 1203.4L466.3 1198.5L455.4 1193.4L444.6 1187.9L433.9 1182.2L423.3 1176.3L412.9 1170.1L402.6 1163.7L392.5 1157L382.5 1150.1L372.7 1143L363 1135.6L353.5 1128L344.2 1120.2L335.1 1112.2L326.1 1103.9L317.4 1095.5L308.8 1086.8L300.5 1077.9L292.3 1068.9L284.4 1059.6L276.6 1050.2L269.1 1040.5L261.8 1030.7L254.7 1020.8L247.9 1010.6L241.3 1000.3L234.9 989.9L228.8 979.3L222.9 968.5L217.3 957.6L211.9 946.6L206.8 935.4L202 924.2L197.4 912.8L193 901.3L189 889.7L185.2 878L181.6 866.2L178.4 854.3L175.4 842.3L172.7 830.3L170.3 818.2L168.2 806.1L166.3 793.9L164.7 781.6L163.4 769.3L162.4 757L161.7 744.7L161.3 732.3L161.2 719.9L161.3 707.5L161.8 695.2L162.5 682.8L163.5 670.4L164.8 658.1L166.4 645.8L168.3 633.5L170.4 621.3L172.9 609.1L175.6 596.9L178.6 584.9L181.9 572.9L185.5 560.9L189.4 549.1L193.5 537.3L197.9 525.7L202.6 514.1L207.5 502.6L212.8 491.3L218.2 480L224 468.9L230 458L236.3 447.1L242.8 436.4L249.6 425.9L256.6 415.5L263.8 405.3L271.3 395.2L279.1 385.4L287 375.7L295.2 366.1L303.6 356.8L312.3 347.7L321.1 338.7L330.2 330L339.5 321.5L348.9 313.1L358.6 305.1L368.4 297.2L378.5 289.5L388.7 282.1L399.1 275L409.6 268L420.4 261.3L431.2 254.9L442.3 248.7L453.5 242.8L464.8 237.1L476.2 231.7L487.8 226.5L499.5 221.7L511.3 217.1L523.3 212.7L535.3 208.7L547.4 204.9L559.7 201.4L572 198.2L584.3 195.3L596.8 192.7L609.3 190.3L621.9 188.3L634.5 186.5L647.2 185L659.9 183.9L672.6 183L685.4 182.4L698.1 182.1L710.9 182.1L723.7 182.4L736.5 183.1L749.3 184L762 185.2L774.7 186.7L787.4 188.5L800.1 190.6L812.7 193L825.2 195.6L837.7 198.6L850.1 201.9L862.5 205.4L874.8 209.3L886.9 213.4L899 217.8L911 222.5L922.9 227.5L934.7 232.8L946.3 238.3L957.8 244.1L969.2 250.2L980.5 256.5L991.6 263.1L1002.5 270L1013.3 277.1L1023.9 284.5L1034.4 292.1L1044.7 300L1054.8 308.1L1064.7 316.4L1074.4 325L1083.9 333.8L1093.3 342.8L1102.4 352.1L1111.3 361.5L1120 371.2L1128.4 381.1L1136.6 391.1L1144.6 401.4L1152.4 411.9L1159.9 422.5L1167.2 433.3L1174.2 444.3L1181 455.4L1187.5 466.7L1193.7 478.2L1199.7 489.8L1205.4 501.6L1210.8 513.5L1216 525.5L1220.9 537.6L1225.5 549.9L1229.8 562.2L1233.8 574.7L1237.6 587.3L1241 599.9L1244.2 612.6L1247 625.4L1249.6 638.3L1251.9 651.3L1253.8 664.3L1255.5 677.3L1256.8 690.4L1257.9 703.5L1258.6 716.7L1259 729.8L1259.2 743L1259 756.2L1258.5 769.4L1257.7 782.5L1256.6 795.7L1255.2 808.8L1253.5 821.9L1251.5 835L1249.2 848L1246.6 861L1243.6 873.9L1240.4 886.7L1236.9 899.5L1233.1 912.2L1228.9 924.8L1224.5 937.3L1219.8 949.7L1214.8 962L1209.5 974.2L1204 986.3L1198.1 998.2L1192 1010L1185.6 1021.7L1178.9 1033.2L1172 1044.6L1164.7 1055.8L1157.3 1066.8L1149.5 1077.7L1141.5 1088.4L1133.3 1098.9L1124.8 1109.2L1116.1 1119.3L1107.1 1129.2L1097.9 1138.9L1088.5 1148.4L1078.9 1157.7L1069 1166.7L1058.9 1175.6L1048.6 1184.2L1038.1 1192.5L1027.5 1200.6L1016.6 1208.5L1005.5 1216.1L994.3 1223.5L982.9 1230.6L971.3 1237.4L959.6 1244L947.7 1250.3L935.6 1256.3L923.4 1262L911.1 1267.5L898.7 1272.6L886.1 1277.5L873.4 1282.1L860.6 1286.4L847.7 1290.4L834.7 1294.1L821.6 1297.5L808.5 1300.6L795.2 1303.4L781.9 1305.8L768.6 1308L755.2 1309.9L741.7 1311.4L728.2 1312.6L714.7 1313.5L701.1 1314.1L687.5 1314.4L674 1314.4L660.4 1314L646.8 1313.4L633.2 1312.4L619.7 1311.1L606.2 1309.5L592.7 1307.6L579.3 1305.3L565.9 1302.8L552.5 1299.9L539.3 1296.7L526.1 1293.2L513 1289.5L499.9 1285.4L487 1281L474.2 1276.2L461.5 1271.2L448.8 1265.9L436.4 1260.3L424 1254.5L411.8 1248.3L399.7 1241.8L387.7 1235.1L376 1228L364.3 1220.7L352.9 1213.2L341.6 1205.3L330.5 1197.2L319.6 1188.9L308.9 1180.2L298.4 1171.4L288.1 1162.3L278 1152.9L268.1 1143.3L258.4 1133.5L249 1123.4L239.8 1113.1L230.8 1102.7L222.1 1092L213.6 1081.1L205.4 1069.9L197.4 1058.7L189.7 1047.2L182.3 1035.5L175.1 1023.7L168.2 1011.7L161.6 999.5L155.3 987.2L149.2 974.7L143.5 962.1L138 949.3L132.9 936.4L128 923.4L123.4 910.3L119.2 897L115.2 883.7L111.6 870.3L108.2 856.8L105.2 843.2L102.5 829.5L100.1 815.8L98.1 802L96.3 788.2L94.9 774.3L93.8 760.4L93 746.4L92.6 732.5L92.5 718.5L92.7 704.5L93.2 690.5L94.1 676.6L95.2 662.6L96.7 648.7L98.6 634.8L100.7 620.9L103.2 607.1L106 593.4L109.1 579.7L112.5 566.1L116.3 552.5L120.4 539.1L124.8 525.7L129.5 512.5L134.5 499.3L139.8 486.3L145.4 473.4L151.3 460.6L157.5 447.9L164 435.4L170.8 423.1L177.9 410.9L185.3 398.8L193 387L200.9 375.3L209.1 363.8L217.6 352.4L226.3 341.3L235.3 330.4L244.6 319.7L254.1 309.2L263.9 298.9L273.9 288.9L284.1 279L294.6 269.4L305.3 260.1L316.2 251L327.3 242.2L338.6 233.6L350.1 225.3L361.9 217.2L373.8 209.4L385.9 201.9L398.2 194.7L410.6 187.7L423.2 181.1L436 174.7L448.9 168.7L461.9 162.9L475.1 157.4L488.5 152.3L501.9 147.4L515.5 142.9L529.1 138.7L542.9 134.8L556.8 131.2L570.7 128L584.7 125L598.8 122.4L613 120.1L627.2 118.2"/>
</g>
<g fill="none" stroke="#000" stroke-width="1.7">
<path d="M547.9 506L527.2 473.9"/>
<path d="M602.9 476.2L590.2 440.2"/>
<path d="M663.9 459.7L659.9 422.9"/>
<path d="M727.5 457.8L731.9 423"/>
<path d="M790.5 470.8L802.4 438.9"/>
<path d="M849.4 498.1L868.1 470.3"/>
<path d="M900.7 538.8L923.1 518"/>
<path d="M941.7 590.6L971.3 573.9"/>
<path d="M969.9 651L1005 640.9"/>
<path d="M983.4 716.9L1023 715"/>
<path d="M981.3 784.7L1021.1 792.1"/>
<path d="M963.5 850.8L1001.9 867.8"/>
<path d="M930.7 911.5L965.9 938.3"/>
<path d="M884.3 963.4L913.4 998.8"/>
<path d="M826.6 1003.5L847.7 1046.4"/>
<path d="M760.8 1029.5L772.7 1082"/>
<path d="M690.1 1039.6L689.5 1108.3" stroke-width="3.2"/>
<path d="M618.4 1033.1L599.9 1108"/>
<path d="M487.5 971.4L432.4 1035.8"/>
<path d="M435.6 919L367.1 969"/>
<path d="M396.8 855.6L324.7 885.9"/>
<path d="M373.6 784.3L294.9 797.5"/>
<path d="M367.4 709.1L287.8 703.7"/>
<path d="M378.8 633.8L319.7 615.5"/>
<path d="M407.5 562.7L356.9 532.8"/>
<path d="M452.2 499.6L412.6 461.5"/>
<path d="M510.7 448.2L481.1 402.3"/>
<path d="M580 411.4L562 360.3"/>
<path d="M656.5 391.4L651.5 345.1"/>
<path d="M736.2 389.6L741.2 349.5"/>
<path d="M814.6 406.4L827.6 371.7"/>
<path d="M887.7 441.1L908.3 410.4"/>
<path d="M951.1 492.1L978 467.2"/>
<path d="M1001.5 556.8L1032.1 539.5"/>
<path d="M1035.8 631.9L1069.9 622.1"/>
<path d="M1052 713.6L1087.5 711.8"/>
<path d="M1048.9 797.3L1088.3 804.6"/>
<path d="M1026.3 878.6L1066.1 896.2"/>
<path d="M985.4 953.1L1023.7 982.1"/>
<path d="M927.9 1016.5L961.4 1057.1"/>
<path d="M856.9 1065.2L885.1 1122.8"/>
<path d="M776 1096.5L791.2 1163.5"/>
<path d="M689.5 1108.3L688.8 1182" stroke-width="3.2"/>
<path d="M602 1099.8L583.8 1173.2"/>
<path d="M518.2 1071.1L482.6 1140.4"/>
<path d="M442.8 1023.6L391.7 1083.4"/>
<path d="M380.1 959.5L316.6 1005.9"/>
<path d="M333.5 882.2L263.8 911.5"/>
<path d="M305.8 795.6L234.3 807.6"/>
<path d="M298.8 704.4L231.4 699.9"/>
<path d="M313.2 613.5L247.6 593.2"/>
<path d="M348.3 527.8L286.5 491.3"/>
<path d="M402.7 452L351 402.3"/>
<path d="M473.5 390.5L437.3 334.3"/>
<path d="M557.1 346.6L536 286.9"/>
<path d="M649.2 323.1L642.7 263.2"/>
<path d="M744.8 321.5L752.3 261.7"/>
<path d="M838.7 342.1L853.1 303.8"/>
<path d="M925.9 384.1L947 352.7"/>
<path d="M1001.6 445.4L1024 424.7"/>
<path d="M1061.3 523L1087.9 508"/>
<path d="M1101.8 612.9L1130.1 604.7"/>
<path d="M1120.6 710.2L1150 708.8"/>
<path d="M1116.4 809.9L1151.7 816.4"/>
<path d="M1089.2 906.4L1122 920.9"/>
<path d="M1040.1 994.6L1068.4 1016.1"/>
<path d="M971.6 1069.5L994.6 1097.5"/>
<path d="M887.2 1126.9L905.6 1164.6"/>
<path d="M791.2 1163.5L802.5 1213"/>
<path d="M688.8 1177L688.3 1228.9"/>
<path d="M585.5 1166.5L571.7 1222.5"/>
<path d="M486.8 1132.3L460.3 1183.8"/>
<path d="M398.2 1075.8L360 1120.5"/>
<path d="M324.6 1000L277.1 1034.7"/>
<path d="M270.2 908.8L216.3 931.4"/>
<path d="M238.1 806.9L182.7 816.2"/>
<path d="M230.3 699.8L176.2 696.1"/>
<path d="M247.6 593.2L203.8 579.6"/>
<path d="M289.2 492.9L250.7 470.2"/>
<path d="M353.2 404.4L322.6 375"/>
<path d="M436.3 332.7L414.2 298.4"/>
<path d="M534.2 281.8L520.2 242.3"/>
<path d="M641.8 254.8L637.2 211.9"/>
<path d="M753.4 253.3L758.8 210.5"/>
<path d="M862.8 277.7L877.2 239.5"/>
<path d="M964.2 327L985.7 295"/>
<path d="M1052 398.7L1079.4 373.3"/>
<path d="M1121.2 489.2L1151.1 472.3"/>
<path d="M1167.8 593.8L1201.2 584.1"/>
<path d="M1189.2 706.9L1228.5 704.9"/>
<path d="M1184 822.4L1222.6 829.6"/>
<path d="M1152 934.2L1187.2 949.8"/>
<path d="M1094.8 1036.1L1124.9 1059"/>
<path d="M1015.3 1122.5L1040.2 1152.9"/>
<path d="M917.4 1188.6L935.1 1224.6"/>
<path d="M806.4 1230.5L816.4 1274.4"/>
<path d="M688.2 1245.7L687.7 1294.2" stroke-width="3.2"/>
<path d="M569 1233.2L553.9 1294.4"/>
<path d="M455.4 1193.4L424.5 1253.4"/>
<path d="M353.5 1128L308.6 1180.5"/>
<path d="M269.1 1040.5L210.5 1083.3"/>
<path d="M206.8 935.4L140 963.5"/>
<path d="M170.3 818.2L99.5 830"/>
<path d="M161.8 695.2L90.2 690.3"/>
<path d="M181.9 572.9L113.4 551.6"/>
<path d="M230 458L168.2 421.5"/>
<path d="M303.6 356.8L260.2 315"/>
<path d="M399.1 275L368.1 226.8"/>
<path d="M511.3 217.1L492.4 163.4"/>
<path d="M634.5 186.5L628.9 134.1"/>
<path d="M762 185.2L768.6 132.9"/>
<path d="M886.9 213.4L905.4 164.1"/>
<path d="M1002.5 270L1023.8 238.3"/>
<path d="M1102.4 352.1L1130.4 326.1"/>
<path d="M1181 455.4L1214.2 436.7"/>
<path d="M1233.8 574.7L1266.8 565.2"/>
<path d="M1257.9 703.5L1292.6 701.8"/>
<path d="M1251.5 835L1285.7 841.3"/>
<path d="M1214.8 962L1245.9 975.8"/>
<path d="M1149.5 1077.7L1176.9 1098.4"/>
<path d="M1058.9 1175.6L1082.7 1204.5"/>
<path d="M947.7 1250.3L965 1285.6"/>
<path d="M821.6 1297.5L833.3 1348.8"/>
<path d="M687.5 1314.4L687 1374" stroke-width="3.2"/>
<path d="M552.5 1299.9L538.2 1358.1"/>
<path d="M424 1254.5L396.1 1308.8"/>
<path d="M308.9 1180.2L269.2 1226.7"/>
<path d="M213.6 1081.1L164.3 1117.1"/>
<path d="M143.5 962.1L87.9 985.4"/>
<path d="M102.5 829.5L47.6 838.7"/>
<path d="M93.2 690.5L37.6 686.8"/>
<path d="M116.3 552.5L68.2 537.6"/>
<path d="M170.8 423.1L135.7 402.3"/>
<path d="M254.1 309.2L226 282.2"/>
<path d="M361.9 217.2L341.2 185.1"/>
<path d="M488.5 152.3L475.5 115.6"/>
<path d="M627.2 118.2L622.6 75.5"/>
</g>
<g font-size="16" fill="#000">
<g transform="translate(675.6 476.8) rotate(-3.9)"><clipPath id="c3"><text x="9.4" y="0.5" textLength="64" lengthAdjust="spacingAndGlyphs">18-Sep</text></clipPath><text x="9" y="0" textLength="64" lengthAdjust="spacingAndGlyphs" clip-path="url(#c3)">18-Sep</text></g>
<g transform="translate(847.6 519) rotate(36.1)"><clipPath id="c6"><text x="9.4" y="0.5" textLength="64" lengthAdjust="spacingAndGlyphs">21-Sep</text></clipPath><text x="9" y="0" textLength="64" lengthAdjust="spacingAndGlyphs" clip-path="url(#c6)">21-Sep</text></g>
<g transform="translate(955.2 666.2) rotate(76.1)"><clipPath id="c9"><text x="9.4" y="0.5" textLength="64" lengthAdjust="spacingAndGlyphs">24-Sep</text></clipPath><text x="9" y="0" textLength="64" lengthAdjust="spacingAndGlyphs" clip-path="url(#c9)">24-Sep</text></g>
<g transform="translate(949.2 856.6) rotate(-63.9)"><clipPath id="c12"><text x="-7.5" y="0.5" text-anchor="end" textLength="64" lengthAdjust="spacingAndGlyphs">27-Sep</text></clipPath><text x="-8" y="0" text-anchor="end" textLength="64" lengthAdjust="spacingAndGlyphs" clip-path="url(#c12)">27-Sep</text></g>
<g transform="translate(811.7 998.9) rotate(-23.9)"><clipPath id="c15"><text x="-7.5" y="0.5" text-anchor="end" textLength="64" lengthAdjust="spacingAndGlyphs">30-Sep</text></clipPath><text x="-8" y="0" text-anchor="end" textLength="64" lengthAdjust="spacingAndGlyphs" clip-path="url(#c15)">30-Sep</text></g>
<g transform="translate(609.7 1019.8) rotate(16.1)"><clipPath id="c18"><text x="-7.5" y="0.5" text-anchor="end" textLength="64" lengthAdjust="spacingAndGlyphs">03-Oct</text></clipPath><text x="-8" y="0" text-anchor="end" textLength="64" lengthAdjust="spacingAndGlyphs" clip-path="url(#c18)">03-Oct</text></g>
<g transform="translate(437.3 903) rotate(56.1)"><clipPath id="c21"><text x="-7.5" y="0.5" text-anchor="end" textLength="64" lengthAdjust="spacingAndGlyphs">06-Oct</text></clipPath><text x="-8" y="0" text-anchor="end" textLength="64" lengthAdjust="spacingAndGlyphs" clip-path="url(#c21)">06-Oct</text></g>
<g transform="translate(386.5 698.4) rotate(-83.9)"><clipPath id="c24"><text x="9.4" y="0.5" textLength="64" lengthAdjust="spacingAndGlyphs">09-Oct</text></clipPath><text x="9" y="0" textLength="64" lengthAdjust="spacingAndGlyphs" clip-path="url(#c24)">09-Oct</text></g>
<g transform="translate(473.9 503.5) rotate(-43.9)"><clipPath id="c27"><text x="9.4" y="0.5" textLength="64" lengthAdjust="spacingAndGlyphs">12-Oct</text></clipPath><text x="9" y="0" textLength="64" lengthAdjust="spacingAndGlyphs" clip-path="url(#c27)">12-Oct</text></g>
<g transform="translate(671 408.3) rotate(-3.9)"><clipPath id="c30"><text x="9.4" y="0.5" textLength="64" lengthAdjust="spacingAndGlyphs">15-Oct</text></clipPath><text x="9" y="0" textLength="64" lengthAdjust="spacingAndGlyphs" clip-path="url(#c30)">15-Oct</text></g>
<g transform="translate(888.1 463.5) rotate(36.1)"><clipPath id="c33"><text x="9.4" y="0.5" textLength="64" lengthAdjust="spacingAndGlyphs">18-Oct</text></clipPath><text x="9" y="0" textLength="64" lengthAdjust="spacingAndGlyphs" clip-path="url(#c33)">18-Oct</text></g>
<g transform="translate(1021.9 649.7) rotate(76.1)"><clipPath id="c36"><text x="9.4" y="0.5" textLength="64" lengthAdjust="spacingAndGlyphs">21-Oct</text></clipPath><text x="9" y="0" textLength="64" lengthAdjust="spacingAndGlyphs" clip-path="url(#c36)">21-Oct</text></g>
<g transform="translate(1010.9 886.8) rotate(-63.9)"><clipPath id="c39"><text x="-7.5" y="0.5" text-anchor="end" textLength="64" lengthAdjust="spacingAndGlyphs">24-Oct</text></clipPath><text x="-8" y="0" text-anchor="end" textLength="64" lengthAdjust="spacingAndGlyphs" clip-path="url(#c39)">24-Oct</text></g>
<g transform="translate(839.5 1061.7) rotate(-23.9)"><clipPath id="c42"><text x="-7.5" y="0.5" text-anchor="end" textLength="64" lengthAdjust="spacingAndGlyphs">27-Oct</text></clipPath><text x="-8" y="0" text-anchor="end" textLength="64" lengthAdjust="spacingAndGlyphs" clip-path="url(#c42)">27-Oct</text></g>
<g transform="translate(590.7 1085.9) rotate(16.1)"><clipPath id="c45"><text x="-7.5" y="0.5" text-anchor="end" textLength="64" lengthAdjust="spacingAndGlyphs">30-Oct</text></clipPath><text x="-8" y="0" text-anchor="end" textLength="64" lengthAdjust="spacingAndGlyphs" clip-path="url(#c45)">30-Oct</text></g>
<g transform="translate(380.2 941.3) rotate(56.1)"><clipPath id="c48"><text x="-7.5" y="0.5" text-anchor="end" textLength="64" lengthAdjust="spacingAndGlyphs">02-Nov</text></clipPath><text x="-8" y="0" text-anchor="end" textLength="64" lengthAdjust="spacingAndGlyphs" clip-path="url(#c48)">02-Nov</text></g>
<g transform="translate(318.1 691.1) rotate(-83.9)"><clipPath id="c51"><text x="9.4" y="0.5" textLength="64" lengthAdjust="spacingAndGlyphs">05-Nov</text></clipPath><text x="9" y="0" textLength="64" lengthAdjust="spacingAndGlyphs" clip-path="url(#c51)">05-Nov</text></g>
<g transform="translate(426.3 454) rotate(-43.9)"><clipPath id="c54"><text x="9.4" y="0.5" textLength="64" lengthAdjust="spacingAndGlyphs">08-Nov</text></clipPath><text x="9" y="0" textLength="64" lengthAdjust="spacingAndGlyphs" clip-path="url(#c54)">08-Nov</text></g>
<g transform="translate(666.3 339.8) rotate(-3.9)"><clipPath id="c57"><text x="9.4" y="0.5" textLength="64" lengthAdjust="spacingAndGlyphs">11-Nov</text></clipPath><text x="9" y="0" textLength="64" lengthAdjust="spacingAndGlyphs" clip-path="url(#c57)">11-Nov</text></g>
<g transform="translate(928.6 408) rotate(36.1)"><clipPath id="c60"><text x="9.4" y="0.5" textLength="64" lengthAdjust="spacingAndGlyphs">14-Nov</text></clipPath><text x="9" y="0" textLength="64" lengthAdjust="spacingAndGlyphs" clip-path="url(#c60)">14-Nov</text></g>
<g transform="translate(1088.6 633.2) rotate(76.1)"><clipPath id="c63"><text x="9.4" y="0.5" textLength="64" lengthAdjust="spacingAndGlyphs">17-Nov</text></clipPath><text x="9" y="0" textLength="64" lengthAdjust="spacingAndGlyphs" clip-path="url(#c63)">17-Nov</text></g>
<g transform="translate(1072.6 917) rotate(-63.9)"><clipPath id="c66"><text x="-7.5" y="0.5" text-anchor="end" textLength="64" lengthAdjust="spacingAndGlyphs">20-Nov</text></clipPath><text x="-8" y="0" text-anchor="end" textLength="64" lengthAdjust="spacingAndGlyphs" clip-path="url(#c66)">20-Nov</text></g>
<g transform="translate(867.4 1124.5) rotate(-23.9)"><clipPath id="c69"><text x="-7.5" y="0.5" text-anchor="end" textLength="64" lengthAdjust="spacingAndGlyphs">23-Nov</text></clipPath><text x="-8" y="0" text-anchor="end" textLength="64" lengthAdjust="spacingAndGlyphs" clip-path="url(#c69)">23-Nov</text></g>
<g transform="translate(571.6 1151.9) rotate(16.1)"><clipPath id="c72"><text x="-7.5" y="0.5" text-anchor="end" textLength="64" lengthAdjust="spacingAndGlyphs">26-Nov</text></clipPath><text x="-8" y="0" text-anchor="end" textLength="64" lengthAdjust="spacingAndGlyphs" clip-path="url(#c72)">26-Nov</text></g>
<g transform="translate(323.2 979.7) rotate(56.1)"><clipPath id="c75"><text x="-7.5" y="0.5" text-anchor="end" textLength="64" lengthAdjust="spacingAndGlyphs">29-Nov</text></clipPath><text x="-8" y="0" text-anchor="end" textLength="64" lengthAdjust="spacingAndGlyphs" clip-path="url(#c75)">29-Nov</text></g>
<g transform="translate(249.8 683.8) rotate(-83.9)"><clipPath id="c78"><text x="9.4" y="0.5" textLength="64" lengthAdjust="spacingAndGlyphs">02-Dec</text></clipPath><text x="9" y="0" textLength="64" lengthAdjust="spacingAndGlyphs" clip-path="url(#c78)">02-Dec</text></g>
<g transform="translate(378.6 404.5) rotate(-43.9)"><clipPath id="c81"><text x="9.4" y="0.5" textLength="64" lengthAdjust="spacingAndGlyphs">05-Dec</text></clipPath><text x="9" y="0" textLength="64" lengthAdjust="spacingAndGlyphs" clip-path="url(#c81)">05-Dec</text></g>
<g transform="translate(661.6 271.2) rotate(-3.9)"><clipPath id="c84"><text x="9.4" y="0.5" textLength="64" lengthAdjust="spacingAndGlyphs">08-Dec</text></clipPath><text x="9" y="0" textLength="64" lengthAdjust="spacingAndGlyphs" clip-path="url(#c84)">08-Dec</text></g>
<g transform="translate(969 352.5) rotate(36.1)"><clipPath id="c87"><text x="9.4" y="0.5" textLength="64" lengthAdjust="spacingAndGlyphs">11-Dec</text></clipPath><text x="9" y="0" textLength="64" lengthAdjust="spacingAndGlyphs" clip-path="url(#c87)">11-Dec</text></g>
<g transform="translate(1155.3 616.6) rotate(76.1)"><clipPath id="c90"><text x="9.4" y="0.5" textLength="64" lengthAdjust="spacingAndGlyphs">14-Dec</text></clipPath><text x="9" y="0" textLength="64" lengthAdjust="spacingAndGlyphs" clip-path="url(#c90)">14-Dec</text></g>
<g transform="translate(1134.3 947.2) rotate(-63.9)"><clipPath id="c93"><text x="-7.5" y="0.5" text-anchor="end" textLength="64" lengthAdjust="spacingAndGlyphs">17-Dec</text></clipPath><text x="-8" y="0" text-anchor="end" textLength="64" lengthAdjust="spacingAndGlyphs" clip-path="url(#c93)">17-Dec</text></g>
<g transform="translate(895.2 1187.3) rotate(-23.9)"><clipPath id="c96"><text x="-7.5" y="0.5" text-anchor="end" textLength="64" lengthAdjust="spacingAndGlyphs">20-Dec</text></clipPath><text x="-8" y="0" text-anchor="end" textLength="64" lengthAdjust="spacingAndGlyphs" clip-path="url(#c96)">20-Dec</text></g>
<g transform="translate(552.6 1217.9) rotate(16.1)"><clipPath id="c99"><text x="-7.5" y="0.5" text-anchor="end" textLength="64" lengthAdjust="spacingAndGlyphs">23-Dec</text></clipPath><text x="-8" y="0" text-anchor="end" textLength="64" lengthAdjust="spacingAndGlyphs" clip-path="url(#c99)">23-Dec</text></g>
<g transform="translate(266.2 1018) rotate(56.1)"><clipPath id="c102"><text x="-7.5" y="0.5" text-anchor="end" textLength="64" lengthAdjust="spacingAndGlyphs">26-Dec</text></clipPath><text x="-8" y="0" text-anchor="end" textLength="64" lengthAdjust="spacingAndGlyphs" clip-path="url(#c102)">26-Dec</text></g>
<g transform="translate(181.5 676.5) rotate(-83.9)"><clipPath id="c105"><text x="9.4" y="0.5" textLength="64" lengthAdjust="spacingAndGlyphs">29-Dec</text></clipPath><text x="9" y="0" textLength="64" lengthAdjust="spacingAndGlyphs" clip-path="url(#c105)">29-Dec</text></g>
<g transform="translate(331 355) rotate(-43.9)"><clipPath id="c108"><text x="9.4" y="0.5" textLength="64" lengthAdjust="spacingAndGlyphs">01-Jan</text></clipPath><text x="9" y="0" textLength="64" lengthAdjust="spacingAndGlyphs" clip-path="url(#c108)">01-Jan</text></g>
<g transform="translate(656.9 202.7) rotate(-3.9)"><clipPath id="c111"><text x="9.4" y="0.5" textLength="64" lengthAdjust="spacingAndGlyphs">04-Jan</text></clipPath><text x="9" y="0" textLength="64" lengthAdjust="spacingAndGlyphs" clip-path="url(#c111)">04-Jan</text></g>
<g transform="translate(1009.5 296.9) rotate(36.1)"><clipPath id="c114"><text x="9.4" y="0.5" textLength="64" lengthAdjust="spacingAndGlyphs">07-Jan</text></clipPath><text x="9" y="0" textLength="64" lengthAdjust="spacingAndGlyphs" clip-path="url(#c114)">07-Jan</text></g>
<g transform="translate(1221.9 600.1) rotate(76.1)"><clipPath id="c117"><text x="9.4" y="0.5" textLength="64" lengthAdjust="spacingAndGlyphs">10-Jan</text></clipPath><text x="9" y="0" textLength="64" lengthAdjust="spacingAndGlyphs" clip-path="url(#c117)">10-Jan</text></g>
<g transform="translate(1196 977.4) rotate(-63.9)"><clipPath id="c120"><text x="-7.5" y="0.5" text-anchor="end" textLength="64" lengthAdjust="spacingAndGlyphs">13-Jan</text></clipPath><text x="-8" y="0" text-anchor="end" textLength="64" lengthAdjust="spacingAndGlyphs" clip-path="url(#c120)">13-Jan</text></g>
<g transform="translate(923.1 1250.1) rotate(-23.9)"><clipPath id="c123"><text x="-7.5" y="0.5" text-anchor="end" textLength="64" lengthAdjust="spacingAndGlyphs">16-Jan</text></clipPath><text x="-8" y="0" text-anchor="end" textLength="64" lengthAdjust="spacingAndGlyphs" clip-path="url(#c123)">16-Jan</text></g>
<g transform="translate(533.5 1283.9) rotate(16.1)"><clipPath id="c126"><text x="-7.5" y="0.5" text-anchor="end" textLength="64" lengthAdjust="spacingAndGlyphs">19-Jan</text></clipPath><text x="-8" y="0" text-anchor="end" textLength="64" lengthAdjust="spacingAndGlyphs" clip-path="url(#c126)">19-Jan</text></g>
<g transform="translate(209.2 1056.3) rotate(56.1)"><clipPath id="c129"><text x="-7.5" y="0.5" text-anchor="end" textLength="64" lengthAdjust="spacingAndGlyphs">22-Jan</text></clipPath><text x="-8" y="0" text-anchor="end" textLength="64" lengthAdjust="spacingAndGlyphs" clip-path="url(#c129)">22-Jan</text></g>
<g transform="translate(113.2 669.2) rotate(-83.9)"><clipPath id="c132"><text x="9.4" y="0.5" textLength="64" lengthAdjust="spacingAndGlyphs">25-Jan</text></clipPath><text x="9" y="0" textLength="64" lengthAdjust="spacingAndGlyphs" clip-path="url(#c132)">25-Jan</text></g>
</g>
<g stroke="#fff" stroke-width="1" stroke-dasharray="3 1.5" fill="none" shape-rendering="crispEdges">
<path d="M576.0 1365.0L579.6 1345.3"/>
<path d="M610.0 1370.0L613.6 1342.2"/>
<path d="M636.0 1372.0L637.8 1352.1"/>
<path d="M664.0 1374.0L664.8 1357.0"/>
<path d="M726.0 1365.0L725.3 1351.0"/>
<path d="M780.0 1360.0L777.3 1340.2"/>
<path d="M37.0 696.6L51.0 697.3"/>
<path d="M38.9 749.5L55.9 749.0"/>
<path d="M40.0 767.4L52.0 766.7"/>
<path d="M42.0 786.9L58.9 785.4"/>
<path d="M44.0 808.0L61.9 805.9"/>
<path d="M47.0 830.9L62.8 828.5"/>
<path d="M54.0 861.0L67.2 858.3"/>
<path d="M55.0 578.8L72.0 582.8"/>
<path d="M49.0 607.5L64.7 610.5"/>
<path d="M47.5 632.5L64.8 635.1"/>
<path d="M41.0 646.0L56.9 648.1"/>
<path d="M41.0 674.0L56.9 675.4"/>
<path d="M549.0 94.0L551.0 102.8"/>
<path d="M580.6 86.0L582.0 93.9"/>
<path d="M604.0 83.0L605.5 93.9"/>
</g>
<!-- legend -->
<circle cx="42" cy="28" r="14.7" fill="#b0b0b0"/>
<circle cx="42" cy="84.2" r="14" fill="none" stroke="#aeaeae" stroke-width="1.9"/>
<g fill="#000" stroke="#fff" stroke-width="0.3">
<text x="71" y="27.5" font-size="14.6" textLength="78.5" lengthAdjust="spacingAndGlyphs">New Moon</text>
<text x="71" y="83.2" font-size="14.6" textLength="73.5" lengthAdjust="spacingAndGlyphs">Full Moon</text>
<text x="1267.5" y="37.5" font-size="15.4" textLength="126" lengthAdjust="spacingAndGlyphs">Period: 27 days</text>
<text x="5.5" y="1394.5" font-size="15.6" textLength="104.5" lengthAdjust="spacingAndGlyphs">GI-UAF 2025</text>
<text x="1074.5" y="1395" font-size="15.6" textLength="318" lengthAdjust="spacingAndGlyphs">Condegram plotted Jan 31 at 07:02 UT</text>
<g font-size="13.6" font-weight="bold" stroke="none">
<text x="699.5" y="49.5" textLength="27" lengthAdjust="spacingAndGlyphs">250</text>
<text x="699.5" y="71.5" textLength="27" lengthAdjust="spacingAndGlyphs">190</text>
<text x="699.5" y="94.6" textLength="27" lengthAdjust="spacingAndGlyphs">130</text>
</g>
<!-- scale bar -->
<path d="M671.4 573.4H707.1M671.4 642H707.1" stroke="#000" stroke-width="1.3" fill="none"/>
<path d="M688.3 573.4V642" stroke="#000" stroke-width="2" fill="none"/>
<text x="719" y="579.4" font-size="18" textLength="75.3" lengthAdjust="spacingAndGlyphs">250 sfu</text>
<text x="720" y="647.7" font-size="18" textLength="61.4" lengthAdjust="spacingAndGlyphs">70 sfu</text>
</g>
<!-- centre title -->
<g fill="#f0262e" stroke="#fff" stroke-width="0.6">
<text class="ser" stroke="none" x="560" y="727.1" font-size="34" font-style="italic" textLength="271.4" lengthAdjust="spacingAndGlyphs">10.7 cm Solar</text>
<text class="ser" stroke="none" x="586.3" y="758.6" font-size="34" font-style="italic" textLength="213.7" lengthAdjust="spacingAndGlyphs">Radio Flux</text>
<text x="637.7" y="804.3" font-size="33" textLength="109.4" lengthAdjust="spacingAndGlyphs">70 sfu</text>
<text x="571.4" y="885.7" font-size="29" textLength="243" lengthAdjust="spacingAndGlyphs">Latest: 20:00 UT</text>
<text x="590" y="911.4" font-size="28.5" textLength="205.7" lengthAdjust="spacingAndGlyphs">2025-Jan-30</text>
</g>

</svg>
</body></html>
